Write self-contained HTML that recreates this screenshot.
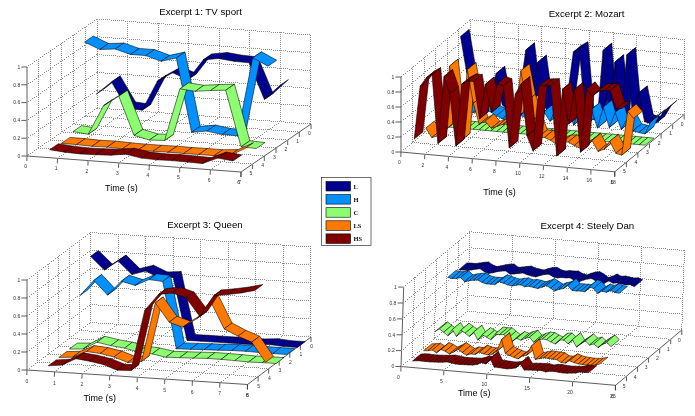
<!DOCTYPE html>
<html><head><meta charset="utf-8"><title>Excerpts</title>
<style>
html,body{margin:0;padding:0;background:#fff;}
svg{display:block;filter:blur(0.3px);font-family:"Liberation Sans",sans-serif;}
.g{stroke:#8e8e8e;stroke-width:1;fill:none;shape-rendering:crispEdges}
.ax{stroke:#333;stroke-width:.8;fill:none}
.rb path{stroke:#000;stroke-width:.55;stroke-linejoin:round}
.tk{font-size:5px;fill:#333}
.ti{font-size:9.7px;fill:#000}
.xl{font-size:9px;fill:#000}
.lg{font-size:6.5px;font-weight:bold;fill:#111;font-family:"Liberation Serif",serif}
</style></head><body>
<svg width="695" height="416" viewBox="0 0 695 416">
<rect width="695" height="416" fill="#fff"/>
<line x1="27.0" y1="156.0" x2="241.0" y2="172.0" class="ax"/>
<line x1="241.0" y1="172.0" x2="311.0" y2="124.0" class="ax"/>
<line x1="27.0" y1="156.0" x2="27.0" y2="67.0" class="ax"/>
<line x1="27.0" y1="156.0" x2="26.8" y2="161.0" class="ax"/>
<text x="25.7" y="167.9" class="tk" text-anchor="middle">0</text>
<line x1="57.5" y1="158.3" x2="57.3" y2="163.3" class="ax"/>
<text x="56.2" y="170.2" class="tk" text-anchor="middle">1</text>
<line x1="88.1" y1="160.6" x2="87.9" y2="165.6" class="ax"/>
<text x="86.8" y="172.5" class="tk" text-anchor="middle">2</text>
<line x1="118.7" y1="162.9" x2="118.5" y2="167.9" class="ax"/>
<text x="117.4" y="174.8" class="tk" text-anchor="middle">3</text>
<line x1="149.3" y1="165.2" x2="149.1" y2="170.2" class="ax"/>
<text x="148.0" y="177.1" class="tk" text-anchor="middle">4</text>
<line x1="179.8" y1="167.4" x2="179.6" y2="172.4" class="ax"/>
<text x="178.5" y="179.3" class="tk" text-anchor="middle">5</text>
<line x1="210.4" y1="169.7" x2="210.2" y2="174.7" class="ax"/>
<text x="209.1" y="181.6" class="tk" text-anchor="middle">6</text>
<line x1="241.0" y1="172.0" x2="240.8" y2="177.0" class="ax"/>
<text x="239.7" y="183.9" class="tk" text-anchor="middle">7</text>
<line x1="311.0" y1="124.0" x2="311.0" y2="129.0" class="ax"/>
<text x="309.3" y="135.0" class="tk" text-anchor="middle">0</text>
<line x1="299.3" y1="132.0" x2="299.3" y2="137.0" class="ax"/>
<text x="297.6" y="143.0" class="tk" text-anchor="middle">1</text>
<line x1="287.7" y1="140.0" x2="287.7" y2="145.0" class="ax"/>
<text x="286.0" y="151.0" class="tk" text-anchor="middle">2</text>
<line x1="276.0" y1="148.0" x2="276.0" y2="153.0" class="ax"/>
<text x="274.3" y="159.0" class="tk" text-anchor="middle">3</text>
<line x1="264.3" y1="156.0" x2="264.3" y2="161.0" class="ax"/>
<text x="262.6" y="167.0" class="tk" text-anchor="middle">4</text>
<line x1="252.6" y1="164.0" x2="252.6" y2="169.0" class="ax"/>
<text x="250.9" y="175.0" class="tk" text-anchor="middle">5</text>
<line x1="241.0" y1="172.0" x2="241.0" y2="177.0" class="ax"/>
<text x="238.7" y="184.0" class="tk" text-anchor="middle">6</text>
<line x1="21.4" y1="156.0" x2="27.0" y2="156.0" class="ax"/>
<text x="20.2" y="157.8" class="tk" text-anchor="end">0</text>
<line x1="21.4" y1="138.2" x2="27.0" y2="138.2" class="ax"/>
<text x="20.2" y="140.0" class="tk" text-anchor="end">0.2</text>
<line x1="21.4" y1="120.4" x2="27.0" y2="120.4" class="ax"/>
<text x="20.2" y="122.2" class="tk" text-anchor="end">0.4</text>
<line x1="21.4" y1="102.6" x2="27.0" y2="102.6" class="ax"/>
<text x="20.2" y="104.4" class="tk" text-anchor="end">0.6</text>
<line x1="21.4" y1="84.8" x2="27.0" y2="84.8" class="ax"/>
<text x="20.2" y="86.6" class="tk" text-anchor="end">0.8</text>
<line x1="21.4" y1="67.0" x2="27.0" y2="67.0" class="ax"/>
<text x="20.2" y="68.8" class="tk" text-anchor="end">1</text>
<path class="g" d="M97 19.5h1m-1 2h1m-1 2h1m-1 2h1m-1 2h1m-1 2h1m-1 2h1m-1 2h1m-1 2h1m-1 2h1m-1 2h1m-1 2h1m-1 2h1m-1 2h1m-1 2h1m-1 2h1m-1 2h1m-1 2h1m-1 2h1m-1 2h1m-1 2h1m-1 2h1m-1 2h1m-1 2h1m-1 2h1m-1 2h1m-1 2h1m-1 2h1m-1 2h1m-1 2h1m-1 2h1m-1 2h1m-1 2h1m-1 2h1m-1 2h1m-1 2h1m-1 2h1m-1 2h1m-1 2h1m-1 2h1m-1 2h1m-1 2h1m-1 2h1m-1 2h1m-1 2h1m29 -86h1m-1 2h1m-1 2h1m-1 2h1m-1 2h1m-1 2h1m-1 2h1m-1 2h1m-1 2h1m-1 2h1m-1 2h1m-1 2h1m-1 2h1m-1 2h1m-1 2h1m-1 2h1m-1 2h1m-1 2h1m-1 2h1m-1 2h1m-1 2h1m-1 2h1m-1 2h1m-1 2h1m-1 2h1m-1 2h1m-1 2h1m-1 2h1m-1 2h1m-1 2h1m-1 2h1m-1 2h1m-1 2h1m-1 2h1m-1 2h1m-1 2h1m-1 2h1m-1 2h1m-1 2h1m-1 2h1m-1 2h1m-1 2h1m-1 2h1m-1 2h1m-1 2h1m-71 49h1m1 -2h1m1 -1h1m1 -1h1m1 -2h1m1 -1h1m1 -1h1m1 -2h1m1 -1h1m1 -2h1m1 -1h1m1 -1h1m1 -2h1m1 -1h1m1 -1h1m1 -2h1m1 -1h1m1 -1h1m1 -2h1m1 -1h1m1 -2h1m1 -1h1m1 -1h1m1 -2h1m1 -1h1m1 -1h1m1 -2h1m1 -1h1m1 -2h1m1 -1h1m1 -1h1m1 -2h1m1 -1h1m1 -1h1m1 -2h1m1 -1h1m30 -87h1m-1 2h1m-1 2h1m-1 2h1m-1 2h1m-1 2h1m-1 2h1m-1 2h1m-1 2h1m-1 2h1m-1 2h1m-1 2h1m-1 2h1m-1 2h1m-1 2h1m-1 2h1m-1 2h1m-1 2h1m-1 2h1m-1 2h1m-1 2h1m-1 2h1m-1 2h1m-1 2h1m-1 2h1m-1 2h1m-1 2h1m-1 2h1m-1 2h1m-1 2h1m-1 2h1m-1 2h1m-1 2h1m-1 2h1m-1 2h1m-1 2h1m-1 2h1m-1 2h1m-1 2h1m-1 2h1m-1 2h1m-1 2h1m-1 2h1m-1 2h1m-1 2h1m-71 49h1m1 -2h1m1 -1h1m1 -1h1m1 -2h1m1 -1h1m1 -1h1m1 -2h1m1 -1h1m1 -2h1m1 -1h1m1 -1h1m1 -2h1m1 -1h1m1 -1h1m1 -2h1m1 -1h1m1 -1h1m1 -2h1m1 -1h1m1 -2h1m1 -1h1m1 -1h1m1 -2h1m1 -1h1m1 -1h1m1 -2h1m1 -1h1m1 -2h1m1 -1h1m1 -1h1m1 -2h1m1 -1h1m1 -1h1m1 -2h1m31 -88h1m-1 2h1m-1 2h1m-1 2h1m-1 2h1m-1 2h1m-1 2h1m-1 2h1m-1 2h1m-1 2h1m-1 2h1m-1 2h1m-1 2h1m-1 2h1m-1 2h1m-1 2h1m-1 2h1m-1 2h1m-1 2h1m-1 2h1m-1 2h1m-1 2h1m-1 2h1m-1 2h1m-1 2h1m-1 2h1m-1 2h1m-1 2h1m-1 2h1m-1 2h1m-1 2h1m-1 2h1m-1 2h1m-1 2h1m-1 2h1m-1 2h1m-1 2h1m-1 2h1m-1 2h1m-1 2h1m-1 2h1m-1 2h1m-1 2h1m-1 2h1m-1 2h1m-71 50h1m1 -2h1m1 -1h1m1 -2h1m1 -1h1m1 -1h1m1 -2h1m1 -1h1m1 -1h1m1 -2h1m1 -1h1m1 -2h1m1 -1h1m1 -1h1m1 -2h1m1 -1h1m1 -1h1m1 -2h1m1 -1h1m1 -2h1m1 -1h1m1 -1h1m1 -2h1m1 -1h1m1 -1h1m1 -2h1m1 -1h1m1 -2h1m1 -1h1m1 -1h1m1 -2h1m1 -1h1m1 -1h1m1 -2h1m1 -1h1m1 -1h1m30 -87h1m-1 2h1m-1 2h1m-1 2h1m-1 2h1m-1 2h1m-1 2h1m-1 2h1m-1 2h1m-1 2h1m-1 2h1m-1 2h1m-1 2h1m-1 2h1m-1 2h1m-1 2h1m-1 2h1m-1 2h1m-1 2h1m-1 2h1m-1 2h1m-1 2h1m-1 2h1m-1 2h1m-1 2h1m-1 2h1m-1 2h1m-1 2h1m-1 2h1m-1 2h1m-1 2h1m-1 2h1m-1 2h1m-1 2h1m-1 2h1m-1 2h1m-1 2h1m-1 2h1m-1 2h1m-1 2h1m-1 2h1m-1 2h1m-1 2h1m-1 2h1m-1 2h1m-71 48h1m1 -1h1m1 -1h1m1 -2h1m1 -1h1m1 -1h1m1 -2h1m1 -1h1m1 -1h1m1 -2h1m1 -1h1m1 -2h1m1 -1h1m1 -1h1m1 -2h1m1 -1h1m1 -1h1m1 -2h1m1 -1h1m1 -2h1m1 -1h1m1 -1h1m1 -2h1m1 -1h1m1 -1h1m1 -2h1m1 -1h1m1 -2h1m1 -1h1m1 -1h1m1 -2h1m1 -1h1m1 -1h1m1 -2h1m1 -1h1m31 -88h1m-1 2h1m-1 2h1m-1 2h1m-1 2h1m-1 2h1m-1 2h1m-1 2h1m-1 2h1m-1 2h1m-1 2h1m-1 2h1m-1 2h1m-1 2h1m-1 2h1m-1 2h1m-1 2h1m-1 2h1m-1 2h1m-1 2h1m-1 2h1m-1 2h1m-1 2h1m-1 2h1m-1 2h1m-1 2h1m-1 2h1m-1 2h1m-1 2h1m-1 2h1m-1 2h1m-1 2h1m-1 2h1m-1 2h1m-1 2h1m-1 2h1m-1 2h1m-1 2h1m-1 2h1m-1 2h1m-1 2h1m-1 2h1m-1 2h1m-1 2h1m-1 2h1m-71 49h1m1 -1h1m1 -2h1m1 -1h1m1 -1h1m1 -2h1m1 -1h1m1 -1h1m1 -2h1m1 -1h1m1 -2h1m1 -1h1m1 -1h1m1 -2h1m1 -1h1m1 -1h1m1 -2h1m1 -1h1m1 -2h1m1 -1h1m1 -1h1m1 -2h1m1 -1h1m1 -1h1m1 -2h1m1 -1h1m1 -1h1m1 -2h1m1 -1h1m1 -2h1m1 -1h1m1 -1h1m1 -2h1m1 -1h1m1 -1h1m1 -2h1m30 -87h1m-1 2h1m-1 2h1m-1 2h1m-1 2h1m-1 2h1m-1 2h1m-1 2h1m-1 2h1m-1 2h1m-1 2h1m-1 2h1m-1 2h1m-1 2h1m-1 2h1m-1 2h1m-1 2h1m-1 2h1m-1 2h1m-1 2h1m-1 2h1m-1 2h1m-1 2h1m-1 2h1m-1 2h1m-1 2h1m-1 2h1m-1 2h1m-1 2h1m-1 2h1m-1 2h1m-1 2h1m-1 2h1m-1 2h1m-1 2h1m-1 2h1m-1 2h1m-1 2h1m-1 2h1m-1 2h1m-1 2h1m-1 2h1m-1 2h1m-1 2h1m-1 2h1m-71 49h1m1 -1h1m1 -2h1m1 -1h1m1 -1h1m1 -2h1m1 -1h1m1 -1h1m1 -2h1m1 -1h1m1 -2h1m1 -1h1m1 -1h1m1 -2h1m1 -1h1m1 -1h1m1 -2h1m1 -1h1m1 -2h1m1 -1h1m1 -1h1m1 -2h1m1 -1h1m1 -1h1m1 -2h1m1 -1h1m1 -1h1m1 -2h1m1 -1h1m1 -2h1m1 -1h1m1 -1h1m1 -2h1m1 -1h1m1 -1h1m31 -88h1m-1 2h1m-1 2h1m-1 2h1m-1 2h1m-1 2h1m-1 2h1m-1 2h1m-1 2h1m-1 2h1m-1 2h1m-1 2h1m-1 2h1m-1 2h1m-1 2h1m-1 2h1m-1 2h1m-1 2h1m-1 2h1m-1 2h1m-1 2h1m-1 2h1m-1 2h1m-1 2h1m-1 2h1m-1 2h1m-1 2h1m-1 2h1m-1 2h1m-1 2h1m-1 2h1m-1 2h1m-1 2h1m-1 2h1m-1 2h1m-1 2h1m-1 2h1m-1 2h1m-1 2h1m-1 2h1m-1 2h1m-1 2h1m-1 2h1m-1 2h1m-1 2h1m-214 -15h1m1 0h1m1 0h1m1 0h1m1 0h1m1 0h1m1 0h1m1 1h1m1 0h1m1 0h1m1 0h1m1 0h1m1 0h1m1 0h1m1 1h1m1 0h1m1 0h1m1 0h1m1 0h1m1 0h1m1 1h1m1 0h1m1 0h1m1 0h1m1 0h1m1 0h1m1 0h1m1 1h1m1 0h1m1 0h1m1 0h1m1 0h1m1 0h1m1 0h1m1 1h1m1 0h1m1 0h1m1 0h1m1 0h1m1 0h1m1 1h1m1 0h1m1 0h1m1 0h1m1 0h1m1 0h1m1 0h1m1 1h1m1 0h1m1 0h1m1 0h1m1 0h1m1 0h1m1 0h1m1 1h1m1 0h1m1 0h1m1 0h1m1 0h1m1 0h1m1 1h1m1 0h1m1 0h1m1 0h1m1 0h1m1 0h1m1 0h1m1 1h1m1 0h1m1 0h1m1 0h1m1 0h1m1 0h1m1 0h1m1 1h1m1 0h1m1 0h1m1 0h1m1 0h1m1 0h1m1 1h1m1 0h1m1 0h1m1 0h1m1 0h1m1 0h1m1 0h1m1 1h1m1 0h1m1 0h1m1 0h1m1 0h1m1 0h1m1 0h1m1 1h1m1 0h1m1 0h1m1 0h1m1 0h1m1 0h1m1 1h1m1 0h1m1 0h1m1 0h1m1 0h1m1 0h1m1 0h1m-284 33h1m1 -2h1m1 -1h1m1 -1h1m1 -2h1m1 -1h1m1 -1h1m1 -2h1m1 -1h1m1 -2h1m1 -1h1m1 -1h1m1 -2h1m1 -1h1m1 -1h1m1 -2h1m1 -1h1m1 -1h1m1 -2h1m1 -1h1m1 -2h1m1 -1h1m1 -1h1m1 -2h1m1 -1h1m1 -1h1m1 -2h1m1 -1h1m1 -2h1m1 -1h1m1 -1h1m1 -2h1m1 -1h1m1 -1h1m1 -2h1m1 -1h1m0 -18h1m1 0h1m1 0h1m1 0h1m1 0h1m1 0h1m1 1h1m1 0h1m1 0h1m1 0h1m1 0h1m1 0h1m1 1h1m1 0h1m1 0h1m1 0h1m1 0h1m1 0h1m1 0h1m1 1h1m1 0h1m1 0h1m1 0h1m1 0h1m1 0h1m1 0h1m1 1h1m1 0h1m1 0h1m1 0h1m1 0h1m1 0h1m1 1h1m1 0h1m1 0h1m1 0h1m1 0h1m1 0h1m1 0h1m1 1h1m1 0h1m1 0h1m1 0h1m1 0h1m1 0h1m1 0h1m1 1h1m1 0h1m1 0h1m1 0h1m1 0h1m1 0h1m1 1h1m1 0h1m1 0h1m1 0h1m1 0h1m1 0h1m1 0h1m1 1h1m1 0h1m1 0h1m1 0h1m1 0h1m1 0h1m1 0h1m1 1h1m1 0h1m1 0h1m1 0h1m1 0h1m1 0h1m1 1h1m1 0h1m1 0h1m1 0h1m1 0h1m1 0h1m1 0h1m1 1h1m1 0h1m1 0h1m1 0h1m1 0h1m1 0h1m1 0h1m1 1h1m1 0h1m1 0h1m1 0h1m1 0h1m1 0h1m1 1h1m1 0h1m1 0h1m1 0h1m1 0h1m1 0h1m1 0h1m1 1h1m1 0h1m1 0h1m1 0h1m1 0h1m1 0h1m1 0h1m1 1h1m-284 32h1m1 -1h1m1 -2h1m1 -1h1m1 -1h1m1 -2h1m1 -1h1m1 -2h1m1 -1h1m1 -1h1m1 -2h1m1 -1h1m1 -1h1m1 -2h1m1 -1h1m1 -2h1m1 -1h1m1 -1h1m1 -2h1m1 -1h1m1 -1h1m1 -2h1m1 -1h1m1 -2h1m1 -1h1m1 -1h1m1 -2h1m1 -1h1m1 -1h1m1 -2h1m1 -1h1m1 -1h1m1 -2h1m1 -1h1m1 -2h1m1 -1h1m0 -18h1m1 0h1m1 0h1m1 0h1m1 1h1m1 0h1m1 0h1m1 0h1m1 0h1m1 0h1m1 0h1m1 1h1m1 0h1m1 0h1m1 0h1m1 0h1m1 0h1m1 0h1m1 1h1m1 0h1m1 0h1m1 0h1m1 0h1m1 0h1m1 1h1m1 0h1m1 0h1m1 0h1m1 0h1m1 0h1m1 0h1m1 1h1m1 0h1m1 0h1m1 0h1m1 0h1m1 0h1m1 0h1m1 1h1m1 0h1m1 0h1m1 0h1m1 0h1m1 0h1m1 1h1m1 0h1m1 0h1m1 0h1m1 0h1m1 0h1m1 0h1m1 1h1m1 0h1m1 0h1m1 0h1m1 0h1m1 0h1m1 0h1m1 1h1m1 0h1m1 0h1m1 0h1m1 0h1m1 0h1m1 1h1m1 0h1m1 0h1m1 0h1m1 0h1m1 0h1m1 0h1m1 1h1m1 0h1m1 0h1m1 0h1m1 0h1m1 0h1m1 0h1m1 1h1m1 0h1m1 0h1m1 0h1m1 0h1m1 0h1m1 1h1m1 0h1m1 0h1m1 0h1m1 0h1m1 0h1m1 0h1m1 1h1m1 0h1m1 0h1m1 0h1m1 0h1m1 0h1m1 0h1m1 1h1m1 0h1m1 0h1m1 0h1m1 0h1m1 0h1m1 1h1m1 0h1m1 0h1m-284 32h1m1 -1h1m1 -2h1m1 -1h1m1 -1h1m1 -2h1m1 -1h1m1 -1h1m1 -2h1m1 -1h1m1 -1h1m1 -2h1m1 -1h1m1 -2h1m1 -1h1m1 -1h1m1 -2h1m1 -1h1m1 -1h1m1 -2h1m1 -1h1m1 -2h1m1 -1h1m1 -1h1m1 -2h1m1 -1h1m1 -1h1m1 -2h1m1 -1h1m1 -2h1m1 -1h1m1 -1h1m1 -2h1m1 -1h1m1 -1h1m1 -2h1m0 -18h1m1 0h1m1 0h1m1 1h1m1 0h1m1 0h1m1 0h1m1 0h1m1 0h1m1 0h1m1 1h1m1 0h1m1 0h1m1 0h1m1 0h1m1 0h1m1 1h1m1 0h1m1 0h1m1 0h1m1 0h1m1 0h1m1 0h1m1 1h1m1 0h1m1 0h1m1 0h1m1 0h1m1 0h1m1 0h1m1 1h1m1 0h1m1 0h1m1 0h1m1 0h1m1 0h1m1 1h1m1 0h1m1 0h1m1 0h1m1 0h1m1 0h1m1 0h1m1 1h1m1 0h1m1 0h1m1 0h1m1 0h1m1 0h1m1 0h1m1 1h1m1 0h1m1 0h1m1 0h1m1 0h1m1 0h1m1 1h1m1 0h1m1 0h1m1 0h1m1 0h1m1 0h1m1 0h1m1 1h1m1 0h1m1 0h1m1 0h1m1 0h1m1 0h1m1 0h1m1 1h1m1 0h1m1 0h1m1 0h1m1 0h1m1 0h1m1 1h1m1 0h1m1 0h1m1 0h1m1 0h1m1 0h1m1 0h1m1 1h1m1 0h1m1 0h1m1 0h1m1 0h1m1 0h1m1 0h1m1 1h1m1 0h1m1 0h1m1 0h1m1 0h1m1 0h1m1 1h1m1 0h1m1 0h1m1 0h1m1 0h1m1 0h1m1 0h1m1 1h1m1 0h1m1 0h1m1 0h1m-284 32h1m1 -1h1m1 -1h1m1 -2h1m1 -1h1m1 -1h1m1 -2h1m1 -1h1m1 -2h1m1 -1h1m1 -1h1m1 -2h1m1 -1h1m1 -1h1m1 -2h1m1 -1h1m1 -2h1m1 -1h1m1 -1h1m1 -2h1m1 -1h1m1 -1h1m1 -2h1m1 -1h1m1 -1h1m1 -2h1m1 -1h1m1 -2h1m1 -1h1m1 -1h1m1 -2h1m1 -1h1m1 -1h1m1 -2h1m1 -1h1m1 -2h1m0 -18h1m1 0h1m1 1h1m1 0h1m1 0h1m1 0h1m1 0h1m1 0h1m1 1h1m1 0h1m1 0h1m1 0h1m1 0h1m1 0h1m1 0h1m1 1h1m1 0h1m1 0h1m1 0h1m1 0h1m1 0h1m1 0h1m1 1h1m1 0h1m1 0h1m1 0h1m1 0h1m1 0h1m1 1h1m1 0h1m1 0h1m1 0h1m1 0h1m1 0h1m1 0h1m1 1h1m1 0h1m1 0h1m1 0h1m1 0h1m1 0h1m1 0h1m1 1h1m1 0h1m1 0h1m1 0h1m1 0h1m1 0h1m1 1h1m1 0h1m1 0h1m1 0h1m1 0h1m1 0h1m1 0h1m1 1h1m1 0h1m1 0h1m1 0h1m1 0h1m1 0h1m1 0h1m1 1h1m1 0h1m1 0h1m1 0h1m1 0h1m1 0h1m1 1h1m1 0h1m1 0h1m1 0h1m1 0h1m1 0h1m1 0h1m1 1h1m1 0h1m1 0h1m1 0h1m1 0h1m1 0h1m1 0h1m1 1h1m1 0h1m1 0h1m1 0h1m1 0h1m1 0h1m1 1h1m1 0h1m1 0h1m1 0h1m1 0h1m1 0h1m1 0h1m1 1h1m1 0h1m1 0h1m1 0h1m1 0h1m1 0h1m1 0h1m1 1h1m1 0h1m1 0h1m1 0h1m1 0h1m-284 33h1m1 -2h1m1 -1h1m1 -1h1m1 -2h1m1 -1h1m1 -2h1m1 -1h1m1 -1h1m1 -2h1m1 -1h1m1 -1h1m1 -2h1m1 -1h1m1 -2h1m1 -1h1m1 -1h1m1 -2h1m1 -1h1m1 -1h1m1 -2h1m1 -1h1m1 -2h1m1 -1h1m1 -1h1m1 -2h1m1 -1h1m1 -1h1m1 -2h1m1 -1h1m1 -2h1m1 -1h1m1 -1h1m1 -2h1m1 -1h1m1 -1h1m0 -18h1m1 0h1m1 0h1m1 0h1m1 0h1m1 0h1m1 0h1m1 1h1m1 0h1m1 0h1m1 0h1m1 0h1m1 0h1m1 0h1m1 1h1m1 0h1m1 0h1m1 0h1m1 0h1m1 0h1m1 1h1m1 0h1m1 0h1m1 0h1m1 0h1m1 0h1m1 0h1m1 1h1m1 0h1m1 0h1m1 0h1m1 0h1m1 0h1m1 0h1m1 1h1m1 0h1m1 0h1m1 0h1m1 0h1m1 0h1m1 1h1m1 0h1m1 0h1m1 0h1m1 0h1m1 0h1m1 0h1m1 1h1m1 0h1m1 0h1m1 0h1m1 0h1m1 0h1m1 0h1m1 1h1m1 0h1m1 0h1m1 0h1m1 0h1m1 0h1m1 1h1m1 0h1m1 0h1m1 0h1m1 0h1m1 0h1m1 0h1m1 1h1m1 0h1m1 0h1m1 0h1m1 0h1m1 0h1m1 0h1m1 1h1m1 0h1m1 0h1m1 0h1m1 0h1m1 0h1m1 1h1m1 0h1m1 0h1m1 0h1m1 0h1m1 0h1m1 0h1m1 1h1m1 0h1m1 0h1m1 0h1m1 0h1m1 0h1m1 0h1m1 1h1m1 0h1m1 0h1m1 0h1m1 0h1m1 0h1m1 1h1m1 0h1m1 0h1m1 0h1m1 0h1m1 0h1m1 0h1m-284 33h1m1 -2h1m1 -1h1m1 -1h1m1 -2h1m1 -1h1m1 -1h1m1 -2h1m1 -1h1m1 -2h1m1 -1h1m1 -1h1m1 -2h1m1 -1h1m1 -1h1m1 -2h1m1 -1h1m1 -1h1m1 -2h1m1 -1h1m1 -2h1m1 -1h1m1 -1h1m1 -2h1m1 -1h1m1 -1h1m1 -2h1m1 -1h1m1 -2h1m1 -1h1m1 -1h1m1 -2h1m1 -1h1m1 -1h1m1 -2h1m1 -1h1m-12 8h1m-1 2h1m-1 2h1m-1 2h1m-1 2h1m-1 2h1m-1 2h1m-1 2h1m-1 2h1m-1 2h1m-1 2h1m-1 2h1m-1 2h1m-1 2h1m-1 2h1m-1 2h1m-1 2h1m-1 2h1m-1 2h1m-1 2h1m-1 2h1m-1 2h1m-1 2h1m-1 2h1m-1 2h1m-1 2h1m-1 2h1m-1 2h1m-1 2h1m-1 2h1m-1 2h1m-1 2h1m-1 2h1m-1 2h1m-1 2h1m-1 2h1m-1 2h1m-1 2h1m-1 2h1m-1 2h1m-1 2h1m-1 2h1m-1 2h1m-1 2h1m-1 2h1m-1 1h1m1 0h1m1 0h1m1 0h1m1 0h1m1 0h1m1 0h1m1 1h1m1 0h1m1 0h1m1 0h1m1 0h1m1 0h1m1 0h1m1 1h1m1 0h1m1 0h1m1 0h1m1 0h1m1 0h1m1 1h1m1 0h1m1 0h1m1 0h1m1 0h1m1 0h1m1 0h1m1 1h1m1 0h1m1 0h1m1 0h1m1 0h1m1 0h1m1 0h1m1 1h1m1 0h1m1 0h1m1 0h1m1 0h1m1 0h1m1 1h1m1 0h1m1 0h1m1 0h1m1 0h1m1 0h1m1 0h1m1 1h1m1 0h1m1 0h1m1 0h1m1 0h1m1 0h1m1 0h1m1 1h1m1 0h1m1 0h1m1 0h1m1 0h1m1 0h1m1 1h1m1 0h1m1 0h1m1 0h1m1 0h1m1 0h1m1 0h1m1 1h1m1 0h1m1 0h1m1 0h1m1 0h1m1 0h1m1 0h1m1 1h1m1 0h1m1 0h1m1 0h1m1 0h1m1 0h1m1 0h1m1 1h1m1 0h1m1 0h1m1 0h1m1 0h1m1 0h1m1 1h1m1 0h1m1 0h1m1 0h1m1 0h1m1 0h1m1 0h1m1 1h1m1 0h1m1 0h1m1 0h1m1 0h1m1 0h1m1 0h1m1 1h1m1 0h1m1 0h1m1 0h1m1 0h1m1 0h1m-225 -96h1m-1 2h1m-1 2h1m-1 2h1m-1 2h1m-1 2h1m-1 2h1m-1 2h1m-1 2h1m-1 2h1m-1 2h1m-1 2h1m-1 2h1m-1 2h1m-1 2h1m-1 2h1m-1 2h1m-1 2h1m-1 2h1m-1 2h1m-1 2h1m-1 2h1m-1 2h1m-1 2h1m-1 2h1m-1 2h1m-1 2h1m-1 2h1m-1 2h1m-1 2h1m-1 2h1m-1 2h1m-1 2h1m-1 2h1m-1 2h1m-1 2h1m-1 2h1m-1 2h1m-1 2h1m-1 2h1m-1 2h1m-1 2h1m-1 2h1m-1 2h1m-1 2h1m-1 0h1m1 1h1m1 0h1m1 0h1m1 0h1m1 0h1m1 0h1m1 1h1m1 0h1m1 0h1m1 0h1m1 0h1m1 0h1m1 0h1m1 1h1m1 0h1m1 0h1m1 0h1m1 0h1m1 0h1m1 0h1m1 1h1m1 0h1m1 0h1m1 0h1m1 0h1m1 0h1m1 1h1m1 0h1m1 0h1m1 0h1m1 0h1m1 0h1m1 0h1m1 1h1m1 0h1m1 0h1m1 0h1m1 0h1m1 0h1m1 0h1m1 1h1m1 0h1m1 0h1m1 0h1m1 0h1m1 0h1m1 1h1m1 0h1m1 0h1m1 0h1m1 0h1m1 0h1m1 0h1m1 1h1m1 0h1m1 0h1m1 0h1m1 0h1m1 0h1m1 0h1m1 1h1m1 0h1m1 0h1m1 0h1m1 0h1m1 0h1m1 1h1m1 0h1m1 0h1m1 0h1m1 0h1m1 0h1m1 0h1m1 1h1m1 0h1m1 0h1m1 0h1m1 0h1m1 0h1m1 0h1m1 1h1m1 0h1m1 0h1m1 0h1m1 0h1m1 0h1m1 1h1m1 0h1m1 0h1m1 0h1m1 0h1m1 0h1m1 0h1m1 1h1m1 0h1m1 0h1m1 0h1m1 0h1m1 0h1m1 0h1m1 1h1m1 0h1m1 0h1m1 0h1m1 0h1m1 0h1m1 1h1m-227 -97h1m-1 2h1m-1 2h1m-1 2h1m-1 2h1m-1 2h1m-1 2h1m-1 2h1m-1 2h1m-1 2h1m-1 2h1m-1 2h1m-1 2h1m-1 2h1m-1 2h1m-1 2h1m-1 2h1m-1 2h1m-1 2h1m-1 2h1m-1 2h1m-1 2h1m-1 2h1m-1 2h1m-1 2h1m-1 2h1m-1 2h1m-1 2h1m-1 2h1m-1 2h1m-1 2h1m-1 2h1m-1 2h1m-1 2h1m-1 2h1m-1 2h1m-1 2h1m-1 2h1m-1 2h1m-1 2h1m-1 2h1m-1 2h1m-1 2h1m-1 2h1m-1 2h1m-1 0h1m1 1h1m1 0h1m1 0h1m1 0h1m1 0h1m1 0h1m1 1h1m1 0h1m1 0h1m1 0h1m1 0h1m1 0h1m1 0h1m1 1h1m1 0h1m1 0h1m1 0h1m1 0h1m1 0h1m1 0h1m1 1h1m1 0h1m1 0h1m1 0h1m1 0h1m1 0h1m1 1h1m1 0h1m1 0h1m1 0h1m1 0h1m1 0h1m1 0h1m1 1h1m1 0h1m1 0h1m1 0h1m1 0h1m1 0h1m1 0h1m1 1h1m1 0h1m1 0h1m1 0h1m1 0h1m1 0h1m1 1h1m1 0h1m1 0h1m1 0h1m1 0h1m1 0h1m1 0h1m1 1h1m1 0h1m1 0h1m1 0h1m1 0h1m1 0h1m1 0h1m1 1h1m1 0h1m1 0h1m1 0h1m1 0h1m1 0h1m1 1h1m1 0h1m1 0h1m1 0h1m1 0h1m1 0h1m1 0h1m1 1h1m1 0h1m1 0h1m1 0h1m1 0h1m1 0h1m1 0h1m1 1h1m1 0h1m1 0h1m1 0h1m1 0h1m1 0h1m1 0h1m1 1h1m1 0h1m1 0h1m1 0h1m1 0h1m1 0h1m1 1h1m1 0h1m1 0h1m1 0h1m1 0h1m1 0h1m1 0h1m1 1h1m1 0h1m1 0h1m1 0h1m1 0h1m1 0h1m1 0h1m-226 -96h1m-1 2h1m-1 2h1m-1 2h1m-1 2h1m-1 2h1m-1 2h1m-1 2h1m-1 2h1m-1 2h1m-1 2h1m-1 2h1m-1 2h1m-1 2h1m-1 2h1m-1 2h1m-1 2h1m-1 2h1m-1 2h1m-1 2h1m-1 2h1m-1 2h1m-1 2h1m-1 2h1m-1 2h1m-1 2h1m-1 2h1m-1 2h1m-1 2h1m-1 2h1m-1 2h1m-1 2h1m-1 2h1m-1 2h1m-1 2h1m-1 2h1m-1 2h1m-1 2h1m-1 2h1m-1 2h1m-1 2h1m-1 2h1m-1 2h1m-1 2h1m-1 2h1m-1 1h1m1 0h1m1 0h1m1 0h1m1 0h1m1 0h1m1 0h1m1 1h1m1 0h1m1 0h1m1 0h1m1 0h1m1 0h1m1 0h1m1 1h1m1 0h1m1 0h1m1 0h1m1 0h1m1 0h1m1 1h1m1 0h1m1 0h1m1 0h1m1 0h1m1 0h1m1 0h1m1 1h1m1 0h1m1 0h1m1 0h1m1 0h1m1 0h1m1 0h1m1 1h1m1 0h1m1 0h1m1 0h1m1 0h1m1 0h1m1 1h1m1 0h1m1 0h1m1 0h1m1 0h1m1 0h1m1 0h1m1 1h1m1 0h1m1 0h1m1 0h1m1 0h1m1 0h1m1 0h1m1 1h1m1 0h1m1 0h1m1 0h1m1 0h1m1 0h1m1 1h1m1 0h1m1 0h1m1 0h1m1 0h1m1 0h1m1 0h1m1 1h1m1 0h1m1 0h1m1 0h1m1 0h1m1 0h1m1 0h1m1 1h1m1 0h1m1 0h1m1 0h1m1 0h1m1 0h1m1 0h1m1 1h1m1 0h1m1 0h1m1 0h1m1 0h1m1 0h1m1 1h1m1 0h1m1 0h1m1 0h1m1 0h1m1 0h1m1 0h1m1 1h1m1 0h1m1 0h1m1 0h1m1 0h1m1 0h1m1 0h1m1 1h1m1 0h1m1 0h1m1 0h1m1 0h1m1 0h1m-225 -96h1m-1 2h1m-1 2h1m-1 2h1m-1 2h1m-1 2h1m-1 2h1m-1 2h1m-1 2h1m-1 2h1m-1 2h1m-1 2h1m-1 2h1m-1 2h1m-1 2h1m-1 2h1m-1 2h1m-1 2h1m-1 2h1m-1 2h1m-1 2h1m-1 2h1m-1 2h1m-1 2h1m-1 2h1m-1 2h1m-1 2h1m-1 2h1m-1 2h1m-1 2h1m-1 2h1m-1 2h1m-1 2h1m-1 2h1m-1 2h1m-1 2h1m-1 2h1m-1 2h1m-1 2h1m-1 2h1m-1 2h1m-1 2h1m-1 2h1m-1 2h1m-1 2h1m-1 0h1m1 1h1m1 0h1m1 0h1m1 0h1m1 0h1m1 0h1m1 1h1m1 0h1m1 0h1m1 0h1m1 0h1m1 0h1m1 0h1m1 1h1m1 0h1m1 0h1m1 0h1m1 0h1m1 0h1m1 0h1m1 1h1m1 0h1m1 0h1m1 0h1m1 0h1m1 0h1m1 1h1m1 0h1m1 0h1m1 0h1m1 0h1m1 0h1m1 0h1m1 1h1m1 0h1m1 0h1m1 0h1m1 0h1m1 0h1m1 0h1m1 1h1m1 0h1m1 0h1m1 0h1m1 0h1m1 0h1m1 1h1m1 0h1m1 0h1m1 0h1m1 0h1m1 0h1m1 0h1m1 1h1m1 0h1m1 0h1m1 0h1m1 0h1m1 0h1m1 0h1m1 1h1m1 0h1m1 0h1m1 0h1m1 0h1m1 0h1m1 1h1m1 0h1m1 0h1m1 0h1m1 0h1m1 0h1m1 0h1m1 1h1m1 0h1m1 0h1m1 0h1m1 0h1m1 0h1m1 0h1m1 1h1m1 0h1m1 0h1m1 0h1m1 0h1m1 0h1m1 1h1m1 0h1m1 0h1m1 0h1m1 0h1m1 0h1m1 0h1m1 1h1m1 0h1m1 0h1m1 0h1m1 0h1m1 0h1m1 0h1m1 1h1m1 0h1m1 0h1m1 0h1m1 0h1m1 0h1m1 1h1"/>
<g fill="#00008f" class="rb"><path d="M96.2 94.2L105.0 88.2L120.3 75.9L111.5 81.9Z"/><path d="M111.5 81.9L120.3 75.9L135.6 102.0L126.8 108.0Z"/><path d="M126.8 108.0L135.6 102.0L150.8 104.2L142.1 110.2Z"/><path d="M142.1 110.2L150.8 104.2L166.1 75.2L157.4 81.2Z"/><path d="M157.4 81.2L166.1 75.2L181.4 66.8L172.7 72.8Z"/><path d="M172.7 72.8L181.4 66.8L196.7 73.6L187.9 79.6Z"/><path d="M187.9 79.6L196.7 73.6L212.0 53.9L203.2 59.9Z"/><path d="M203.2 59.9L212.0 53.9L227.3 52.5L218.5 58.5Z"/><path d="M218.5 58.5L227.3 52.5L242.6 55.3L233.8 61.3Z"/><path d="M233.8 61.3L242.6 55.3L257.8 56.8L249.1 62.8Z"/><path d="M249.1 62.8L257.8 56.8L273.1 93.4L264.4 99.4Z"/><path d="M264.4 99.4L273.1 93.4L288.4 79.6L279.7 85.6Z"/></g>
<g fill="#0090ff" class="rb"><path d="M84.6 42.0L93.3 36.0L108.6 43.5L99.9 49.5Z"/><path d="M99.9 49.5L108.6 43.5L123.9 43.0L115.1 49.0Z"/><path d="M115.1 49.0L123.9 43.0L139.2 48.4L130.4 54.4Z"/><path d="M130.4 54.4L139.2 48.4L154.5 49.6L145.7 55.6Z"/><path d="M145.7 55.6L154.5 49.6L169.7 55.3L161.0 61.3Z"/><path d="M161.0 61.3L169.7 55.3L185.0 52.0L176.3 58.0Z"/><path d="M176.3 58.0L185.0 52.0L200.3 126.3L191.6 132.3Z"/><path d="M191.6 132.3L200.3 126.3L215.6 125.1L206.8 131.1Z"/><path d="M206.8 131.1L215.6 125.1L230.9 128.5L222.1 134.5Z"/><path d="M222.1 134.5L230.9 128.5L246.2 129.7L237.4 135.7Z"/><path d="M237.4 135.7L246.2 129.7L261.5 51.8L252.7 57.8Z"/><path d="M252.7 57.8L261.5 51.8L276.7 60.2L268.0 66.2Z"/></g>
<g fill="#8cff70" class="rb"><path d="M72.9 131.6L81.7 125.6L96.9 128.2L88.2 134.2Z"/><path d="M88.2 134.2L96.9 128.2L112.2 99.7L103.5 105.7Z"/><path d="M103.5 105.7L112.2 99.7L127.5 90.2L118.8 96.2Z"/><path d="M118.8 96.2L127.5 90.2L142.8 129.4L134.0 135.4Z"/><path d="M134.0 135.4L142.8 129.4L158.1 134.0L149.3 140.0Z"/><path d="M149.3 140.0L158.1 134.0L173.4 134.4L164.6 140.4Z"/><path d="M164.6 140.4L173.4 134.4L188.6 82.8L179.9 88.8Z"/><path d="M179.9 88.8L188.6 82.8L203.9 85.3L195.2 91.3Z"/><path d="M195.2 91.3L203.9 85.3L219.2 84.5L210.5 90.5Z"/><path d="M210.5 90.5L219.2 84.5L234.5 84.2L225.7 90.2Z"/><path d="M225.7 90.2L234.5 84.2L249.8 140.8L241.0 146.8Z"/><path d="M241.0 146.8L249.8 140.8L265.1 142.5L256.3 148.5Z"/></g>
<g fill="#ff7800" class="rb"><path d="M61.2 143.4L70.0 137.4L85.3 138.6L76.5 144.6Z"/><path d="M76.5 144.6L85.3 138.6L100.6 140.3L91.8 146.3Z"/><path d="M91.8 146.3L100.6 140.3L115.8 141.1L107.1 147.1Z"/><path d="M107.1 147.1L115.8 141.1L131.1 142.8L122.4 148.8Z"/><path d="M122.4 148.8L131.1 142.8L146.4 144.2L137.7 150.2Z"/><path d="M137.7 150.2L146.4 144.2L161.7 145.3L152.9 151.3Z"/><path d="M152.9 151.3L161.7 145.3L177.0 146.2L168.2 152.2Z"/><path d="M168.2 152.2L177.0 146.2L192.3 147.5L183.5 153.5Z"/><path d="M183.5 153.5L192.3 147.5L207.5 148.5L198.8 154.5Z"/><path d="M198.8 154.5L207.5 148.5L222.8 149.7L214.1 155.7Z"/><path d="M214.1 155.7L222.8 149.7L238.1 149.6L229.4 155.6Z"/><path d="M229.4 155.6L238.1 149.6L253.4 142.8L244.6 148.8Z"/></g>
<g fill="#800000" class="rb"><path d="M49.6 149.7L58.3 143.7L73.6 146.2L64.8 152.2Z"/><path d="M64.8 152.2L73.6 146.2L88.9 147.9L80.1 153.9Z"/><path d="M80.1 153.9L88.9 147.9L104.2 148.7L95.4 154.7Z"/><path d="M95.4 154.7L104.2 148.7L119.5 149.2L110.7 155.2Z"/><path d="M110.7 155.2L119.5 149.2L134.7 148.2L126.0 154.2Z"/><path d="M126.0 154.2L134.7 148.2L150.0 152.1L141.3 158.1Z"/><path d="M141.3 158.1L150.0 152.1L165.3 153.8L156.6 159.8Z"/><path d="M156.6 159.8L165.3 153.8L180.6 154.6L171.8 160.6Z"/><path d="M171.8 160.6L180.6 154.6L195.9 156.0L187.1 162.0Z"/><path d="M187.1 162.0L195.9 156.0L211.2 157.6L202.4 163.6Z"/><path d="M202.4 163.6L211.2 157.6L226.4 152.1L217.7 158.1Z"/><path d="M217.7 158.1L226.4 152.1L241.7 154.9L233.0 160.9Z"/></g>
<text x="200.6" y="15.0" class="ti" text-anchor="middle">Excerpt 1: TV sport</text>
<text x="121.4" y="190.7" class="xl" text-anchor="middle">Time (s)</text>
<line x1="401.0" y1="152.0" x2="614.8" y2="171.8" class="ax"/>
<line x1="614.8" y1="171.8" x2="684.2" y2="114.5" class="ax"/>
<line x1="401.0" y1="152.0" x2="401.0" y2="77.0" class="ax"/>
<line x1="401.0" y1="152.0" x2="400.8" y2="157.0" class="ax"/>
<text x="399.3" y="164.3" class="tk" text-anchor="middle">0</text>
<line x1="424.8" y1="154.2" x2="424.6" y2="159.2" class="ax"/>
<text x="423.0" y="166.5" class="tk" text-anchor="middle">2</text>
<line x1="448.5" y1="156.4" x2="448.3" y2="161.4" class="ax"/>
<text x="446.8" y="168.7" class="tk" text-anchor="middle">4</text>
<line x1="472.3" y1="158.6" x2="472.1" y2="163.6" class="ax"/>
<text x="470.5" y="170.9" class="tk" text-anchor="middle">6</text>
<line x1="496.0" y1="160.8" x2="495.8" y2="165.8" class="ax"/>
<text x="494.3" y="173.1" class="tk" text-anchor="middle">8</text>
<line x1="519.8" y1="163.0" x2="519.6" y2="168.0" class="ax"/>
<text x="518.0" y="175.3" class="tk" text-anchor="middle">10</text>
<line x1="543.5" y1="165.2" x2="543.3" y2="170.2" class="ax"/>
<text x="541.8" y="177.5" class="tk" text-anchor="middle">12</text>
<line x1="567.3" y1="167.4" x2="567.1" y2="172.4" class="ax"/>
<text x="565.5" y="179.7" class="tk" text-anchor="middle">14</text>
<line x1="591.0" y1="169.6" x2="590.8" y2="174.6" class="ax"/>
<text x="589.3" y="181.9" class="tk" text-anchor="middle">16</text>
<line x1="614.8" y1="171.8" x2="614.6" y2="176.8" class="ax"/>
<text x="613.0" y="184.1" class="tk" text-anchor="middle">18</text>
<line x1="684.2" y1="114.5" x2="684.2" y2="119.5" class="ax"/>
<text x="682.2" y="125.5" class="tk" text-anchor="middle">0</text>
<line x1="672.7" y1="124.1" x2="672.7" y2="129.1" class="ax"/>
<text x="670.7" y="135.1" class="tk" text-anchor="middle">1</text>
<line x1="661.1" y1="133.6" x2="661.1" y2="138.6" class="ax"/>
<text x="659.1" y="144.6" class="tk" text-anchor="middle">2</text>
<line x1="649.5" y1="143.2" x2="649.5" y2="148.2" class="ax"/>
<text x="647.5" y="154.2" class="tk" text-anchor="middle">3</text>
<line x1="637.9" y1="152.7" x2="637.9" y2="157.7" class="ax"/>
<text x="635.9" y="163.7" class="tk" text-anchor="middle">4</text>
<line x1="626.4" y1="162.2" x2="626.4" y2="167.2" class="ax"/>
<text x="624.4" y="173.2" class="tk" text-anchor="middle">5</text>
<line x1="614.8" y1="171.8" x2="614.8" y2="176.8" class="ax"/>
<text x="612.2" y="183.8" class="tk" text-anchor="middle">6</text>
<line x1="395.4" y1="152.0" x2="401.0" y2="152.0" class="ax"/>
<text x="394.2" y="153.8" class="tk" text-anchor="end">0</text>
<line x1="395.4" y1="137.0" x2="401.0" y2="137.0" class="ax"/>
<text x="394.2" y="138.8" class="tk" text-anchor="end">0.2</text>
<line x1="395.4" y1="122.0" x2="401.0" y2="122.0" class="ax"/>
<text x="394.2" y="123.8" class="tk" text-anchor="end">0.4</text>
<line x1="395.4" y1="107.0" x2="401.0" y2="107.0" class="ax"/>
<text x="394.2" y="108.8" class="tk" text-anchor="end">0.6</text>
<line x1="395.4" y1="92.0" x2="401.0" y2="92.0" class="ax"/>
<text x="394.2" y="93.8" class="tk" text-anchor="end">0.8</text>
<line x1="395.4" y1="77.0" x2="401.0" y2="77.0" class="ax"/>
<text x="394.2" y="78.8" class="tk" text-anchor="end">1</text>
<path class="g" d="M470 19.5h1m-1 2h1m-1 2h1m-1 2h1m-1 2h1m-1 2h1m-1 2h1m-1 2h1m-1 2h1m-1 2h1m-1 2h1m-1 2h1m-1 2h1m-1 2h1m-1 2h1m-1 2h1m-1 2h1m-1 2h1m-1 2h1m-1 2h1m-1 2h1m-1 2h1m-1 2h1m-1 2h1m-1 2h1m-1 2h1m-1 2h1m-1 2h1m-1 2h1m-1 2h1m-1 2h1m-1 2h1m-1 2h1m-1 2h1m-1 2h1m-1 2h1m-1 2h1m-1 2h1m23 -72h1m-1 2h1m-1 2h1m-1 2h1m-1 2h1m-1 2h1m-1 2h1m-1 2h1m-1 2h1m-1 2h1m-1 2h1m-1 2h1m-1 2h1m-1 2h1m-1 2h1m-1 2h1m-1 2h1m-1 2h1m-1 2h1m-1 2h1m-1 2h1m-1 2h1m-1 2h1m-1 2h1m-1 2h1m-1 2h1m-1 2h1m-1 2h1m-1 2h1m-1 2h1m-1 2h1m-1 2h1m-1 2h1m-1 2h1m-1 2h1m-1 2h1m-1 2h1m-1 2h1m-71 59h1m1 -2h1m1 -1h1m1 -2h1m1 -2h1m1 -1h1m1 -2h1m1 -2h1m1 -1h1m1 -2h1m1 -2h1m1 -1h1m1 -2h1m1 -2h1m1 -1h1m1 -2h1m1 -1h1m1 -2h1m1 -2h1m1 -1h1m1 -2h1m1 -2h1m1 -1h1m1 -2h1m1 -2h1m1 -1h1m1 -2h1m1 -2h1m1 -1h1m1 -2h1m1 -2h1m1 -1h1m1 -2h1m1 -1h1m1 -2h1m25 -74h1m-1 2h1m-1 2h1m-1 2h1m-1 2h1m-1 2h1m-1 2h1m-1 2h1m-1 2h1m-1 2h1m-1 2h1m-1 2h1m-1 2h1m-1 2h1m-1 2h1m-1 2h1m-1 2h1m-1 2h1m-1 2h1m-1 2h1m-1 2h1m-1 2h1m-1 2h1m-1 2h1m-1 2h1m-1 2h1m-1 2h1m-1 2h1m-1 2h1m-1 2h1m-1 2h1m-1 2h1m-1 2h1m-1 2h1m-1 2h1m-1 2h1m-1 2h1m-1 2h1m-71 58h1m1 -2h1m1 -1h1m1 -2h1m1 -2h1m1 -1h1m1 -2h1m1 -2h1m1 -1h1m1 -2h1m1 -2h1m1 -1h1m1 -2h1m1 -2h1m1 -1h1m1 -2h1m1 -1h1m1 -2h1m1 -2h1m1 -1h1m1 -2h1m1 -2h1m1 -1h1m1 -2h1m1 -2h1m1 -1h1m1 -2h1m1 -2h1m1 -1h1m1 -2h1m1 -2h1m1 -1h1m1 -2h1m1 -1h1m1 -2h1m24 -74h1m-1 2h1m-1 2h1m-1 2h1m-1 2h1m-1 2h1m-1 2h1m-1 2h1m-1 2h1m-1 2h1m-1 2h1m-1 2h1m-1 2h1m-1 2h1m-1 2h1m-1 2h1m-1 2h1m-1 2h1m-1 2h1m-1 2h1m-1 2h1m-1 2h1m-1 2h1m-1 2h1m-1 2h1m-1 2h1m-1 2h1m-1 2h1m-1 2h1m-1 2h1m-1 2h1m-1 2h1m-1 2h1m-1 2h1m-1 2h1m-1 2h1m-1 2h1m-1 2h1m-70 58h1m1 -2h1m1 -1h1m1 -2h1m1 -2h1m1 -1h1m1 -2h1m1 -2h1m1 -1h1m1 -2h1m1 -2h1m1 -1h1m1 -2h1m1 -2h1m1 -1h1m1 -2h1m1 -1h1m1 -2h1m1 -2h1m1 -1h1m1 -2h1m1 -2h1m1 -1h1m1 -2h1m1 -2h1m1 -1h1m1 -2h1m1 -2h1m1 -1h1m1 -2h1m1 -2h1m1 -1h1m1 -2h1m1 -1h1m1 -2h1m24 -74h1m-1 2h1m-1 2h1m-1 2h1m-1 2h1m-1 2h1m-1 2h1m-1 2h1m-1 2h1m-1 2h1m-1 2h1m-1 2h1m-1 2h1m-1 2h1m-1 2h1m-1 2h1m-1 2h1m-1 2h1m-1 2h1m-1 2h1m-1 2h1m-1 2h1m-1 2h1m-1 2h1m-1 2h1m-1 2h1m-1 2h1m-1 2h1m-1 2h1m-1 2h1m-1 2h1m-1 2h1m-1 2h1m-1 2h1m-1 2h1m-1 2h1m-1 2h1m-1 2h1m-70 58h1m1 -2h1m1 -1h1m1 -2h1m1 -2h1m1 -1h1m1 -2h1m1 -2h1m1 -1h1m1 -2h1m1 -2h1m1 -1h1m1 -2h1m1 -2h1m1 -1h1m1 -2h1m1 -1h1m1 -2h1m1 -2h1m1 -1h1m1 -2h1m1 -2h1m1 -1h1m1 -2h1m1 -2h1m1 -1h1m1 -2h1m1 -2h1m1 -1h1m1 -2h1m1 -2h1m1 -1h1m1 -2h1m1 -1h1m1 -2h1m24 -74h1m-1 2h1m-1 2h1m-1 2h1m-1 2h1m-1 2h1m-1 2h1m-1 2h1m-1 2h1m-1 2h1m-1 2h1m-1 2h1m-1 2h1m-1 2h1m-1 2h1m-1 2h1m-1 2h1m-1 2h1m-1 2h1m-1 2h1m-1 2h1m-1 2h1m-1 2h1m-1 2h1m-1 2h1m-1 2h1m-1 2h1m-1 2h1m-1 2h1m-1 2h1m-1 2h1m-1 2h1m-1 2h1m-1 2h1m-1 2h1m-1 2h1m-1 2h1m-1 2h1m-71 59h1m1 -2h1m1 -2h1m1 -1h1m1 -2h1m1 -2h1m1 -1h1m1 -2h1m1 -1h1m1 -2h1m1 -2h1m1 -1h1m1 -2h1m1 -2h1m1 -1h1m1 -2h1m1 -2h1m1 -1h1m1 -2h1m1 -2h1m1 -1h1m1 -2h1m1 -2h1m1 -1h1m1 -2h1m1 -1h1m1 -2h1m1 -2h1m1 -1h1m1 -2h1m1 -2h1m1 -1h1m1 -2h1m1 -2h1m1 -1h1m25 -75h1m-1 2h1m-1 2h1m-1 2h1m-1 2h1m-1 2h1m-1 2h1m-1 2h1m-1 2h1m-1 2h1m-1 2h1m-1 2h1m-1 2h1m-1 2h1m-1 2h1m-1 2h1m-1 2h1m-1 2h1m-1 2h1m-1 2h1m-1 2h1m-1 2h1m-1 2h1m-1 2h1m-1 2h1m-1 2h1m-1 2h1m-1 2h1m-1 2h1m-1 2h1m-1 2h1m-1 2h1m-1 2h1m-1 2h1m-1 2h1m-1 2h1m-1 2h1m-1 2h1m-71 59h1m1 -2h1m1 -2h1m1 -1h1m1 -2h1m1 -2h1m1 -1h1m1 -2h1m1 -1h1m1 -2h1m1 -2h1m1 -1h1m1 -2h1m1 -2h1m1 -1h1m1 -2h1m1 -2h1m1 -1h1m1 -2h1m1 -2h1m1 -1h1m1 -2h1m1 -2h1m1 -1h1m1 -2h1m1 -1h1m1 -2h1m1 -2h1m1 -1h1m1 -2h1m1 -2h1m1 -1h1m1 -2h1m1 -2h1m1 -1h1m24 -74h1m-1 2h1m-1 2h1m-1 2h1m-1 2h1m-1 2h1m-1 2h1m-1 2h1m-1 2h1m-1 2h1m-1 2h1m-1 2h1m-1 2h1m-1 2h1m-1 2h1m-1 2h1m-1 2h1m-1 2h1m-1 2h1m-1 2h1m-1 2h1m-1 2h1m-1 2h1m-1 2h1m-1 2h1m-1 2h1m-1 2h1m-1 2h1m-1 2h1m-1 2h1m-1 2h1m-1 2h1m-1 2h1m-1 2h1m-1 2h1m-1 2h1m-1 2h1m-1 2h1m-70 58h1m1 -2h1m1 -2h1m1 -1h1m1 -2h1m1 -2h1m1 -1h1m1 -2h1m1 -1h1m1 -2h1m1 -2h1m1 -1h1m1 -2h1m1 -2h1m1 -1h1m1 -2h1m1 -2h1m1 -1h1m1 -2h1m1 -2h1m1 -1h1m1 -2h1m1 -2h1m1 -1h1m1 -2h1m1 -1h1m1 -2h1m1 -2h1m1 -1h1m1 -2h1m1 -2h1m1 -1h1m1 -2h1m1 -2h1m1 -1h1m24 -74h1m-1 2h1m-1 2h1m-1 2h1m-1 2h1m-1 2h1m-1 2h1m-1 2h1m-1 2h1m-1 2h1m-1 2h1m-1 2h1m-1 2h1m-1 2h1m-1 2h1m-1 2h1m-1 2h1m-1 2h1m-1 2h1m-1 2h1m-1 2h1m-1 2h1m-1 2h1m-1 2h1m-1 2h1m-1 2h1m-1 2h1m-1 2h1m-1 2h1m-1 2h1m-1 2h1m-1 2h1m-1 2h1m-1 2h1m-1 2h1m-1 2h1m-1 2h1m-1 2h1m-70 58h1m1 -2h1m1 -2h1m1 -1h1m1 -2h1m1 -2h1m1 -1h1m1 -2h1m1 -1h1m1 -2h1m1 -2h1m1 -1h1m1 -2h1m1 -2h1m1 -1h1m1 -2h1m1 -2h1m1 -1h1m1 -2h1m1 -2h1m1 -1h1m1 -2h1m1 -2h1m1 -1h1m1 -2h1m1 -1h1m1 -2h1m1 -2h1m1 -1h1m1 -2h1m1 -2h1m1 -1h1m1 -2h1m1 -2h1m1 -1h1m24 -74h1m-1 2h1m-1 2h1m-1 2h1m-1 2h1m-1 2h1m-1 2h1m-1 2h1m-1 2h1m-1 2h1m-1 2h1m-1 2h1m-1 2h1m-1 2h1m-1 2h1m-1 2h1m-1 2h1m-1 2h1m-1 2h1m-1 2h1m-1 2h1m-1 2h1m-1 2h1m-1 2h1m-1 2h1m-1 2h1m-1 2h1m-1 2h1m-1 2h1m-1 2h1m-1 2h1m-1 2h1m-1 2h1m-1 2h1m-1 2h1m-1 2h1m-1 2h1m-1 2h1m-215 -19h1m1 0h1m1 1h1m1 0h1m1 0h1m1 0h1m1 0h1m1 1h1m1 0h1m1 0h1m1 0h1m1 0h1m1 0h1m1 1h1m1 0h1m1 0h1m1 0h1m1 0h1m1 1h1m1 0h1m1 0h1m1 0h1m1 0h1m1 1h1m1 0h1m1 0h1m1 0h1m1 0h1m1 0h1m1 1h1m1 0h1m1 0h1m1 0h1m1 0h1m1 1h1m1 0h1m1 0h1m1 0h1m1 0h1m1 0h1m1 1h1m1 0h1m1 0h1m1 0h1m1 0h1m1 1h1m1 0h1m1 0h1m1 0h1m1 0h1m1 1h1m1 0h1m1 0h1m1 0h1m1 0h1m1 0h1m1 1h1m1 0h1m1 0h1m1 0h1m1 0h1m1 1h1m1 0h1m1 0h1m1 0h1m1 0h1m1 0h1m1 1h1m1 0h1m1 0h1m1 0h1m1 0h1m1 1h1m1 0h1m1 0h1m1 0h1m1 0h1m1 1h1m1 0h1m1 0h1m1 0h1m1 0h1m1 0h1m1 1h1m1 0h1m1 0h1m1 0h1m1 0h1m1 1h1m1 0h1m1 0h1m1 0h1m1 0h1m1 0h1m1 1h1m1 0h1m1 0h1m1 0h1m1 0h1m1 1h1m1 0h1m1 0h1m1 0h1m1 0h1m1 1h1m1 0h1m1 0h1m-282 37h1m1 -2h1m1 -1h1m1 -2h1m1 -1h1m1 -2h1m1 -2h1m1 -1h1m1 -2h1m1 -2h1m1 -1h1m1 -2h1m1 -2h1m1 -1h1m1 -2h1m1 -2h1m1 -1h1m1 -2h1m1 -2h1m1 -1h1m1 -2h1m1 -2h1m1 -1h1m1 -2h1m1 -1h1m1 -2h1m1 -2h1m1 -1h1m1 -2h1m1 -2h1m1 -1h1m1 -2h1m1 -2h1m1 -1h1m1 -2h1m0 -16h1m1 0h1m1 1h1m1 0h1m1 0h1m1 0h1m1 0h1m1 1h1m1 0h1m1 0h1m1 0h1m1 0h1m1 0h1m1 1h1m1 0h1m1 0h1m1 0h1m1 0h1m1 1h1m1 0h1m1 0h1m1 0h1m1 0h1m1 1h1m1 0h1m1 0h1m1 0h1m1 0h1m1 0h1m1 1h1m1 0h1m1 0h1m1 0h1m1 0h1m1 1h1m1 0h1m1 0h1m1 0h1m1 0h1m1 0h1m1 1h1m1 0h1m1 0h1m1 0h1m1 0h1m1 1h1m1 0h1m1 0h1m1 0h1m1 0h1m1 1h1m1 0h1m1 0h1m1 0h1m1 0h1m1 0h1m1 1h1m1 0h1m1 0h1m1 0h1m1 0h1m1 1h1m1 0h1m1 0h1m1 0h1m1 0h1m1 0h1m1 1h1m1 0h1m1 0h1m1 0h1m1 0h1m1 1h1m1 0h1m1 0h1m1 0h1m1 0h1m1 1h1m1 0h1m1 0h1m1 0h1m1 0h1m1 0h1m1 1h1m1 0h1m1 0h1m1 0h1m1 0h1m1 1h1m1 0h1m1 0h1m1 0h1m1 0h1m1 0h1m1 1h1m1 0h1m1 0h1m1 0h1m1 0h1m1 1h1m1 0h1m1 0h1m1 0h1m1 0h1m1 1h1m1 0h1m1 0h1m-282 37h1m1 -2h1m1 -1h1m1 -2h1m1 -1h1m1 -2h1m1 -2h1m1 -1h1m1 -2h1m1 -2h1m1 -1h1m1 -2h1m1 -2h1m1 -1h1m1 -2h1m1 -2h1m1 -1h1m1 -2h1m1 -2h1m1 -1h1m1 -2h1m1 -2h1m1 -1h1m1 -2h1m1 -1h1m1 -2h1m1 -2h1m1 -1h1m1 -2h1m1 -2h1m1 -1h1m1 -2h1m1 -2h1m1 -1h1m1 -2h1m0 -16h1m1 0h1m1 1h1m1 0h1m1 0h1m1 0h1m1 0h1m1 1h1m1 0h1m1 0h1m1 0h1m1 0h1m1 0h1m1 1h1m1 0h1m1 0h1m1 0h1m1 0h1m1 1h1m1 0h1m1 0h1m1 0h1m1 0h1m1 1h1m1 0h1m1 0h1m1 0h1m1 0h1m1 0h1m1 1h1m1 0h1m1 0h1m1 0h1m1 0h1m1 1h1m1 0h1m1 0h1m1 0h1m1 0h1m1 0h1m1 1h1m1 0h1m1 0h1m1 0h1m1 0h1m1 1h1m1 0h1m1 0h1m1 0h1m1 0h1m1 1h1m1 0h1m1 0h1m1 0h1m1 0h1m1 0h1m1 1h1m1 0h1m1 0h1m1 0h1m1 0h1m1 1h1m1 0h1m1 0h1m1 0h1m1 0h1m1 0h1m1 1h1m1 0h1m1 0h1m1 0h1m1 0h1m1 1h1m1 0h1m1 0h1m1 0h1m1 0h1m1 1h1m1 0h1m1 0h1m1 0h1m1 0h1m1 0h1m1 1h1m1 0h1m1 0h1m1 0h1m1 0h1m1 1h1m1 0h1m1 0h1m1 0h1m1 0h1m1 0h1m1 1h1m1 0h1m1 0h1m1 0h1m1 0h1m1 1h1m1 0h1m1 0h1m1 0h1m1 0h1m1 1h1m1 0h1m1 0h1m-282 37h1m1 -2h1m1 -1h1m1 -2h1m1 -1h1m1 -2h1m1 -2h1m1 -1h1m1 -2h1m1 -2h1m1 -1h1m1 -2h1m1 -2h1m1 -1h1m1 -2h1m1 -2h1m1 -1h1m1 -2h1m1 -2h1m1 -1h1m1 -2h1m1 -2h1m1 -1h1m1 -2h1m1 -1h1m1 -2h1m1 -2h1m1 -1h1m1 -2h1m1 -2h1m1 -1h1m1 -2h1m1 -2h1m1 -1h1m1 -2h1m0 -16h1m1 0h1m1 1h1m1 0h1m1 0h1m1 0h1m1 0h1m1 1h1m1 0h1m1 0h1m1 0h1m1 0h1m1 0h1m1 1h1m1 0h1m1 0h1m1 0h1m1 0h1m1 1h1m1 0h1m1 0h1m1 0h1m1 0h1m1 1h1m1 0h1m1 0h1m1 0h1m1 0h1m1 0h1m1 1h1m1 0h1m1 0h1m1 0h1m1 0h1m1 1h1m1 0h1m1 0h1m1 0h1m1 0h1m1 0h1m1 1h1m1 0h1m1 0h1m1 0h1m1 0h1m1 1h1m1 0h1m1 0h1m1 0h1m1 0h1m1 1h1m1 0h1m1 0h1m1 0h1m1 0h1m1 0h1m1 1h1m1 0h1m1 0h1m1 0h1m1 0h1m1 1h1m1 0h1m1 0h1m1 0h1m1 0h1m1 0h1m1 1h1m1 0h1m1 0h1m1 0h1m1 0h1m1 1h1m1 0h1m1 0h1m1 0h1m1 0h1m1 1h1m1 0h1m1 0h1m1 0h1m1 0h1m1 0h1m1 1h1m1 0h1m1 0h1m1 0h1m1 0h1m1 1h1m1 0h1m1 0h1m1 0h1m1 0h1m1 0h1m1 1h1m1 0h1m1 0h1m1 0h1m1 0h1m1 1h1m1 0h1m1 0h1m1 0h1m1 0h1m1 1h1m1 0h1m1 0h1m-282 37h1m1 -2h1m1 -1h1m1 -2h1m1 -1h1m1 -2h1m1 -2h1m1 -1h1m1 -2h1m1 -2h1m1 -1h1m1 -2h1m1 -2h1m1 -1h1m1 -2h1m1 -2h1m1 -1h1m1 -2h1m1 -2h1m1 -1h1m1 -2h1m1 -2h1m1 -1h1m1 -2h1m1 -1h1m1 -2h1m1 -2h1m1 -1h1m1 -2h1m1 -2h1m1 -1h1m1 -2h1m1 -2h1m1 -1h1m1 -2h1m0 -16h1m1 0h1m1 1h1m1 0h1m1 0h1m1 0h1m1 0h1m1 1h1m1 0h1m1 0h1m1 0h1m1 0h1m1 0h1m1 1h1m1 0h1m1 0h1m1 0h1m1 0h1m1 1h1m1 0h1m1 0h1m1 0h1m1 0h1m1 1h1m1 0h1m1 0h1m1 0h1m1 0h1m1 0h1m1 1h1m1 0h1m1 0h1m1 0h1m1 0h1m1 1h1m1 0h1m1 0h1m1 0h1m1 0h1m1 0h1m1 1h1m1 0h1m1 0h1m1 0h1m1 0h1m1 1h1m1 0h1m1 0h1m1 0h1m1 0h1m1 1h1m1 0h1m1 0h1m1 0h1m1 0h1m1 0h1m1 1h1m1 0h1m1 0h1m1 0h1m1 0h1m1 1h1m1 0h1m1 0h1m1 0h1m1 0h1m1 0h1m1 1h1m1 0h1m1 0h1m1 0h1m1 0h1m1 1h1m1 0h1m1 0h1m1 0h1m1 0h1m1 1h1m1 0h1m1 0h1m1 0h1m1 0h1m1 0h1m1 1h1m1 0h1m1 0h1m1 0h1m1 0h1m1 1h1m1 0h1m1 0h1m1 0h1m1 0h1m1 0h1m1 1h1m1 0h1m1 0h1m1 0h1m1 0h1m1 1h1m1 0h1m1 0h1m1 0h1m1 0h1m1 1h1m1 0h1m1 0h1m-282 37h1m1 -2h1m1 -1h1m1 -2h1m1 -1h1m1 -2h1m1 -2h1m1 -1h1m1 -2h1m1 -2h1m1 -1h1m1 -2h1m1 -2h1m1 -1h1m1 -2h1m1 -2h1m1 -1h1m1 -2h1m1 -2h1m1 -1h1m1 -2h1m1 -2h1m1 -1h1m1 -2h1m1 -1h1m1 -2h1m1 -2h1m1 -1h1m1 -2h1m1 -2h1m1 -1h1m1 -2h1m1 -2h1m1 -1h1m1 -2h1m0 -16h1m1 0h1m1 1h1m1 0h1m1 0h1m1 0h1m1 0h1m1 1h1m1 0h1m1 0h1m1 0h1m1 0h1m1 0h1m1 1h1m1 0h1m1 0h1m1 0h1m1 0h1m1 1h1m1 0h1m1 0h1m1 0h1m1 0h1m1 1h1m1 0h1m1 0h1m1 0h1m1 0h1m1 0h1m1 1h1m1 0h1m1 0h1m1 0h1m1 0h1m1 1h1m1 0h1m1 0h1m1 0h1m1 0h1m1 0h1m1 1h1m1 0h1m1 0h1m1 0h1m1 0h1m1 1h1m1 0h1m1 0h1m1 0h1m1 0h1m1 1h1m1 0h1m1 0h1m1 0h1m1 0h1m1 0h1m1 1h1m1 0h1m1 0h1m1 0h1m1 0h1m1 1h1m1 0h1m1 0h1m1 0h1m1 0h1m1 0h1m1 1h1m1 0h1m1 0h1m1 0h1m1 0h1m1 1h1m1 0h1m1 0h1m1 0h1m1 0h1m1 1h1m1 0h1m1 0h1m1 0h1m1 0h1m1 0h1m1 1h1m1 0h1m1 0h1m1 0h1m1 0h1m1 1h1m1 0h1m1 0h1m1 0h1m1 0h1m1 0h1m1 1h1m1 0h1m1 0h1m1 0h1m1 0h1m1 1h1m1 0h1m1 0h1m1 0h1m1 0h1m1 1h1m1 0h1m1 0h1m-282 37h1m1 -2h1m1 -1h1m1 -2h1m1 -1h1m1 -2h1m1 -2h1m1 -1h1m1 -2h1m1 -2h1m1 -1h1m1 -2h1m1 -2h1m1 -1h1m1 -2h1m1 -2h1m1 -1h1m1 -2h1m1 -2h1m1 -1h1m1 -2h1m1 -2h1m1 -1h1m1 -2h1m1 -1h1m1 -2h1m1 -2h1m1 -1h1m1 -2h1m1 -2h1m1 -1h1m1 -2h1m1 -2h1m1 -1h1m1 -2h1m-12 9h1m-1 2h1m-1 2h1m-1 2h1m-1 2h1m-1 2h1m-1 2h1m-1 2h1m-1 2h1m-1 2h1m-1 2h1m-1 2h1m-1 2h1m-1 2h1m-1 2h1m-1 2h1m-1 2h1m-1 2h1m-1 2h1m-1 2h1m-1 2h1m-1 2h1m-1 2h1m-1 2h1m-1 2h1m-1 2h1m-1 2h1m-1 2h1m-1 2h1m-1 2h1m-1 2h1m-1 2h1m-1 2h1m-1 2h1m-1 2h1m-1 2h1m-1 2h1m-1 2h1m-1 1h1m1 0h1m1 0h1m1 0h1m1 0h1m1 1h1m1 0h1m1 0h1m1 0h1m1 0h1m1 1h1m1 0h1m1 0h1m1 0h1m1 0h1m1 1h1m1 0h1m1 0h1m1 0h1m1 0h1m1 0h1m1 1h1m1 0h1m1 0h1m1 0h1m1 0h1m1 1h1m1 0h1m1 0h1m1 0h1m1 0h1m1 0h1m1 1h1m1 0h1m1 0h1m1 0h1m1 0h1m1 1h1m1 0h1m1 0h1m1 0h1m1 0h1m1 1h1m1 0h1m1 0h1m1 0h1m1 0h1m1 0h1m1 1h1m1 0h1m1 0h1m1 0h1m1 0h1m1 1h1m1 0h1m1 0h1m1 0h1m1 0h1m1 0h1m1 1h1m1 0h1m1 0h1m1 0h1m1 0h1m1 1h1m1 0h1m1 0h1m1 0h1m1 0h1m1 1h1m1 0h1m1 0h1m1 0h1m1 0h1m1 0h1m1 1h1m1 0h1m1 0h1m1 0h1m1 0h1m1 1h1m1 0h1m1 0h1m1 0h1m1 0h1m1 0h1m1 1h1m1 0h1m1 0h1m1 0h1m1 0h1m1 1h1m1 0h1m1 0h1m1 0h1m1 0h1m1 1h1m1 0h1m1 0h1m1 0h1m1 0h1m1 0h1m1 1h1m1 0h1m1 0h1m1 0h1m1 0h1m1 1h1m-226 -86h1m-1 2h1m-1 2h1m-1 2h1m-1 2h1m-1 2h1m-1 2h1m-1 2h1m-1 2h1m-1 2h1m-1 2h1m-1 2h1m-1 2h1m-1 2h1m-1 2h1m-1 2h1m-1 2h1m-1 2h1m-1 2h1m-1 2h1m-1 2h1m-1 2h1m-1 2h1m-1 2h1m-1 2h1m-1 2h1m-1 2h1m-1 2h1m-1 2h1m-1 2h1m-1 2h1m-1 2h1m-1 2h1m-1 2h1m-1 2h1m-1 2h1m-1 2h1m-1 2h1m-1 1h1m1 1h1m1 0h1m1 0h1m1 0h1m1 0h1m1 0h1m1 1h1m1 0h1m1 0h1m1 0h1m1 0h1m1 1h1m1 0h1m1 0h1m1 0h1m1 0h1m1 0h1m1 1h1m1 0h1m1 0h1m1 0h1m1 0h1m1 1h1m1 0h1m1 0h1m1 0h1m1 0h1m1 1h1m1 0h1m1 0h1m1 0h1m1 0h1m1 0h1m1 1h1m1 0h1m1 0h1m1 0h1m1 0h1m1 1h1m1 0h1m1 0h1m1 0h1m1 0h1m1 0h1m1 1h1m1 0h1m1 0h1m1 0h1m1 0h1m1 1h1m1 0h1m1 0h1m1 0h1m1 0h1m1 1h1m1 0h1m1 0h1m1 0h1m1 0h1m1 0h1m1 1h1m1 0h1m1 0h1m1 0h1m1 0h1m1 1h1m1 0h1m1 0h1m1 0h1m1 0h1m1 0h1m1 1h1m1 0h1m1 0h1m1 0h1m1 0h1m1 1h1m1 0h1m1 0h1m1 0h1m1 0h1m1 1h1m1 0h1m1 0h1m1 0h1m1 0h1m1 0h1m1 1h1m1 0h1m1 0h1m1 0h1m1 0h1m1 1h1m1 0h1m1 0h1m1 0h1m1 0h1m1 1h1m1 0h1m1 0h1m1 0h1m1 0h1m1 0h1m1 1h1m1 0h1m1 0h1m-225 -85h1m-1 2h1m-1 2h1m-1 2h1m-1 2h1m-1 2h1m-1 2h1m-1 2h1m-1 2h1m-1 2h1m-1 2h1m-1 2h1m-1 2h1m-1 2h1m-1 2h1m-1 2h1m-1 2h1m-1 2h1m-1 2h1m-1 2h1m-1 2h1m-1 2h1m-1 2h1m-1 2h1m-1 2h1m-1 2h1m-1 2h1m-1 2h1m-1 2h1m-1 2h1m-1 2h1m-1 2h1m-1 2h1m-1 2h1m-1 2h1m-1 2h1m-1 2h1m-1 2h1m-1 1h1m1 0h1m1 0h1m1 0h1m1 1h1m1 0h1m1 0h1m1 0h1m1 0h1m1 1h1m1 0h1m1 0h1m1 0h1m1 0h1m1 0h1m1 1h1m1 0h1m1 0h1m1 0h1m1 0h1m1 1h1m1 0h1m1 0h1m1 0h1m1 0h1m1 0h1m1 1h1m1 0h1m1 0h1m1 0h1m1 0h1m1 1h1m1 0h1m1 0h1m1 0h1m1 0h1m1 1h1m1 0h1m1 0h1m1 0h1m1 0h1m1 0h1m1 1h1m1 0h1m1 0h1m1 0h1m1 0h1m1 1h1m1 0h1m1 0h1m1 0h1m1 0h1m1 0h1m1 1h1m1 0h1m1 0h1m1 0h1m1 0h1m1 1h1m1 0h1m1 0h1m1 0h1m1 0h1m1 1h1m1 0h1m1 0h1m1 0h1m1 0h1m1 0h1m1 1h1m1 0h1m1 0h1m1 0h1m1 0h1m1 1h1m1 0h1m1 0h1m1 0h1m1 0h1m1 0h1m1 1h1m1 0h1m1 0h1m1 0h1m1 0h1m1 1h1m1 0h1m1 0h1m1 0h1m1 0h1m1 1h1m1 0h1m1 0h1m1 0h1m1 0h1m1 0h1m1 1h1m1 0h1m1 0h1m1 0h1m1 0h1m1 1h1m1 0h1m1 0h1m1 0h1m1 0h1m1 0h1m1 1h1m-226 -86h1m-1 2h1m-1 2h1m-1 2h1m-1 2h1m-1 2h1m-1 2h1m-1 2h1m-1 2h1m-1 2h1m-1 2h1m-1 2h1m-1 2h1m-1 2h1m-1 2h1m-1 2h1m-1 2h1m-1 2h1m-1 2h1m-1 2h1m-1 2h1m-1 2h1m-1 2h1m-1 2h1m-1 2h1m-1 2h1m-1 2h1m-1 2h1m-1 2h1m-1 2h1m-1 2h1m-1 2h1m-1 2h1m-1 2h1m-1 2h1m-1 2h1m-1 2h1m-1 2h1m-1 1h1m1 1h1m1 0h1m1 0h1m1 0h1m1 0h1m1 1h1m1 0h1m1 0h1m1 0h1m1 0h1m1 0h1m1 1h1m1 0h1m1 0h1m1 0h1m1 0h1m1 1h1m1 0h1m1 0h1m1 0h1m1 0h1m1 1h1m1 0h1m1 0h1m1 0h1m1 0h1m1 0h1m1 1h1m1 0h1m1 0h1m1 0h1m1 0h1m1 1h1m1 0h1m1 0h1m1 0h1m1 0h1m1 0h1m1 1h1m1 0h1m1 0h1m1 0h1m1 0h1m1 1h1m1 0h1m1 0h1m1 0h1m1 0h1m1 1h1m1 0h1m1 0h1m1 0h1m1 0h1m1 0h1m1 1h1m1 0h1m1 0h1m1 0h1m1 0h1m1 1h1m1 0h1m1 0h1m1 0h1m1 0h1m1 0h1m1 1h1m1 0h1m1 0h1m1 0h1m1 0h1m1 1h1m1 0h1m1 0h1m1 0h1m1 0h1m1 1h1m1 0h1m1 0h1m1 0h1m1 0h1m1 0h1m1 1h1m1 0h1m1 0h1m1 0h1m1 0h1m1 1h1m1 0h1m1 0h1m1 0h1m1 0h1m1 0h1m1 1h1m1 0h1m1 0h1m1 0h1m1 0h1m1 1h1m1 0h1m1 0h1m1 0h1m1 0h1m1 1h1m1 0h1m1 0h1m1 0h1m-225 -85h1m-1 2h1m-1 2h1m-1 2h1m-1 2h1m-1 2h1m-1 2h1m-1 2h1m-1 2h1m-1 2h1m-1 2h1m-1 2h1m-1 2h1m-1 2h1m-1 2h1m-1 2h1m-1 2h1m-1 2h1m-1 2h1m-1 2h1m-1 2h1m-1 2h1m-1 2h1m-1 2h1m-1 2h1m-1 2h1m-1 2h1m-1 2h1m-1 2h1m-1 2h1m-1 2h1m-1 2h1m-1 2h1m-1 2h1m-1 2h1m-1 2h1m-1 2h1m-1 2h1m-1 1h1m1 0h1m1 0h1m1 0h1m1 1h1m1 0h1m1 0h1m1 0h1m1 0h1m1 1h1m1 0h1m1 0h1m1 0h1m1 0h1m1 1h1m1 0h1m1 0h1m1 0h1m1 0h1m1 0h1m1 1h1m1 0h1m1 0h1m1 0h1m1 0h1m1 1h1m1 0h1m1 0h1m1 0h1m1 0h1m1 0h1m1 1h1m1 0h1m1 0h1m1 0h1m1 0h1m1 1h1m1 0h1m1 0h1m1 0h1m1 0h1m1 1h1m1 0h1m1 0h1m1 0h1m1 0h1m1 0h1m1 1h1m1 0h1m1 0h1m1 0h1m1 0h1m1 1h1m1 0h1m1 0h1m1 0h1m1 0h1m1 1h1m1 0h1m1 0h1m1 0h1m1 0h1m1 0h1m1 1h1m1 0h1m1 0h1m1 0h1m1 0h1m1 1h1m1 0h1m1 0h1m1 0h1m1 0h1m1 0h1m1 1h1m1 0h1m1 0h1m1 0h1m1 0h1m1 1h1m1 0h1m1 0h1m1 0h1m1 0h1m1 1h1m1 0h1m1 0h1m1 0h1m1 0h1m1 0h1m1 1h1m1 0h1m1 0h1m1 0h1m1 0h1m1 1h1m1 0h1m1 0h1m1 0h1m1 0h1m1 0h1m1 1h1m1 0h1m1 0h1m1 0h1m1 0h1m1 1h1"/>
<g fill="#00008f" class="rb"><path d="M460.5 36.4L469.2 29.3L475.1 64.3L466.5 71.5Z"/><path d="M466.5 71.5L475.1 64.3L481.1 98.6L472.4 105.8Z"/><path d="M472.4 105.8L481.1 98.6L487.0 100.7L478.3 107.8Z"/><path d="M478.3 107.8L487.0 100.7L492.9 99.7L484.3 106.9Z"/><path d="M484.3 106.9L492.9 99.7L498.9 89.0L490.2 96.2Z"/><path d="M490.2 96.2L498.9 89.0L504.8 66.3L496.1 73.5Z"/><path d="M496.1 73.5L504.8 66.3L510.8 97.6L502.1 104.8Z"/><path d="M502.1 104.8L510.8 97.6L516.7 103.4L508.0 110.6Z"/><path d="M508.0 110.6L516.7 103.4L522.6 102.5L514.0 109.6Z"/><path d="M514.0 109.6L522.6 102.5L528.6 84.3L519.9 91.4Z"/><path d="M519.9 91.4L528.6 84.3L534.5 42.8L525.8 50.0Z"/><path d="M525.8 50.0L534.5 42.8L540.5 92.9L531.8 100.0Z"/><path d="M531.8 100.0L540.5 92.9L546.4 55.2L537.7 62.3Z"/><path d="M537.7 62.3L546.4 55.2L552.3 97.7L543.6 104.9Z"/><path d="M543.6 104.9L552.3 97.7L558.3 107.3L549.6 114.4Z"/><path d="M549.6 114.4L558.3 107.3L564.2 106.3L555.5 113.5Z"/><path d="M555.5 113.5L564.2 106.3L570.1 108.4L561.5 115.5Z"/><path d="M561.5 115.5L570.1 108.4L576.1 88.7L567.4 95.8Z"/><path d="M567.4 95.8L576.1 88.7L582.0 45.0L573.3 52.1Z"/><path d="M573.3 52.1L582.0 45.0L588.0 41.8L579.3 48.9Z"/><path d="M579.3 48.9L588.0 41.8L593.9 109.1L585.2 116.2Z"/><path d="M585.2 116.2L593.9 109.1L599.8 111.1L591.1 118.3Z"/><path d="M591.1 118.3L599.8 111.1L605.8 113.9L597.1 121.1Z"/><path d="M597.1 121.1L605.8 113.9L611.7 43.2L603.0 50.4Z"/><path d="M603.0 50.4L611.7 43.2L617.6 115.0L609.0 122.2Z"/><path d="M609.0 122.2L617.6 115.0L623.6 54.8L614.9 62.0Z"/><path d="M614.9 62.0L623.6 54.8L629.5 112.4L620.8 119.5Z"/><path d="M620.8 119.5L629.5 112.4L635.5 47.7L626.8 54.8Z"/><path d="M626.8 54.8L635.5 47.7L641.4 109.7L632.7 116.9Z"/><path d="M632.7 116.9L641.4 109.7L647.3 85.9L638.6 93.0Z"/><path d="M638.6 93.0L647.3 85.9L653.3 114.6L644.6 121.7Z"/><path d="M644.6 121.7L653.3 114.6L659.2 116.6L650.5 123.8Z"/><path d="M650.5 123.8L659.2 116.6L665.1 115.7L656.5 122.8Z"/><path d="M656.5 122.8L665.1 115.7L671.1 105.7L662.4 112.9Z"/><path d="M662.4 112.9L671.1 105.7L677.0 100.3L668.3 107.4Z"/></g>
<g fill="#0090ff" class="rb"><path d="M448.9 112.0L457.6 104.8L463.6 102.4L454.9 109.5Z"/><path d="M454.9 109.5L463.6 102.4L469.5 104.4L460.8 111.6Z"/><path d="M460.8 111.6L469.5 104.4L475.4 102.0L466.7 109.1Z"/><path d="M466.7 109.1L475.4 102.0L481.4 105.5L472.7 112.7Z"/><path d="M472.7 112.7L481.4 105.5L487.3 104.6L478.6 111.7Z"/><path d="M478.6 111.7L487.3 104.6L493.2 102.9L484.6 110.0Z"/><path d="M484.6 110.0L493.2 102.9L499.2 104.7L490.5 111.8Z"/><path d="M490.5 111.8L499.2 104.7L505.1 108.6L496.4 115.8Z"/><path d="M496.4 115.8L505.1 108.6L511.1 111.6L502.4 118.8Z"/><path d="M502.4 118.8L511.1 111.6L517.0 112.6L508.3 119.7Z"/><path d="M508.3 119.7L517.0 112.6L522.9 109.4L514.2 116.5Z"/><path d="M514.2 116.5L522.9 109.4L528.9 108.4L520.2 115.6Z"/><path d="M520.2 115.6L528.9 108.4L534.8 110.5L526.1 117.6Z"/><path d="M526.1 117.6L534.8 110.5L540.7 107.3L532.1 114.4Z"/><path d="M532.1 114.4L540.7 107.3L546.7 111.6L538.0 118.7Z"/><path d="M538.0 118.7L546.7 111.6L552.6 104.6L543.9 111.8Z"/><path d="M543.9 111.8L552.6 104.6L558.6 114.2L549.9 121.3Z"/><path d="M549.9 121.3L558.6 114.2L564.5 102.0L555.8 109.1Z"/><path d="M555.8 109.1L564.5 102.0L570.4 115.3L561.7 122.4Z"/><path d="M561.7 122.4L570.4 115.3L576.4 100.8L567.7 108.0Z"/><path d="M567.7 108.0L576.4 100.8L582.3 117.9L573.6 125.0Z"/><path d="M573.6 125.0L582.3 117.9L588.2 100.4L579.6 107.6Z"/><path d="M579.6 107.6L588.2 100.4L594.2 118.2L585.5 125.4Z"/><path d="M585.5 125.4L594.2 118.2L600.1 102.3L591.4 109.4Z"/><path d="M591.4 109.4L600.1 102.3L606.1 120.8L597.4 128.0Z"/><path d="M597.4 128.0L606.1 120.8L612.0 100.0L603.3 107.1Z"/><path d="M603.3 107.1L612.0 100.0L617.9 120.4L609.2 127.6Z"/><path d="M609.2 127.6L617.9 120.4L623.9 105.2L615.2 112.4Z"/><path d="M615.2 112.4L623.9 105.2L629.8 122.3L621.1 129.4Z"/><path d="M621.1 129.4L629.8 122.3L635.7 112.3L627.1 119.5Z"/><path d="M627.1 119.5L635.7 112.3L641.7 123.7L633.0 130.9Z"/><path d="M633.0 130.9L641.7 123.7L647.6 125.4L638.9 132.6Z"/><path d="M638.9 132.6L647.6 125.4L653.6 126.7L644.9 133.9Z"/><path d="M644.9 133.9L653.6 126.7L659.5 114.5L650.8 121.7Z"/><path d="M650.8 121.7L659.5 114.5L665.4 109.4L656.7 116.5Z"/></g>
<g fill="#8cff70" class="rb"><path d="M437.4 126.0L446.0 118.8L452.0 119.4L443.3 126.5Z"/><path d="M443.3 126.5L452.0 119.4L457.9 119.9L449.2 127.1Z"/><path d="M449.2 127.1L457.9 119.9L463.9 120.5L455.2 127.6Z"/><path d="M455.2 127.6L463.9 120.5L469.8 121.0L461.1 128.2Z"/><path d="M461.1 128.2L469.8 121.0L475.7 121.6L467.0 128.7Z"/><path d="M467.0 128.7L475.7 121.6L481.7 122.1L473.0 129.3Z"/><path d="M473.0 129.3L481.7 122.1L487.6 122.7L478.9 129.8Z"/><path d="M478.9 129.8L487.6 122.7L493.5 123.2L484.9 130.4Z"/><path d="M484.9 130.4L493.5 123.2L499.5 123.8L490.8 130.9Z"/><path d="M490.8 130.9L499.5 123.8L505.4 124.3L496.7 131.5Z"/><path d="M496.7 131.5L505.4 124.3L511.4 124.9L502.7 132.0Z"/><path d="M502.7 132.0L511.4 124.9L517.3 125.4L508.6 132.6Z"/><path d="M508.6 132.6L517.3 125.4L523.2 126.0L514.5 133.1Z"/><path d="M514.5 133.1L523.2 126.0L529.2 126.5L520.5 133.7Z"/><path d="M520.5 133.7L529.2 126.5L535.1 127.1L526.4 134.2Z"/><path d="M526.4 134.2L535.1 127.1L541.0 127.6L532.4 134.8Z"/><path d="M532.4 134.8L541.0 127.6L547.0 128.2L538.3 135.3Z"/><path d="M538.3 135.3L547.0 128.2L552.9 128.7L544.2 135.9Z"/><path d="M544.2 135.9L552.9 128.7L558.9 129.3L550.2 136.4Z"/><path d="M550.2 136.4L558.9 129.3L564.8 129.8L556.1 137.0Z"/><path d="M556.1 137.0L564.8 129.8L570.7 130.4L562.0 137.5Z"/><path d="M562.0 137.5L570.7 130.4L576.7 130.9L568.0 138.1Z"/><path d="M568.0 138.1L576.7 130.9L582.6 131.5L573.9 138.6Z"/><path d="M573.9 138.6L582.6 131.5L588.5 132.0L579.9 139.2Z"/><path d="M579.9 139.2L588.5 132.0L594.5 132.6L585.8 139.7Z"/><path d="M585.8 139.7L594.5 132.6L600.4 133.1L591.7 140.3Z"/><path d="M591.7 140.3L600.4 133.1L606.4 133.7L597.7 140.8Z"/><path d="M597.7 140.8L606.4 133.7L612.3 134.2L603.6 141.4Z"/><path d="M603.6 141.4L612.3 134.2L618.2 134.8L609.5 141.9Z"/><path d="M609.5 141.9L618.2 134.8L624.2 135.3L615.5 142.5Z"/><path d="M615.5 142.5L624.2 135.3L630.1 135.9L621.4 143.0Z"/><path d="M621.4 143.0L630.1 135.9L636.0 136.4L627.4 143.6Z"/><path d="M627.4 143.6L636.0 136.4L642.0 137.0L633.3 144.1Z"/><path d="M633.3 144.1L642.0 137.0L647.9 137.5L639.2 144.7Z"/><path d="M639.2 144.7L647.9 137.5L653.9 138.1L645.2 145.2Z"/></g>
<g fill="#ff7800" class="rb"><path d="M425.8 128.0L434.5 120.9L440.4 130.4L431.7 137.6Z"/><path d="M431.7 137.6L440.4 130.4L446.3 128.7L437.6 135.9Z"/><path d="M437.6 135.9L446.3 128.7L452.3 124.0L443.6 131.2Z"/><path d="M443.6 131.2L452.3 124.0L458.2 59.0L449.5 66.1Z"/><path d="M449.5 66.1L458.2 59.0L464.1 110.1L455.5 117.3Z"/><path d="M455.5 117.3L464.1 110.1L470.1 133.2L461.4 140.3Z"/><path d="M461.4 140.3L470.1 133.2L476.0 62.5L467.3 69.6Z"/><path d="M467.3 69.6L476.0 62.5L482.0 96.0L473.3 103.2Z"/><path d="M473.3 103.2L482.0 96.0L487.9 117.2L479.2 124.4Z"/><path d="M479.2 124.4L487.9 117.2L493.8 114.0L485.1 121.2Z"/><path d="M485.1 121.2L493.8 114.0L499.8 121.2L491.1 128.3Z"/><path d="M491.1 128.3L499.8 121.2L505.7 119.2L497.0 126.4Z"/><path d="M497.0 126.4L505.7 119.2L511.6 117.2L503.0 124.3Z"/><path d="M503.0 124.3L511.6 117.2L517.6 115.1L508.9 122.2Z"/><path d="M508.9 122.2L517.6 115.1L523.5 111.9L514.8 119.0Z"/><path d="M514.8 119.0L523.5 111.9L529.5 63.7L520.8 70.8Z"/><path d="M520.8 70.8L529.5 63.7L535.4 94.2L526.7 101.4Z"/><path d="M526.7 101.4L535.4 94.2L541.3 113.5L532.6 120.7Z"/><path d="M532.6 120.7L541.3 113.5L547.3 129.8L538.6 137.0Z"/><path d="M538.6 137.0L547.3 129.8L553.2 130.4L544.5 137.5Z"/><path d="M544.5 137.5L553.2 130.4L559.1 133.2L550.5 140.3Z"/><path d="M550.5 140.3L559.1 133.2L565.1 137.2L556.4 144.3Z"/><path d="M556.4 144.3L565.1 137.2L571.0 135.0L562.3 142.2Z"/><path d="M562.3 142.2L571.0 135.0L577.0 134.8L568.3 142.0Z"/><path d="M568.3 142.0L577.0 134.8L582.9 138.4L574.2 145.5Z"/><path d="M574.2 145.5L582.9 138.4L588.8 141.2L580.1 148.3Z"/><path d="M580.1 148.3L588.8 141.2L594.8 138.7L586.1 145.9Z"/><path d="M586.1 145.9L594.8 138.7L600.7 133.3L592.0 140.4Z"/><path d="M592.0 140.4L600.7 133.3L606.6 144.3L598.0 151.5Z"/><path d="M598.0 151.5L606.6 144.3L612.6 142.1L603.9 149.3Z"/><path d="M603.9 149.3L612.6 142.1L618.5 134.2L609.8 141.3Z"/><path d="M609.8 141.3L618.5 134.2L624.5 146.1L615.8 153.3Z"/><path d="M615.8 153.3L624.5 146.1L630.4 148.0L621.7 155.2Z"/><path d="M621.7 155.2L630.4 148.0L636.3 104.0L627.6 111.2Z"/><path d="M627.6 111.2L636.3 104.0L642.3 111.3L633.6 118.4Z"/></g>
<g fill="#800000" class="rb"><path d="M414.2 139.1L422.9 131.9L428.8 79.2L420.1 86.4Z"/><path d="M420.1 86.4L428.8 79.2L434.8 70.8L426.1 77.9Z"/><path d="M426.1 77.9L434.8 70.8L440.7 67.6L432.0 74.7Z"/><path d="M432.0 74.7L440.7 67.6L446.6 136.4L437.9 143.5Z"/><path d="M437.9 143.5L446.6 136.4L452.6 69.4L443.9 76.6Z"/><path d="M443.9 76.6L452.6 69.4L458.5 86.5L449.8 93.6Z"/><path d="M449.8 93.6L458.5 86.5L464.4 138.8L455.8 145.9Z"/><path d="M455.8 145.9L464.4 138.8L470.4 77.1L461.7 84.2Z"/><path d="M461.7 84.2L470.4 77.1L476.3 73.9L467.6 81.0Z"/><path d="M467.6 81.0L476.3 73.9L482.3 74.4L473.6 81.6Z"/><path d="M473.6 81.6L482.3 74.4L488.2 111.7L479.5 118.9Z"/><path d="M479.5 118.9L488.2 111.7L494.1 77.0L485.4 84.2Z"/><path d="M485.4 84.2L494.1 77.0L500.1 105.3L491.4 112.5Z"/><path d="M491.4 112.5L500.1 105.3L506.0 76.6L497.3 83.8Z"/><path d="M497.3 83.8L506.0 76.6L511.9 78.7L503.3 85.8Z"/><path d="M503.3 85.8L511.9 78.7L517.9 140.7L509.2 147.9Z"/><path d="M509.2 147.9L517.9 140.7L523.8 87.3L515.1 94.4Z"/><path d="M515.1 94.4L523.8 87.3L529.8 76.6L521.1 83.7Z"/><path d="M521.1 83.7L529.8 76.6L535.7 128.9L527.0 136.0Z"/><path d="M527.0 136.0L535.7 128.9L541.6 143.7L532.9 150.8Z"/><path d="M532.9 150.8L541.6 143.7L547.6 79.0L538.9 86.1Z"/><path d="M538.9 86.1L547.6 79.0L553.5 78.8L544.8 85.9Z"/><path d="M544.8 85.9L553.5 78.8L559.4 78.6L550.8 85.7Z"/><path d="M550.8 85.7L559.4 78.6L565.4 148.9L556.7 156.0Z"/><path d="M556.7 156.0L565.4 148.9L571.3 81.9L562.6 89.1Z"/><path d="M562.6 89.1L571.3 81.9L577.3 117.0L568.6 124.1Z"/><path d="M568.6 124.1L577.3 117.0L583.2 82.3L574.5 89.4Z"/><path d="M574.5 89.4L583.2 82.3L589.1 145.1L580.4 152.2Z"/><path d="M580.4 152.2L589.1 145.1L595.1 81.9L586.4 89.0Z"/><path d="M586.4 89.0L595.1 81.9L601.0 89.2L592.3 96.3Z"/><path d="M592.3 96.3L601.0 89.2L606.9 83.7L598.3 90.9Z"/><path d="M598.3 90.9L606.9 83.7L612.9 83.5L604.2 90.7Z"/><path d="M604.2 90.7L612.9 83.5L618.8 83.3L610.1 90.5Z"/><path d="M610.1 90.5L618.8 83.3L624.8 101.9L616.1 109.0Z"/><path d="M616.1 109.0L624.8 101.9L630.7 101.3L622.0 108.5Z"/></g>
<text x="586.6" y="16.6" class="ti" text-anchor="middle">Excerpt 2: Mozart</text>
<text x="499.5" y="194.9" class="xl" text-anchor="middle">Time (s)</text>
<line x1="27.0" y1="370.0" x2="247.5" y2="384.5" class="ax"/>
<line x1="247.5" y1="384.5" x2="311.0" y2="337.0" class="ax"/>
<line x1="27.0" y1="370.0" x2="27.0" y2="280.0" class="ax"/>
<line x1="27.0" y1="370.0" x2="26.8" y2="375.0" class="ax"/>
<text x="26.8" y="382.7" class="tk" text-anchor="middle">0</text>
<line x1="54.6" y1="371.8" x2="54.4" y2="376.8" class="ax"/>
<text x="54.4" y="384.5" class="tk" text-anchor="middle">1</text>
<line x1="82.1" y1="373.6" x2="81.9" y2="378.6" class="ax"/>
<text x="81.9" y="386.3" class="tk" text-anchor="middle">2</text>
<line x1="109.7" y1="375.4" x2="109.5" y2="380.4" class="ax"/>
<text x="109.5" y="388.1" class="tk" text-anchor="middle">3</text>
<line x1="137.3" y1="377.3" x2="137.1" y2="382.3" class="ax"/>
<text x="137.1" y="390.0" class="tk" text-anchor="middle">4</text>
<line x1="164.8" y1="379.1" x2="164.6" y2="384.1" class="ax"/>
<text x="164.6" y="391.8" class="tk" text-anchor="middle">5</text>
<line x1="192.4" y1="380.9" x2="192.2" y2="385.9" class="ax"/>
<text x="192.2" y="393.6" class="tk" text-anchor="middle">6</text>
<line x1="219.9" y1="382.7" x2="219.7" y2="387.7" class="ax"/>
<text x="219.7" y="395.4" class="tk" text-anchor="middle">7</text>
<line x1="247.5" y1="384.5" x2="247.3" y2="389.5" class="ax"/>
<text x="247.3" y="397.2" class="tk" text-anchor="middle">8</text>
<line x1="311.0" y1="337.0" x2="311.0" y2="342.0" class="ax"/>
<text x="311.6" y="348.4" class="tk" text-anchor="middle">0</text>
<line x1="300.4" y1="344.9" x2="300.4" y2="349.9" class="ax"/>
<text x="301.0" y="356.3" class="tk" text-anchor="middle">1</text>
<line x1="289.8" y1="352.8" x2="289.8" y2="357.8" class="ax"/>
<text x="290.4" y="364.2" class="tk" text-anchor="middle">2</text>
<line x1="279.2" y1="360.7" x2="279.2" y2="365.7" class="ax"/>
<text x="279.8" y="372.1" class="tk" text-anchor="middle">3</text>
<line x1="268.7" y1="368.7" x2="268.7" y2="373.7" class="ax"/>
<text x="269.3" y="380.1" class="tk" text-anchor="middle">4</text>
<line x1="258.1" y1="376.6" x2="258.1" y2="381.6" class="ax"/>
<text x="258.7" y="388.0" class="tk" text-anchor="middle">5</text>
<line x1="247.5" y1="384.5" x2="247.5" y2="389.5" class="ax"/>
<text x="247.5" y="396.9" class="tk" text-anchor="middle">6</text>
<line x1="21.4" y1="370.0" x2="27.0" y2="370.0" class="ax"/>
<text x="20.2" y="371.8" class="tk" text-anchor="end">0</text>
<line x1="21.4" y1="352.0" x2="27.0" y2="352.0" class="ax"/>
<text x="20.2" y="353.8" class="tk" text-anchor="end">0.2</text>
<line x1="21.4" y1="334.0" x2="27.0" y2="334.0" class="ax"/>
<text x="20.2" y="335.8" class="tk" text-anchor="end">0.4</text>
<line x1="21.4" y1="316.0" x2="27.0" y2="316.0" class="ax"/>
<text x="20.2" y="317.8" class="tk" text-anchor="end">0.6</text>
<line x1="21.4" y1="298.0" x2="27.0" y2="298.0" class="ax"/>
<text x="20.2" y="299.8" class="tk" text-anchor="end">0.8</text>
<line x1="21.4" y1="280.0" x2="27.0" y2="280.0" class="ax"/>
<text x="20.2" y="281.8" class="tk" text-anchor="end">1</text>
<path class="g" d="M90 232.5h1m-1 2h1m-1 2h1m-1 2h1m-1 2h1m-1 2h1m-1 2h1m-1 2h1m-1 2h1m-1 2h1m-1 2h1m-1 2h1m-1 2h1m-1 2h1m-1 2h1m-1 2h1m-1 2h1m-1 2h1m-1 2h1m-1 2h1m-1 2h1m-1 2h1m-1 2h1m-1 2h1m-1 2h1m-1 2h1m-1 2h1m-1 2h1m-1 2h1m-1 2h1m-1 2h1m-1 2h1m-1 2h1m-1 2h1m-1 2h1m-1 2h1m-1 2h1m-1 2h1m-1 2h1m-1 2h1m-1 2h1m-1 2h1m-1 2h1m-1 2h1m-1 2h1m-1 2h1m27 -88h1m-1 2h1m-1 2h1m-1 2h1m-1 2h1m-1 2h1m-1 2h1m-1 2h1m-1 2h1m-1 2h1m-1 2h1m-1 2h1m-1 2h1m-1 2h1m-1 2h1m-1 2h1m-1 2h1m-1 2h1m-1 2h1m-1 2h1m-1 2h1m-1 2h1m-1 2h1m-1 2h1m-1 2h1m-1 2h1m-1 2h1m-1 2h1m-1 2h1m-1 2h1m-1 2h1m-1 2h1m-1 2h1m-1 2h1m-1 2h1m-1 2h1m-1 2h1m-1 2h1m-1 2h1m-1 2h1m-1 2h1m-1 2h1m-1 2h1m-1 2h1m-1 2h1m-65 49h1m1 -1h1m1 -2h1m1 -1h1m1 -2h1m1 -1h1m1 -2h1m1 -1h1m1 -2h1m1 -1h1m1 -2h1m1 -1h1m1 -2h1m1 -1h1m1 -2h1m1 -1h1m1 -2h1m1 -1h1m1 -2h1m1 -1h1m1 -2h1m1 -1h1m1 -2h1m1 -1h1m1 -2h1m1 -1h1m1 -2h1m1 -1h1m1 -2h1m1 -1h1m1 -2h1m1 -1h1m28 -89h1m-1 2h1m-1 2h1m-1 2h1m-1 2h1m-1 2h1m-1 2h1m-1 2h1m-1 2h1m-1 2h1m-1 2h1m-1 2h1m-1 2h1m-1 2h1m-1 2h1m-1 2h1m-1 2h1m-1 2h1m-1 2h1m-1 2h1m-1 2h1m-1 2h1m-1 2h1m-1 2h1m-1 2h1m-1 2h1m-1 2h1m-1 2h1m-1 2h1m-1 2h1m-1 2h1m-1 2h1m-1 2h1m-1 2h1m-1 2h1m-1 2h1m-1 2h1m-1 2h1m-1 2h1m-1 2h1m-1 2h1m-1 2h1m-1 2h1m-1 2h1m-1 2h1m-64 49h1m1 -2h1m1 -1h1m1 -2h1m1 -1h1m1 -2h1m1 -1h1m1 -2h1m1 -1h1m1 -2h1m1 -1h1m1 -2h1m1 -1h1m1 -2h1m1 -1h1m1 -2h1m1 -1h1m1 -2h1m1 -1h1m1 -2h1m1 -1h1m1 -2h1m1 -1h1m1 -2h1m1 -1h1m1 -2h1m1 -1h1m1 -2h1m1 -1h1m1 -2h1m1 -1h1m1 -2h1m28 -89h1m-1 2h1m-1 2h1m-1 2h1m-1 2h1m-1 2h1m-1 2h1m-1 2h1m-1 2h1m-1 2h1m-1 2h1m-1 2h1m-1 2h1m-1 2h1m-1 2h1m-1 2h1m-1 2h1m-1 2h1m-1 2h1m-1 2h1m-1 2h1m-1 2h1m-1 2h1m-1 2h1m-1 2h1m-1 2h1m-1 2h1m-1 2h1m-1 2h1m-1 2h1m-1 2h1m-1 2h1m-1 2h1m-1 2h1m-1 2h1m-1 2h1m-1 2h1m-1 2h1m-1 2h1m-1 2h1m-1 2h1m-1 2h1m-1 2h1m-1 2h1m-1 2h1m-1 2h1m-65 48h1m1 -1h1m1 -2h1m1 -1h1m1 -2h1m1 -1h1m1 -2h1m1 -1h1m1 -2h1m1 -1h1m1 -2h1m1 -1h1m1 -2h1m1 -1h1m1 -2h1m1 -1h1m1 -2h1m1 -1h1m1 -2h1m1 -1h1m1 -2h1m1 -1h1m1 -2h1m1 -1h1m1 -2h1m1 -1h1m1 -2h1m1 -1h1m1 -2h1m1 -1h1m1 -2h1m1 -1h1m28 -90h1m-1 2h1m-1 2h1m-1 2h1m-1 2h1m-1 2h1m-1 2h1m-1 2h1m-1 2h1m-1 2h1m-1 2h1m-1 2h1m-1 2h1m-1 2h1m-1 2h1m-1 2h1m-1 2h1m-1 2h1m-1 2h1m-1 2h1m-1 2h1m-1 2h1m-1 2h1m-1 2h1m-1 2h1m-1 2h1m-1 2h1m-1 2h1m-1 2h1m-1 2h1m-1 2h1m-1 2h1m-1 2h1m-1 2h1m-1 2h1m-1 2h1m-1 2h1m-1 2h1m-1 2h1m-1 2h1m-1 2h1m-1 2h1m-1 2h1m-1 2h1m-1 2h1m-1 2h1m-64 48h1m1 -2h1m1 -1h1m1 -2h1m1 -1h1m1 -2h1m1 -1h1m1 -2h1m1 -1h1m1 -2h1m1 -1h1m1 -2h1m1 -1h1m1 -2h1m1 -1h1m1 -2h1m1 -1h1m1 -2h1m1 -1h1m1 -2h1m1 -1h1m1 -2h1m1 -1h1m1 -2h1m1 -1h1m1 -2h1m1 -1h1m1 -2h1m1 -1h1m1 -2h1m1 -1h1m1 -2h1m28 -89h1m-1 2h1m-1 2h1m-1 2h1m-1 2h1m-1 2h1m-1 2h1m-1 2h1m-1 2h1m-1 2h1m-1 2h1m-1 2h1m-1 2h1m-1 2h1m-1 2h1m-1 2h1m-1 2h1m-1 2h1m-1 2h1m-1 2h1m-1 2h1m-1 2h1m-1 2h1m-1 2h1m-1 2h1m-1 2h1m-1 2h1m-1 2h1m-1 2h1m-1 2h1m-1 2h1m-1 2h1m-1 2h1m-1 2h1m-1 2h1m-1 2h1m-1 2h1m-1 2h1m-1 2h1m-1 2h1m-1 2h1m-1 2h1m-1 2h1m-1 2h1m-1 2h1m-1 2h1m-65 48h1m1 -2h1m1 -1h1m1 -2h1m1 -1h1m1 -2h1m1 -1h1m1 -2h1m1 -1h1m1 -2h1m1 -1h1m1 -2h1m1 -1h1m1 -2h1m1 -1h1m1 -2h1m1 -1h1m1 -2h1m1 -1h1m1 -2h1m1 -1h1m1 -2h1m1 -1h1m1 -2h1m1 -1h1m1 -2h1m1 -1h1m1 -2h1m1 -1h1m1 -2h1m1 -1h1m1 -2h1m28 -89h1m-1 2h1m-1 2h1m-1 2h1m-1 2h1m-1 2h1m-1 2h1m-1 2h1m-1 2h1m-1 2h1m-1 2h1m-1 2h1m-1 2h1m-1 2h1m-1 2h1m-1 2h1m-1 2h1m-1 2h1m-1 2h1m-1 2h1m-1 2h1m-1 2h1m-1 2h1m-1 2h1m-1 2h1m-1 2h1m-1 2h1m-1 2h1m-1 2h1m-1 2h1m-1 2h1m-1 2h1m-1 2h1m-1 2h1m-1 2h1m-1 2h1m-1 2h1m-1 2h1m-1 2h1m-1 2h1m-1 2h1m-1 2h1m-1 2h1m-1 2h1m-1 2h1m-64 49h1m1 -1h1m1 -2h1m1 -1h1m1 -2h1m1 -1h1m1 -2h1m1 -1h1m1 -2h1m1 -1h1m1 -2h1m1 -1h1m1 -2h1m1 -1h1m1 -2h1m1 -1h1m1 -2h1m1 -1h1m1 -2h1m1 -1h1m1 -2h1m1 -1h1m1 -2h1m1 -1h1m1 -2h1m1 -1h1m1 -2h1m1 -1h1m1 -2h1m1 -1h1m1 -2h1m1 -1h1m28 -89h1m-1 2h1m-1 2h1m-1 2h1m-1 2h1m-1 2h1m-1 2h1m-1 2h1m-1 2h1m-1 2h1m-1 2h1m-1 2h1m-1 2h1m-1 2h1m-1 2h1m-1 2h1m-1 2h1m-1 2h1m-1 2h1m-1 2h1m-1 2h1m-1 2h1m-1 2h1m-1 2h1m-1 2h1m-1 2h1m-1 2h1m-1 2h1m-1 2h1m-1 2h1m-1 2h1m-1 2h1m-1 2h1m-1 2h1m-1 2h1m-1 2h1m-1 2h1m-1 2h1m-1 2h1m-1 2h1m-1 2h1m-1 2h1m-1 2h1m-1 2h1m-1 2h1m-65 50h1m1 -2h1m1 -1h1m1 -2h1m1 -1h1m1 -2h1m1 -1h1m1 -2h1m1 -1h1m1 -2h1m1 -1h1m1 -2h1m1 -1h1m1 -2h1m1 -1h1m1 -2h1m1 -1h1m1 -2h1m1 -1h1m1 -2h1m1 -1h1m1 -2h1m1 -1h1m1 -2h1m1 -1h1m1 -2h1m1 -1h1m1 -2h1m1 -1h1m1 -2h1m1 -1h1m1 -2h1m28 -90h1m-1 2h1m-1 2h1m-1 2h1m-1 2h1m-1 2h1m-1 2h1m-1 2h1m-1 2h1m-1 2h1m-1 2h1m-1 2h1m-1 2h1m-1 2h1m-1 2h1m-1 2h1m-1 2h1m-1 2h1m-1 2h1m-1 2h1m-1 2h1m-1 2h1m-1 2h1m-1 2h1m-1 2h1m-1 2h1m-1 2h1m-1 2h1m-1 2h1m-1 2h1m-1 2h1m-1 2h1m-1 2h1m-1 2h1m-1 2h1m-1 2h1m-1 2h1m-1 2h1m-1 2h1m-1 2h1m-1 2h1m-1 2h1m-1 2h1m-1 2h1m-1 2h1m-1 2h1m-221 -14h1m1 0h1m1 0h1m1 0h1m1 1h1m1 0h1m1 0h1m1 0h1m1 0h1m1 0h1m1 0h1m1 0h1m1 1h1m1 0h1m1 0h1m1 0h1m1 0h1m1 0h1m1 0h1m1 0h1m1 1h1m1 0h1m1 0h1m1 0h1m1 0h1m1 0h1m1 0h1m1 1h1m1 0h1m1 0h1m1 0h1m1 0h1m1 0h1m1 0h1m1 0h1m1 1h1m1 0h1m1 0h1m1 0h1m1 0h1m1 0h1m1 0h1m1 1h1m1 0h1m1 0h1m1 0h1m1 0h1m1 0h1m1 0h1m1 0h1m1 1h1m1 0h1m1 0h1m1 0h1m1 0h1m1 0h1m1 0h1m1 0h1m1 1h1m1 0h1m1 0h1m1 0h1m1 0h1m1 0h1m1 0h1m1 1h1m1 0h1m1 0h1m1 0h1m1 0h1m1 0h1m1 0h1m1 0h1m1 1h1m1 0h1m1 0h1m1 0h1m1 0h1m1 0h1m1 0h1m1 1h1m1 0h1m1 0h1m1 0h1m1 0h1m1 0h1m1 0h1m1 0h1m1 1h1m1 0h1m1 0h1m1 0h1m1 0h1m1 0h1m1 0h1m1 0h1m1 1h1m1 0h1m1 0h1m1 0h1m1 0h1m1 0h1m1 0h1m1 1h1m1 0h1m1 0h1m1 0h1m1 0h1m1 0h1m1 0h1m1 0h1m-284 33h1m1 -1h1m1 -2h1m1 -1h1m1 -2h1m1 -1h1m1 -2h1m1 -1h1m1 -2h1m1 -1h1m1 -2h1m1 -1h1m1 -2h1m1 -1h1m1 -2h1m1 -1h1m1 -2h1m1 -1h1m1 -2h1m1 -1h1m1 -2h1m1 -1h1m1 -2h1m1 -1h1m1 -2h1m1 -1h1m1 -2h1m1 -1h1m1 -2h1m1 -1h1m1 -2h1m1 -1h1m0 -19h1m1 0h1m1 0h1m1 0h1m1 1h1m1 0h1m1 0h1m1 0h1m1 0h1m1 0h1m1 0h1m1 0h1m1 1h1m1 0h1m1 0h1m1 0h1m1 0h1m1 0h1m1 0h1m1 0h1m1 1h1m1 0h1m1 0h1m1 0h1m1 0h1m1 0h1m1 0h1m1 1h1m1 0h1m1 0h1m1 0h1m1 0h1m1 0h1m1 0h1m1 0h1m1 1h1m1 0h1m1 0h1m1 0h1m1 0h1m1 0h1m1 0h1m1 1h1m1 0h1m1 0h1m1 0h1m1 0h1m1 0h1m1 0h1m1 0h1m1 1h1m1 0h1m1 0h1m1 0h1m1 0h1m1 0h1m1 0h1m1 0h1m1 1h1m1 0h1m1 0h1m1 0h1m1 0h1m1 0h1m1 0h1m1 1h1m1 0h1m1 0h1m1 0h1m1 0h1m1 0h1m1 0h1m1 0h1m1 1h1m1 0h1m1 0h1m1 0h1m1 0h1m1 0h1m1 0h1m1 1h1m1 0h1m1 0h1m1 0h1m1 0h1m1 0h1m1 0h1m1 0h1m1 1h1m1 0h1m1 0h1m1 0h1m1 0h1m1 0h1m1 0h1m1 0h1m1 1h1m1 0h1m1 0h1m1 0h1m1 0h1m1 0h1m1 0h1m1 1h1m1 0h1m1 0h1m1 0h1m1 0h1m1 0h1m1 0h1m1 0h1m-284 33h1m1 -1h1m1 -2h1m1 -1h1m1 -2h1m1 -1h1m1 -2h1m1 -1h1m1 -2h1m1 -1h1m1 -2h1m1 -1h1m1 -2h1m1 -1h1m1 -2h1m1 -1h1m1 -2h1m1 -1h1m1 -2h1m1 -1h1m1 -2h1m1 -1h1m1 -2h1m1 -1h1m1 -2h1m1 -1h1m1 -2h1m1 -1h1m1 -2h1m1 -1h1m1 -2h1m1 -1h1m0 -19h1m1 0h1m1 0h1m1 0h1m1 1h1m1 0h1m1 0h1m1 0h1m1 0h1m1 0h1m1 0h1m1 0h1m1 1h1m1 0h1m1 0h1m1 0h1m1 0h1m1 0h1m1 0h1m1 0h1m1 1h1m1 0h1m1 0h1m1 0h1m1 0h1m1 0h1m1 0h1m1 1h1m1 0h1m1 0h1m1 0h1m1 0h1m1 0h1m1 0h1m1 0h1m1 1h1m1 0h1m1 0h1m1 0h1m1 0h1m1 0h1m1 0h1m1 1h1m1 0h1m1 0h1m1 0h1m1 0h1m1 0h1m1 0h1m1 0h1m1 1h1m1 0h1m1 0h1m1 0h1m1 0h1m1 0h1m1 0h1m1 0h1m1 1h1m1 0h1m1 0h1m1 0h1m1 0h1m1 0h1m1 0h1m1 1h1m1 0h1m1 0h1m1 0h1m1 0h1m1 0h1m1 0h1m1 0h1m1 1h1m1 0h1m1 0h1m1 0h1m1 0h1m1 0h1m1 0h1m1 1h1m1 0h1m1 0h1m1 0h1m1 0h1m1 0h1m1 0h1m1 0h1m1 1h1m1 0h1m1 0h1m1 0h1m1 0h1m1 0h1m1 0h1m1 0h1m1 1h1m1 0h1m1 0h1m1 0h1m1 0h1m1 0h1m1 0h1m1 1h1m1 0h1m1 0h1m1 0h1m1 0h1m1 0h1m1 0h1m1 0h1m-284 33h1m1 -1h1m1 -2h1m1 -1h1m1 -2h1m1 -1h1m1 -2h1m1 -1h1m1 -2h1m1 -1h1m1 -2h1m1 -1h1m1 -2h1m1 -1h1m1 -2h1m1 -1h1m1 -2h1m1 -1h1m1 -2h1m1 -1h1m1 -2h1m1 -1h1m1 -2h1m1 -1h1m1 -2h1m1 -1h1m1 -2h1m1 -1h1m1 -2h1m1 -1h1m1 -2h1m1 -1h1m0 -19h1m1 0h1m1 0h1m1 0h1m1 1h1m1 0h1m1 0h1m1 0h1m1 0h1m1 0h1m1 0h1m1 0h1m1 1h1m1 0h1m1 0h1m1 0h1m1 0h1m1 0h1m1 0h1m1 0h1m1 1h1m1 0h1m1 0h1m1 0h1m1 0h1m1 0h1m1 0h1m1 1h1m1 0h1m1 0h1m1 0h1m1 0h1m1 0h1m1 0h1m1 0h1m1 1h1m1 0h1m1 0h1m1 0h1m1 0h1m1 0h1m1 0h1m1 1h1m1 0h1m1 0h1m1 0h1m1 0h1m1 0h1m1 0h1m1 0h1m1 1h1m1 0h1m1 0h1m1 0h1m1 0h1m1 0h1m1 0h1m1 0h1m1 1h1m1 0h1m1 0h1m1 0h1m1 0h1m1 0h1m1 0h1m1 1h1m1 0h1m1 0h1m1 0h1m1 0h1m1 0h1m1 0h1m1 0h1m1 1h1m1 0h1m1 0h1m1 0h1m1 0h1m1 0h1m1 0h1m1 1h1m1 0h1m1 0h1m1 0h1m1 0h1m1 0h1m1 0h1m1 0h1m1 1h1m1 0h1m1 0h1m1 0h1m1 0h1m1 0h1m1 0h1m1 0h1m1 1h1m1 0h1m1 0h1m1 0h1m1 0h1m1 0h1m1 0h1m1 1h1m1 0h1m1 0h1m1 0h1m1 0h1m1 0h1m1 0h1m1 0h1m-284 33h1m1 -1h1m1 -2h1m1 -1h1m1 -2h1m1 -1h1m1 -2h1m1 -1h1m1 -2h1m1 -1h1m1 -2h1m1 -1h1m1 -2h1m1 -1h1m1 -2h1m1 -1h1m1 -2h1m1 -1h1m1 -2h1m1 -1h1m1 -2h1m1 -1h1m1 -2h1m1 -1h1m1 -2h1m1 -1h1m1 -2h1m1 -1h1m1 -2h1m1 -1h1m1 -2h1m1 -1h1m0 -19h1m1 0h1m1 0h1m1 0h1m1 1h1m1 0h1m1 0h1m1 0h1m1 0h1m1 0h1m1 0h1m1 0h1m1 1h1m1 0h1m1 0h1m1 0h1m1 0h1m1 0h1m1 0h1m1 0h1m1 1h1m1 0h1m1 0h1m1 0h1m1 0h1m1 0h1m1 0h1m1 1h1m1 0h1m1 0h1m1 0h1m1 0h1m1 0h1m1 0h1m1 0h1m1 1h1m1 0h1m1 0h1m1 0h1m1 0h1m1 0h1m1 0h1m1 1h1m1 0h1m1 0h1m1 0h1m1 0h1m1 0h1m1 0h1m1 0h1m1 1h1m1 0h1m1 0h1m1 0h1m1 0h1m1 0h1m1 0h1m1 0h1m1 1h1m1 0h1m1 0h1m1 0h1m1 0h1m1 0h1m1 0h1m1 1h1m1 0h1m1 0h1m1 0h1m1 0h1m1 0h1m1 0h1m1 0h1m1 1h1m1 0h1m1 0h1m1 0h1m1 0h1m1 0h1m1 0h1m1 1h1m1 0h1m1 0h1m1 0h1m1 0h1m1 0h1m1 0h1m1 0h1m1 1h1m1 0h1m1 0h1m1 0h1m1 0h1m1 0h1m1 0h1m1 0h1m1 1h1m1 0h1m1 0h1m1 0h1m1 0h1m1 0h1m1 0h1m1 1h1m1 0h1m1 0h1m1 0h1m1 0h1m1 0h1m1 0h1m1 0h1m-284 33h1m1 -1h1m1 -2h1m1 -1h1m1 -2h1m1 -1h1m1 -2h1m1 -1h1m1 -2h1m1 -1h1m1 -2h1m1 -1h1m1 -2h1m1 -1h1m1 -2h1m1 -1h1m1 -2h1m1 -1h1m1 -2h1m1 -1h1m1 -2h1m1 -1h1m1 -2h1m1 -1h1m1 -2h1m1 -1h1m1 -2h1m1 -1h1m1 -2h1m1 -1h1m1 -2h1m1 -1h1m0 -19h1m1 0h1m1 0h1m1 0h1m1 1h1m1 0h1m1 0h1m1 0h1m1 0h1m1 0h1m1 0h1m1 0h1m1 1h1m1 0h1m1 0h1m1 0h1m1 0h1m1 0h1m1 0h1m1 0h1m1 1h1m1 0h1m1 0h1m1 0h1m1 0h1m1 0h1m1 0h1m1 1h1m1 0h1m1 0h1m1 0h1m1 0h1m1 0h1m1 0h1m1 0h1m1 1h1m1 0h1m1 0h1m1 0h1m1 0h1m1 0h1m1 0h1m1 1h1m1 0h1m1 0h1m1 0h1m1 0h1m1 0h1m1 0h1m1 0h1m1 1h1m1 0h1m1 0h1m1 0h1m1 0h1m1 0h1m1 0h1m1 0h1m1 1h1m1 0h1m1 0h1m1 0h1m1 0h1m1 0h1m1 0h1m1 1h1m1 0h1m1 0h1m1 0h1m1 0h1m1 0h1m1 0h1m1 0h1m1 1h1m1 0h1m1 0h1m1 0h1m1 0h1m1 0h1m1 0h1m1 1h1m1 0h1m1 0h1m1 0h1m1 0h1m1 0h1m1 0h1m1 0h1m1 1h1m1 0h1m1 0h1m1 0h1m1 0h1m1 0h1m1 0h1m1 0h1m1 1h1m1 0h1m1 0h1m1 0h1m1 0h1m1 0h1m1 0h1m1 1h1m1 0h1m1 0h1m1 0h1m1 0h1m1 0h1m1 0h1m1 0h1m-284 33h1m1 -1h1m1 -2h1m1 -1h1m1 -2h1m1 -1h1m1 -2h1m1 -1h1m1 -2h1m1 -1h1m1 -2h1m1 -1h1m1 -2h1m1 -1h1m1 -2h1m1 -1h1m1 -2h1m1 -1h1m1 -2h1m1 -1h1m1 -2h1m1 -1h1m1 -2h1m1 -1h1m1 -2h1m1 -1h1m1 -2h1m1 -1h1m1 -2h1m1 -1h1m1 -2h1m1 -1h1m-11 7h1m-1 2h1m-1 2h1m-1 2h1m-1 2h1m-1 2h1m-1 2h1m-1 2h1m-1 2h1m-1 2h1m-1 2h1m-1 2h1m-1 2h1m-1 2h1m-1 2h1m-1 2h1m-1 2h1m-1 2h1m-1 2h1m-1 2h1m-1 2h1m-1 2h1m-1 2h1m-1 2h1m-1 2h1m-1 2h1m-1 2h1m-1 2h1m-1 2h1m-1 2h1m-1 2h1m-1 2h1m-1 2h1m-1 2h1m-1 2h1m-1 2h1m-1 2h1m-1 2h1m-1 2h1m-1 2h1m-1 2h1m-1 2h1m-1 2h1m-1 2h1m-1 2h1m-1 2h1m1 0h1m1 0h1m1 0h1m1 0h1m1 1h1m1 0h1m1 0h1m1 0h1m1 0h1m1 0h1m1 0h1m1 0h1m1 1h1m1 0h1m1 0h1m1 0h1m1 0h1m1 0h1m1 0h1m1 1h1m1 0h1m1 0h1m1 0h1m1 0h1m1 0h1m1 0h1m1 0h1m1 1h1m1 0h1m1 0h1m1 0h1m1 0h1m1 0h1m1 0h1m1 0h1m1 1h1m1 0h1m1 0h1m1 0h1m1 0h1m1 0h1m1 0h1m1 1h1m1 0h1m1 0h1m1 0h1m1 0h1m1 0h1m1 0h1m1 0h1m1 1h1m1 0h1m1 0h1m1 0h1m1 0h1m1 0h1m1 0h1m1 1h1m1 0h1m1 0h1m1 0h1m1 0h1m1 0h1m1 0h1m1 0h1m1 1h1m1 0h1m1 0h1m1 0h1m1 0h1m1 0h1m1 0h1m1 0h1m1 1h1m1 0h1m1 0h1m1 0h1m1 0h1m1 0h1m1 0h1m1 1h1m1 0h1m1 0h1m1 0h1m1 0h1m1 0h1m1 0h1m1 0h1m1 1h1m1 0h1m1 0h1m1 0h1m1 0h1m1 0h1m1 0h1m1 1h1m1 0h1m1 0h1m1 0h1m1 0h1m1 0h1m1 0h1m1 0h1m1 1h1m1 0h1m1 0h1m1 0h1m1 0h1m1 0h1m1 0h1m-231 -96h1m-1 2h1m-1 2h1m-1 2h1m-1 2h1m-1 2h1m-1 2h1m-1 2h1m-1 2h1m-1 2h1m-1 2h1m-1 2h1m-1 2h1m-1 2h1m-1 2h1m-1 2h1m-1 2h1m-1 2h1m-1 2h1m-1 2h1m-1 2h1m-1 2h1m-1 2h1m-1 2h1m-1 2h1m-1 2h1m-1 2h1m-1 2h1m-1 2h1m-1 2h1m-1 2h1m-1 2h1m-1 2h1m-1 2h1m-1 2h1m-1 2h1m-1 2h1m-1 2h1m-1 2h1m-1 2h1m-1 2h1m-1 2h1m-1 2h1m-1 2h1m-1 2h1m-1 2h1m1 0h1m1 0h1m1 0h1m1 0h1m1 1h1m1 0h1m1 0h1m1 0h1m1 0h1m1 0h1m1 0h1m1 0h1m1 1h1m1 0h1m1 0h1m1 0h1m1 0h1m1 0h1m1 0h1m1 0h1m1 1h1m1 0h1m1 0h1m1 0h1m1 0h1m1 0h1m1 0h1m1 1h1m1 0h1m1 0h1m1 0h1m1 0h1m1 0h1m1 0h1m1 0h1m1 1h1m1 0h1m1 0h1m1 0h1m1 0h1m1 0h1m1 0h1m1 0h1m1 1h1m1 0h1m1 0h1m1 0h1m1 0h1m1 0h1m1 0h1m1 1h1m1 0h1m1 0h1m1 0h1m1 0h1m1 0h1m1 0h1m1 0h1m1 1h1m1 0h1m1 0h1m1 0h1m1 0h1m1 0h1m1 0h1m1 1h1m1 0h1m1 0h1m1 0h1m1 0h1m1 0h1m1 0h1m1 0h1m1 1h1m1 0h1m1 0h1m1 0h1m1 0h1m1 0h1m1 0h1m1 0h1m1 1h1m1 0h1m1 0h1m1 0h1m1 0h1m1 0h1m1 0h1m1 1h1m1 0h1m1 0h1m1 0h1m1 0h1m1 0h1m1 0h1m1 0h1m1 1h1m1 0h1m1 0h1m1 0h1m1 0h1m1 0h1m1 0h1m1 1h1m1 0h1m1 0h1m1 0h1m1 0h1m1 0h1m1 0h1m-232 -96h1m-1 2h1m-1 2h1m-1 2h1m-1 2h1m-1 2h1m-1 2h1m-1 2h1m-1 2h1m-1 2h1m-1 2h1m-1 2h1m-1 2h1m-1 2h1m-1 2h1m-1 2h1m-1 2h1m-1 2h1m-1 2h1m-1 2h1m-1 2h1m-1 2h1m-1 2h1m-1 2h1m-1 2h1m-1 2h1m-1 2h1m-1 2h1m-1 2h1m-1 2h1m-1 2h1m-1 2h1m-1 2h1m-1 2h1m-1 2h1m-1 2h1m-1 2h1m-1 2h1m-1 2h1m-1 2h1m-1 2h1m-1 2h1m-1 2h1m-1 2h1m-1 2h1m-1 2h1m1 0h1m1 0h1m1 0h1m1 0h1m1 0h1m1 1h1m1 0h1m1 0h1m1 0h1m1 0h1m1 0h1m1 0h1m1 0h1m1 1h1m1 0h1m1 0h1m1 0h1m1 0h1m1 0h1m1 0h1m1 1h1m1 0h1m1 0h1m1 0h1m1 0h1m1 0h1m1 0h1m1 0h1m1 1h1m1 0h1m1 0h1m1 0h1m1 0h1m1 0h1m1 0h1m1 0h1m1 1h1m1 0h1m1 0h1m1 0h1m1 0h1m1 0h1m1 0h1m1 1h1m1 0h1m1 0h1m1 0h1m1 0h1m1 0h1m1 0h1m1 0h1m1 1h1m1 0h1m1 0h1m1 0h1m1 0h1m1 0h1m1 0h1m1 0h1m1 1h1m1 0h1m1 0h1m1 0h1m1 0h1m1 0h1m1 0h1m1 1h1m1 0h1m1 0h1m1 0h1m1 0h1m1 0h1m1 0h1m1 0h1m1 1h1m1 0h1m1 0h1m1 0h1m1 0h1m1 0h1m1 0h1m1 1h1m1 0h1m1 0h1m1 0h1m1 0h1m1 0h1m1 0h1m1 0h1m1 1h1m1 0h1m1 0h1m1 0h1m1 0h1m1 0h1m1 0h1m1 0h1m1 1h1m1 0h1m1 0h1m1 0h1m1 0h1m1 0h1m1 0h1m1 1h1m1 0h1m1 0h1m1 0h1m1 0h1m1 0h1m-231 -96h1m-1 2h1m-1 2h1m-1 2h1m-1 2h1m-1 2h1m-1 2h1m-1 2h1m-1 2h1m-1 2h1m-1 2h1m-1 2h1m-1 2h1m-1 2h1m-1 2h1m-1 2h1m-1 2h1m-1 2h1m-1 2h1m-1 2h1m-1 2h1m-1 2h1m-1 2h1m-1 2h1m-1 2h1m-1 2h1m-1 2h1m-1 2h1m-1 2h1m-1 2h1m-1 2h1m-1 2h1m-1 2h1m-1 2h1m-1 2h1m-1 2h1m-1 2h1m-1 2h1m-1 2h1m-1 2h1m-1 2h1m-1 2h1m-1 2h1m-1 2h1m-1 2h1m-1 2h1m1 0h1m1 0h1m1 0h1m1 0h1m1 0h1m1 0h1m1 1h1m1 0h1m1 0h1m1 0h1m1 0h1m1 0h1m1 0h1m1 1h1m1 0h1m1 0h1m1 0h1m1 0h1m1 0h1m1 0h1m1 0h1m1 1h1m1 0h1m1 0h1m1 0h1m1 0h1m1 0h1m1 0h1m1 1h1m1 0h1m1 0h1m1 0h1m1 0h1m1 0h1m1 0h1m1 0h1m1 1h1m1 0h1m1 0h1m1 0h1m1 0h1m1 0h1m1 0h1m1 0h1m1 1h1m1 0h1m1 0h1m1 0h1m1 0h1m1 0h1m1 0h1m1 1h1m1 0h1m1 0h1m1 0h1m1 0h1m1 0h1m1 0h1m1 0h1m1 1h1m1 0h1m1 0h1m1 0h1m1 0h1m1 0h1m1 0h1m1 1h1m1 0h1m1 0h1m1 0h1m1 0h1m1 0h1m1 0h1m1 0h1m1 1h1m1 0h1m1 0h1m1 0h1m1 0h1m1 0h1m1 0h1m1 0h1m1 1h1m1 0h1m1 0h1m1 0h1m1 0h1m1 0h1m1 0h1m1 1h1m1 0h1m1 0h1m1 0h1m1 0h1m1 0h1m1 0h1m1 0h1m1 1h1m1 0h1m1 0h1m1 0h1m1 0h1m1 0h1m1 0h1m1 0h1m1 1h1m1 0h1m1 0h1m1 0h1m1 0h1m-232 -96h1m-1 2h1m-1 2h1m-1 2h1m-1 2h1m-1 2h1m-1 2h1m-1 2h1m-1 2h1m-1 2h1m-1 2h1m-1 2h1m-1 2h1m-1 2h1m-1 2h1m-1 2h1m-1 2h1m-1 2h1m-1 2h1m-1 2h1m-1 2h1m-1 2h1m-1 2h1m-1 2h1m-1 2h1m-1 2h1m-1 2h1m-1 2h1m-1 2h1m-1 2h1m-1 2h1m-1 2h1m-1 2h1m-1 2h1m-1 2h1m-1 2h1m-1 2h1m-1 2h1m-1 2h1m-1 2h1m-1 2h1m-1 2h1m-1 2h1m-1 2h1m-1 2h1m-1 2h1m1 0h1m1 0h1m1 0h1m1 0h1m1 0h1m1 0h1m1 1h1m1 0h1m1 0h1m1 0h1m1 0h1m1 0h1m1 0h1m1 0h1m1 1h1m1 0h1m1 0h1m1 0h1m1 0h1m1 0h1m1 0h1m1 0h1m1 1h1m1 0h1m1 0h1m1 0h1m1 0h1m1 0h1m1 0h1m1 1h1m1 0h1m1 0h1m1 0h1m1 0h1m1 0h1m1 0h1m1 0h1m1 1h1m1 0h1m1 0h1m1 0h1m1 0h1m1 0h1m1 0h1m1 1h1m1 0h1m1 0h1m1 0h1m1 0h1m1 0h1m1 0h1m1 0h1m1 1h1m1 0h1m1 0h1m1 0h1m1 0h1m1 0h1m1 0h1m1 0h1m1 1h1m1 0h1m1 0h1m1 0h1m1 0h1m1 0h1m1 0h1m1 1h1m1 0h1m1 0h1m1 0h1m1 0h1m1 0h1m1 0h1m1 0h1m1 1h1m1 0h1m1 0h1m1 0h1m1 0h1m1 0h1m1 0h1m1 0h1m1 1h1m1 0h1m1 0h1m1 0h1m1 0h1m1 0h1m1 0h1m1 1h1m1 0h1m1 0h1m1 0h1m1 0h1m1 0h1m1 0h1m1 0h1m1 1h1m1 0h1m1 0h1m1 0h1m1 0h1m1 0h1m1 0h1m1 1h1m1 0h1m1 0h1m1 0h1m1 0h1"/>
<g fill="#00008f" class="rb"><path d="M90.6 256.3L98.5 250.4L112.3 264.1L104.3 270.0Z"/><path d="M104.3 270.0L112.3 264.1L126.1 255.1L118.1 261.0Z"/><path d="M118.1 261.0L126.1 255.1L139.8 268.6L131.9 274.5Z"/><path d="M131.9 274.5L139.8 268.6L153.6 265.2L145.7 271.1Z"/><path d="M145.7 271.1L153.6 265.2L167.4 272.0L159.5 277.9Z"/><path d="M159.5 277.9L167.4 272.0L181.2 271.5L173.2 277.4Z"/><path d="M173.2 277.4L181.2 271.5L195.0 334.5L187.0 340.4Z"/><path d="M187.0 340.4L195.0 334.5L208.7 335.3L200.8 341.2Z"/><path d="M200.8 341.2L208.7 335.3L222.5 336.2L214.6 342.1Z"/><path d="M214.6 342.1L222.5 336.2L236.3 337.1L228.4 343.0Z"/><path d="M228.4 343.0L236.3 337.1L250.1 338.0L242.1 343.9Z"/><path d="M242.1 343.9L250.1 338.0L263.9 338.9L255.9 344.8Z"/><path d="M255.9 344.8L263.9 338.9L277.6 338.7L269.7 344.6Z"/><path d="M269.7 344.6L277.6 338.7L291.4 340.7L283.5 346.6Z"/><path d="M283.5 346.6L291.4 340.7L305.2 341.6L297.3 347.5Z"/></g>
<g fill="#0090ff" class="rb"><path d="M80.0 295.6L87.9 289.7L101.7 274.5L93.8 280.4Z"/><path d="M93.8 280.4L101.7 274.5L115.5 289.1L107.5 295.0Z"/><path d="M107.5 295.0L115.5 289.1L129.3 275.3L121.3 281.2Z"/><path d="M121.3 281.2L129.3 275.3L143.0 279.6L135.1 285.5Z"/><path d="M135.1 285.5L143.0 279.6L156.8 273.7L148.9 279.6Z"/><path d="M148.9 279.6L156.8 273.7L170.6 275.6L162.7 281.5Z"/><path d="M162.7 281.5L170.6 275.6L184.4 342.9L176.4 348.8Z"/><path d="M176.4 348.8L184.4 342.9L198.2 343.4L190.2 349.3Z"/><path d="M190.2 349.3L198.2 343.4L211.9 343.8L204.0 349.7Z"/><path d="M204.0 349.7L211.9 343.8L225.7 344.3L217.8 350.2Z"/><path d="M217.8 350.2L225.7 344.3L239.5 344.6L231.6 350.5Z"/><path d="M231.6 350.5L239.5 344.6L253.3 345.4L245.3 351.3Z"/><path d="M245.3 351.3L253.3 345.4L267.1 346.6L259.1 352.5Z"/><path d="M259.1 352.5L267.1 346.6L280.8 347.6L272.9 353.5Z"/><path d="M272.9 353.5L280.8 347.6L294.6 348.6L286.7 354.5Z"/></g>
<g fill="#8cff70" class="rb"><path d="M69.4 349.0L77.3 343.1L91.1 343.1L83.2 349.0Z"/><path d="M83.2 349.0L91.1 343.1L104.9 336.3L97.0 342.2Z"/><path d="M97.0 342.2L104.9 336.3L118.7 339.7L110.7 345.6Z"/><path d="M110.7 345.6L118.7 339.7L132.5 342.2L124.5 348.1Z"/><path d="M124.5 348.1L132.5 342.2L146.2 346.1L138.3 352.0Z"/><path d="M138.3 352.0L146.2 346.1L160.0 348.0L152.1 353.9Z"/><path d="M152.1 353.9L160.0 348.0L173.8 351.3L165.9 357.2Z"/><path d="M165.9 357.2L173.8 351.3L187.6 351.8L179.6 357.7Z"/><path d="M179.6 357.7L187.6 351.8L201.4 352.2L193.4 358.1Z"/><path d="M193.4 358.1L201.4 352.2L215.1 352.5L207.2 358.4Z"/><path d="M207.2 358.4L215.1 352.5L228.9 353.5L221.0 359.4Z"/><path d="M221.0 359.4L228.9 353.5L242.7 354.7L234.8 360.6Z"/><path d="M234.8 360.6L242.7 354.7L256.5 356.1L248.5 362.0Z"/><path d="M248.5 362.0L256.5 356.1L270.3 356.7L262.3 362.6Z"/><path d="M262.3 362.6L270.3 356.7L284.0 357.6L276.1 363.5Z"/></g>
<g fill="#ff7800" class="rb"><path d="M58.8 357.4L66.8 351.5L80.5 351.3L72.6 357.2Z"/><path d="M72.6 357.2L80.5 351.3L94.3 345.6L86.4 351.5Z"/><path d="M86.4 351.5L94.3 345.6L108.1 347.6L100.2 353.5Z"/><path d="M100.2 353.5L108.1 347.6L121.9 351.1L113.9 357.0Z"/><path d="M113.9 357.0L121.9 351.1L135.7 356.6L127.7 362.5Z"/><path d="M127.7 362.5L135.7 356.6L149.4 355.6L141.5 361.5Z"/><path d="M141.5 361.5L149.4 355.6L163.2 296.9L155.3 302.8Z"/><path d="M155.3 302.8L163.2 296.9L177.0 316.3L169.1 322.2Z"/><path d="M169.1 322.2L177.0 316.3L190.8 321.3L182.8 327.2Z"/><path d="M182.8 327.2L190.8 321.3L204.6 312.9L196.6 318.8Z"/><path d="M196.6 318.8L204.6 312.9L218.3 295.2L210.4 301.1Z"/><path d="M210.4 301.1L218.3 295.2L232.1 323.0L224.2 328.9Z"/><path d="M224.2 328.9L232.1 323.0L245.9 330.3L238.0 336.2Z"/><path d="M238.0 336.2L245.9 330.3L259.7 336.2L251.7 342.1Z"/><path d="M251.7 342.1L259.7 336.2L273.5 356.4L265.5 362.3Z"/></g>
<g fill="#800000" class="rb"><path d="M48.2 365.8L56.2 359.9L70.0 359.2L62.0 365.1Z"/><path d="M62.0 365.1L70.0 359.2L83.7 352.8L75.8 358.7Z"/><path d="M75.8 358.7L83.7 352.8L97.5 355.3L89.6 361.2Z"/><path d="M89.6 361.2L97.5 355.3L111.3 358.7L103.4 364.6Z"/><path d="M103.4 364.6L111.3 358.7L125.1 364.3L117.1 370.2Z"/><path d="M117.1 370.2L125.1 364.3L138.9 364.6L130.9 370.5Z"/><path d="M130.9 370.5L138.9 364.6L152.6 304.5L144.7 310.4Z"/><path d="M144.7 310.4L152.6 304.5L166.4 288.5L158.5 294.4Z"/><path d="M158.5 294.4L166.4 288.5L180.2 287.1L172.3 293.0Z"/><path d="M172.3 293.0L180.2 287.1L194.0 291.9L186.0 297.8Z"/><path d="M186.0 297.8L194.0 291.9L207.8 310.6L199.8 316.5Z"/><path d="M199.8 316.5L207.8 310.6L221.5 289.9L213.6 295.8Z"/><path d="M213.6 295.8L221.5 289.9L235.3 288.7L227.4 294.6Z"/><path d="M227.4 294.6L235.3 288.7L249.1 287.0L241.2 292.9Z"/><path d="M241.2 292.9L249.1 287.0L262.9 284.5L254.9 290.4Z"/></g>
<text x="205.0" y="227.5" class="ti" text-anchor="middle">Excerpt 3: Queen</text>
<text x="99.8" y="400.5" class="xl" text-anchor="middle">Time (s)</text>
<line x1="401.0" y1="366.5" x2="615.5" y2="385.3" class="ax"/>
<line x1="615.5" y1="385.3" x2="681.8" y2="330.0" class="ax"/>
<line x1="401.0" y1="366.5" x2="403.7" y2="287.1" class="ax"/>
<line x1="401.0" y1="366.5" x2="400.8" y2="371.5" class="ax"/>
<text x="398.4" y="378.8" class="tk" text-anchor="middle">0</text>
<line x1="443.9" y1="370.3" x2="443.7" y2="375.3" class="ax"/>
<text x="441.3" y="382.6" class="tk" text-anchor="middle">5</text>
<line x1="486.8" y1="374.0" x2="486.6" y2="379.0" class="ax"/>
<text x="484.2" y="386.3" class="tk" text-anchor="middle">10</text>
<line x1="529.7" y1="377.8" x2="529.5" y2="382.8" class="ax"/>
<text x="527.1" y="390.1" class="tk" text-anchor="middle">15</text>
<line x1="572.6" y1="381.5" x2="572.4" y2="386.5" class="ax"/>
<text x="570.0" y="393.8" class="tk" text-anchor="middle">20</text>
<line x1="615.5" y1="385.3" x2="615.3" y2="390.3" class="ax"/>
<text x="612.9" y="397.6" class="tk" text-anchor="middle">25</text>
<line x1="681.8" y1="330.0" x2="681.8" y2="335.0" class="ax"/>
<text x="679.4" y="341.7" class="tk" text-anchor="middle">0</text>
<line x1="670.7" y1="339.2" x2="670.7" y2="344.2" class="ax"/>
<text x="668.3" y="350.9" class="tk" text-anchor="middle">1</text>
<line x1="659.7" y1="348.4" x2="659.7" y2="353.4" class="ax"/>
<text x="657.3" y="360.1" class="tk" text-anchor="middle">2</text>
<line x1="648.6" y1="357.6" x2="648.6" y2="362.6" class="ax"/>
<text x="646.2" y="369.3" class="tk" text-anchor="middle">3</text>
<line x1="637.6" y1="366.8" x2="637.6" y2="371.8" class="ax"/>
<text x="635.2" y="378.5" class="tk" text-anchor="middle">4</text>
<line x1="626.5" y1="376.1" x2="626.5" y2="381.1" class="ax"/>
<text x="624.1" y="387.8" class="tk" text-anchor="middle">5</text>
<line x1="615.5" y1="385.3" x2="615.5" y2="390.3" class="ax"/>
<text x="612.5" y="398.0" class="tk" text-anchor="middle">6</text>
<line x1="395.4" y1="366.5" x2="401.0" y2="366.5" class="ax"/>
<text x="394.2" y="368.3" class="tk" text-anchor="end">0</text>
<line x1="395.9" y1="350.6" x2="401.6" y2="350.6" class="ax"/>
<text x="394.8" y="352.4" class="tk" text-anchor="end">0.2</text>
<line x1="396.5" y1="334.8" x2="402.1" y2="334.8" class="ax"/>
<text x="395.3" y="336.6" class="tk" text-anchor="end">0.4</text>
<line x1="397.0" y1="318.9" x2="402.6" y2="318.9" class="ax"/>
<text x="395.8" y="320.7" class="tk" text-anchor="end">0.6</text>
<line x1="397.6" y1="303.0" x2="403.2" y2="303.0" class="ax"/>
<text x="396.4" y="304.8" class="tk" text-anchor="end">0.8</text>
<line x1="398.1" y1="287.1" x2="403.7" y2="287.1" class="ax"/>
<text x="396.9" y="288.9" class="tk" text-anchor="end">1</text>
<path class="g" d="M469 231.5h1m-1 2h1m-1 2h1m-1 2h1m-1 2h1m-1 2h1m-1 2h1m-1 2h1m-1 2h1m-1 2h1m-1 2h1m-1 2h1m-1 2h1m-1 2h1m-1 2h1m-2 2h1m-1 2h1m-1 2h1m-1 2h1m-1 2h1m-1 2h1m-1 2h1m-1 2h1m-1 2h1m-1 2h1m-1 2h1m-1 2h1m-1 2h1m-1 2h1m-2 2h1m-1 2h1m-1 2h1m-1 2h1m-1 2h1m-1 2h1m-1 2h1m-1 2h1m-1 2h1m-1 2h1m-1 2h1m44 -74h1m-1 2h1m-1 2h1m-1 2h1m-1 2h1m-1 2h1m-1 2h1m-1 2h1m-1 2h1m-1 2h1m-1 2h1m-1 2h1m-1 2h1m-2 2h1m-1 2h1m-1 2h1m-1 2h1m-1 2h1m-1 2h1m-1 2h1m-1 2h1m-1 2h1m-1 2h1m-1 2h1m-1 2h1m-1 2h1m-1 2h1m-1 2h1m-2 2h1m-1 2h1m-1 2h1m-1 2h1m-1 2h1m-1 2h1m-1 2h1m-1 2h1m-1 2h1m-1 2h1m-1 2h1m-1 2h1m-68 57h1m1 -2h1m1 -1h1m1 -2h1m1 -2h1m1 -1h1m1 -2h1m1 -2h1m1 -1h1m1 -2h1m1 -2h1m1 -1h1m1 -2h1m1 -2h1m1 -1h1m1 -2h1m1 -2h1m1 -1h1m1 -2h1m1 -2h1m1 -1h1m1 -2h1m1 -2h1m1 -1h1m1 -2h1m1 -2h1m1 -1h1m1 -2h1m1 -2h1m1 -1h1m1 -2h1m1 -2h1m1 -1h1m1 -2h1m45 -76h1m-1 2h1m-1 2h1m-1 2h1m-1 2h1m-1 2h1m-1 2h1m-1 2h1m-1 2h1m-1 2h1m-1 2h1m-2 2h1m-1 2h1m-1 2h1m-1 2h1m-1 2h1m-1 2h1m-1 2h1m-1 2h1m-1 2h1m-1 2h1m-1 2h1m-1 2h1m-1 2h1m-1 2h1m-1 2h1m-2 2h1m-1 2h1m-1 2h1m-1 2h1m-1 2h1m-1 2h1m-1 2h1m-1 2h1m-1 2h1m-1 2h1m-1 2h1m-1 2h1m-1 2h1m-1 2h1m-68 57h1m1 -2h1m1 -2h1m1 -1h1m1 -2h1m1 -2h1m1 -1h1m1 -2h1m1 -2h1m1 -1h1m1 -2h1m1 -2h1m1 -1h1m1 -2h1m1 -2h1m1 -1h1m1 -2h1m1 -2h1m1 -1h1m1 -2h1m1 -2h1m1 -1h1m1 -2h1m1 -2h1m1 -1h1m1 -2h1m1 -2h1m1 -1h1m1 -2h1m1 -2h1m1 -1h1m1 -2h1m1 -2h1m1 -1h1m45 -76h1m-1 2h1m-1 2h1m-1 2h1m-1 2h1m-1 2h1m-1 2h1m-1 2h1m-1 2h1m-1 2h1m-2 2h1m-1 2h1m-1 2h1m-1 2h1m-1 2h1m-1 2h1m-1 2h1m-1 2h1m-1 2h1m-1 2h1m-1 2h1m-1 2h1m-1 2h1m-1 2h1m-1 2h1m-2 2h1m-1 2h1m-1 2h1m-1 2h1m-1 2h1m-1 2h1m-1 2h1m-1 2h1m-1 2h1m-1 2h1m-1 2h1m-1 2h1m-1 2h1m-1 2h1m-2 2h1m-67 56h1m1 -1h1m1 -2h1m1 -2h1m1 -1h1m1 -2h1m1 -2h1m1 -1h1m1 -2h1m1 -2h1m1 -1h1m1 -2h1m1 -2h1m1 -1h1m1 -2h1m1 -2h1m1 -1h1m1 -2h1m1 -2h1m1 -1h1m1 -2h1m1 -2h1m1 -1h1m1 -2h1m1 -2h1m1 -1h1m1 -2h1m1 -2h1m1 -1h1m1 -2h1m1 -2h1m1 -1h1m1 -2h1m1 -2h1m45 -76h1m-1 2h1m-1 2h1m-1 2h1m-1 2h1m-1 2h1m-1 2h1m-1 2h1m-1 2h1m-2 2h1m-1 2h1m-1 2h1m-1 2h1m-1 2h1m-1 2h1m-1 2h1m-1 2h1m-1 2h1m-1 2h1m-1 2h1m-1 2h1m-1 2h1m-1 2h1m-2 2h1m-1 2h1m-1 2h1m-1 2h1m-1 2h1m-1 2h1m-1 2h1m-1 2h1m-1 2h1m-1 2h1m-1 2h1m-1 2h1m-1 2h1m-1 2h1m-1 2h1m-2 2h1m-1 2h1m-67 57h1m1 -2h1m1 -1h1m1 -2h1m1 -2h1m1 -1h1m1 -2h1m1 -2h1m1 -1h1m1 -2h1m1 -2h1m1 -1h1m1 -2h1m1 -2h1m1 -1h1m1 -2h1m1 -2h1m1 -1h1m1 -2h1m1 -2h1m1 -1h1m1 -2h1m1 -2h1m1 -1h1m1 -2h1m1 -2h1m1 -1h1m1 -2h1m1 -2h1m1 -1h1m1 -2h1m1 -2h1m1 -1h1m1 -2h1m45 -76h1m-1 2h1m-1 2h1m-1 2h1m-1 2h1m-1 2h1m-1 2h1m-2 2h1m-1 2h1m-1 2h1m-1 2h1m-1 2h1m-1 2h1m-1 2h1m-1 2h1m-1 2h1m-1 2h1m-1 2h1m-1 2h1m-1 2h1m-1 2h1m-1 2h1m-2 2h1m-1 2h1m-1 2h1m-1 2h1m-1 2h1m-1 2h1m-1 2h1m-1 2h1m-1 2h1m-1 2h1m-1 2h1m-1 2h1m-1 2h1m-1 2h1m-1 2h1m-2 2h1m-1 2h1m-1 2h1m-215 -17h1m1 0h1m1 0h1m1 0h1m1 0h1m1 1h1m1 0h1m1 0h1m1 0h1m1 0h1m1 1h1m1 0h1m1 0h1m1 0h1m1 0h1m1 0h1m1 1h1m1 0h1m1 0h1m1 0h1m1 0h1m1 0h1m1 1h1m1 0h1m1 0h1m1 0h1m1 0h1m1 0h1m1 1h1m1 0h1m1 0h1m1 0h1m1 0h1m1 1h1m1 0h1m1 0h1m1 0h1m1 0h1m1 0h1m1 1h1m1 0h1m1 0h1m1 0h1m1 0h1m1 0h1m1 1h1m1 0h1m1 0h1m1 0h1m1 0h1m1 1h1m1 0h1m1 0h1m1 0h1m1 0h1m1 0h1m1 1h1m1 0h1m1 0h1m1 0h1m1 0h1m1 0h1m1 1h1m1 0h1m1 0h1m1 0h1m1 0h1m1 0h1m1 1h1m1 0h1m1 0h1m1 0h1m1 0h1m1 1h1m1 0h1m1 0h1m1 0h1m1 0h1m1 0h1m1 1h1m1 0h1m1 0h1m1 0h1m1 0h1m1 0h1m1 1h1m1 0h1m1 0h1m1 0h1m1 0h1m1 1h1m1 0h1m1 0h1m1 0h1m1 0h1m1 0h1m1 1h1m1 0h1m1 0h1m1 0h1m1 0h1m1 0h1m1 1h1m1 0h1m1 0h1m1 0h1m1 0h1m1 0h1m-281 37h1m1 -2h1m1 -2h1m1 -1h1m1 -2h1m1 -2h1m1 -1h1m1 -2h1m1 -2h1m1 -1h1m1 -2h1m1 -2h1m1 -1h1m1 -2h1m1 -2h1m1 -1h1m1 -2h1m1 -2h1m1 -1h1m1 -2h1m1 -2h1m1 -1h1m1 -2h1m1 -2h1m1 -1h1m1 -2h1m1 -2h1m1 -1h1m1 -2h1m1 -2h1m1 -1h1m1 -2h1m1 -2h1m1 -17h1m1 0h1m1 0h1m1 0h1m1 1h1m1 0h1m1 0h1m1 0h1m1 0h1m1 0h1m1 1h1m1 0h1m1 0h1m1 0h1m1 0h1m1 0h1m1 1h1m1 0h1m1 0h1m1 0h1m1 0h1m1 1h1m1 0h1m1 0h1m1 0h1m1 0h1m1 0h1m1 1h1m1 0h1m1 0h1m1 0h1m1 0h1m1 0h1m1 1h1m1 0h1m1 0h1m1 0h1m1 0h1m1 0h1m1 1h1m1 0h1m1 0h1m1 0h1m1 0h1m1 1h1m1 0h1m1 0h1m1 0h1m1 0h1m1 0h1m1 1h1m1 0h1m1 0h1m1 0h1m1 0h1m1 0h1m1 1h1m1 0h1m1 0h1m1 0h1m1 0h1m1 1h1m1 0h1m1 0h1m1 0h1m1 0h1m1 0h1m1 1h1m1 0h1m1 0h1m1 0h1m1 0h1m1 0h1m1 1h1m1 0h1m1 0h1m1 0h1m1 0h1m1 0h1m1 1h1m1 0h1m1 0h1m1 0h1m1 0h1m1 1h1m1 0h1m1 0h1m1 0h1m1 0h1m1 0h1m1 1h1m1 0h1m1 0h1m1 0h1m1 0h1m1 0h1m1 1h1m1 0h1m1 0h1m1 0h1m1 0h1m1 1h1m1 0h1m1 0h1m1 0h1m1 0h1m1 0h1m1 1h1m-281 36h1m1 -1h1m1 -2h1m1 -2h1m1 -2h1m1 -1h1m1 -2h1m1 -2h1m1 -1h1m1 -2h1m1 -2h1m1 -1h1m1 -2h1m1 -2h1m1 -1h1m1 -2h1m1 -2h1m1 -1h1m1 -2h1m1 -2h1m1 -1h1m1 -2h1m1 -2h1m1 -1h1m1 -2h1m1 -2h1m1 -1h1m1 -2h1m1 -2h1m1 -1h1m1 -2h1m1 -2h1m1 -1h1m1 -2h1m0 -16h1m1 0h1m1 0h1m1 1h1m1 0h1m1 0h1m1 0h1m1 0h1m1 0h1m1 1h1m1 0h1m1 0h1m1 0h1m1 0h1m1 0h1m1 1h1m1 0h1m1 0h1m1 0h1m1 0h1m1 1h1m1 0h1m1 0h1m1 0h1m1 0h1m1 0h1m1 1h1m1 0h1m1 0h1m1 0h1m1 0h1m1 0h1m1 1h1m1 0h1m1 0h1m1 0h1m1 0h1m1 0h1m1 1h1m1 0h1m1 0h1m1 0h1m1 0h1m1 1h1m1 0h1m1 0h1m1 0h1m1 0h1m1 0h1m1 1h1m1 0h1m1 0h1m1 0h1m1 0h1m1 0h1m1 1h1m1 0h1m1 0h1m1 0h1m1 0h1m1 0h1m1 1h1m1 0h1m1 0h1m1 0h1m1 0h1m1 1h1m1 0h1m1 0h1m1 0h1m1 0h1m1 0h1m1 1h1m1 0h1m1 0h1m1 0h1m1 0h1m1 0h1m1 1h1m1 0h1m1 0h1m1 0h1m1 0h1m1 1h1m1 0h1m1 0h1m1 0h1m1 0h1m1 0h1m1 1h1m1 0h1m1 0h1m1 0h1m1 0h1m1 0h1m1 1h1m1 0h1m1 0h1m1 0h1m1 0h1m1 0h1m1 1h1m1 0h1m1 0h1m1 0h1m1 0h1m1 1h1m1 0h1m-281 36h1m1 -2h1m1 -1h1m1 -2h1m1 -2h1m1 -1h1m1 -2h1m1 -2h1m1 -1h1m1 -2h1m1 -2h1m1 -1h1m1 -2h1m1 -2h1m1 -1h1m1 -2h1m1 -2h1m1 -1h1m1 -2h1m1 -2h1m1 -1h1m1 -2h1m1 -2h1m1 -1h1m1 -2h1m1 -2h1m1 -1h1m1 -2h1m1 -2h1m1 -1h1m1 -2h1m1 -2h1m1 -1h1m1 -18h1m1 0h1m1 0h1m1 1h1m1 0h1m1 0h1m1 0h1m1 0h1m1 0h1m1 1h1m1 0h1m1 0h1m1 0h1m1 0h1m1 1h1m1 0h1m1 0h1m1 0h1m1 0h1m1 0h1m1 1h1m1 0h1m1 0h1m1 0h1m1 0h1m1 0h1m1 1h1m1 0h1m1 0h1m1 0h1m1 0h1m1 0h1m1 1h1m1 0h1m1 0h1m1 0h1m1 0h1m1 1h1m1 0h1m1 0h1m1 0h1m1 0h1m1 0h1m1 1h1m1 0h1m1 0h1m1 0h1m1 0h1m1 0h1m1 1h1m1 0h1m1 0h1m1 0h1m1 0h1m1 1h1m1 0h1m1 0h1m1 0h1m1 0h1m1 0h1m1 1h1m1 0h1m1 0h1m1 0h1m1 0h1m1 0h1m1 1h1m1 0h1m1 0h1m1 0h1m1 0h1m1 0h1m1 1h1m1 0h1m1 0h1m1 0h1m1 0h1m1 1h1m1 0h1m1 0h1m1 0h1m1 0h1m1 0h1m1 1h1m1 0h1m1 0h1m1 0h1m1 0h1m1 0h1m1 1h1m1 0h1m1 0h1m1 0h1m1 0h1m1 1h1m1 0h1m1 0h1m1 0h1m1 0h1m1 0h1m1 1h1m1 0h1m1 0h1m1 0h1m1 0h1m1 0h1m1 1h1m1 0h1m-281 36h1m1 -1h1m1 -2h1m1 -2h1m1 -1h1m1 -2h1m1 -2h1m1 -1h1m1 -2h1m1 -2h1m1 -1h1m1 -2h1m1 -2h1m1 -1h1m1 -2h1m1 -2h1m1 -1h1m1 -2h1m1 -2h1m1 -1h1m1 -2h1m1 -2h1m1 -1h1m1 -2h1m1 -2h1m1 -1h1m1 -2h1m1 -2h1m1 -1h1m1 -2h1m1 -2h1m1 -1h1m1 -2h1m1 -2h1m0 -16h1m1 0h1m1 1h1m1 0h1m1 0h1m1 0h1m1 0h1m1 0h1m1 1h1m1 0h1m1 0h1m1 0h1m1 0h1m1 1h1m1 0h1m1 0h1m1 0h1m1 0h1m1 0h1m1 1h1m1 0h1m1 0h1m1 0h1m1 0h1m1 0h1m1 1h1m1 0h1m1 0h1m1 0h1m1 0h1m1 0h1m1 1h1m1 0h1m1 0h1m1 0h1m1 0h1m1 1h1m1 0h1m1 0h1m1 0h1m1 0h1m1 0h1m1 1h1m1 0h1m1 0h1m1 0h1m1 0h1m1 0h1m1 1h1m1 0h1m1 0h1m1 0h1m1 0h1m1 1h1m1 0h1m1 0h1m1 0h1m1 0h1m1 0h1m1 1h1m1 0h1m1 0h1m1 0h1m1 0h1m1 0h1m1 1h1m1 0h1m1 0h1m1 0h1m1 0h1m1 0h1m1 1h1m1 0h1m1 0h1m1 0h1m1 0h1m1 1h1m1 0h1m1 0h1m1 0h1m1 0h1m1 0h1m1 1h1m1 0h1m1 0h1m1 0h1m1 0h1m1 0h1m1 1h1m1 0h1m1 0h1m1 0h1m1 0h1m1 0h1m1 1h1m1 0h1m1 0h1m1 0h1m1 0h1m1 1h1m1 0h1m1 0h1m1 0h1m1 0h1m1 0h1m1 1h1m1 0h1m1 0h1m-281 36h1m1 -1h1m1 -2h1m1 -2h1m1 -1h1m1 -2h1m1 -2h1m1 -1h1m1 -2h1m1 -2h1m1 -1h1m1 -2h1m1 -2h1m1 -1h1m1 -2h1m1 -2h1m1 -1h1m1 -2h1m1 -2h1m1 -1h1m1 -2h1m1 -2h1m1 -1h1m1 -2h1m1 -2h1m1 -1h1m1 -2h1m1 -2h1m1 -2h1m1 -1h1m1 -2h1m1 -2h1m1 -1h1m1 -18h1m1 0h1m1 1h1m1 0h1m1 0h1m1 0h1m1 0h1m1 1h1m1 0h1m1 0h1m1 0h1m1 0h1m1 0h1m1 1h1m1 0h1m1 0h1m1 0h1m1 0h1m1 0h1m1 1h1m1 0h1m1 0h1m1 0h1m1 0h1m1 1h1m1 0h1m1 0h1m1 0h1m1 0h1m1 0h1m1 1h1m1 0h1m1 0h1m1 0h1m1 0h1m1 0h1m1 1h1m1 0h1m1 0h1m1 0h1m1 0h1m1 0h1m1 1h1m1 0h1m1 0h1m1 0h1m1 0h1m1 1h1m1 0h1m1 0h1m1 0h1m1 0h1m1 0h1m1 1h1m1 0h1m1 0h1m1 0h1m1 0h1m1 0h1m1 1h1m1 0h1m1 0h1m1 0h1m1 0h1m1 0h1m1 1h1m1 0h1m1 0h1m1 0h1m1 0h1m1 1h1m1 0h1m1 0h1m1 0h1m1 0h1m1 0h1m1 1h1m1 0h1m1 0h1m1 0h1m1 0h1m1 0h1m1 1h1m1 0h1m1 0h1m1 0h1m1 0h1m1 1h1m1 0h1m1 0h1m1 0h1m1 0h1m1 0h1m1 1h1m1 0h1m1 0h1m1 0h1m1 0h1m1 0h1m1 1h1m1 0h1m1 0h1m1 0h1m1 0h1m1 0h1m1 1h1m1 0h1m1 0h1m-281 37h1m1 -2h1m1 -2h1m1 -1h1m1 -2h1m1 -2h1m1 -1h1m1 -2h1m1 -2h1m1 -1h1m1 -2h1m1 -2h1m1 -1h1m1 -2h1m1 -2h1m1 -1h1m1 -2h1m1 -2h1m1 -1h1m1 -2h1m1 -2h1m1 -1h1m1 -2h1m1 -2h1m1 -1h1m1 -2h1m1 -2h1m1 -1h1m1 -2h1m1 -2h1m1 -1h1m1 -2h1m1 -2h1m1 -1h1m-12 9h1m-1 2h1m-1 2h1m-1 2h1m-1 2h1m-1 2h1m-1 2h1m-1 2h1m-1 2h1m-1 2h1m-1 2h1m-1 2h1m-1 2h1m-1 2h1m-2 2h1m-1 2h1m-1 2h1m-1 2h1m-1 2h1m-1 2h1m-1 2h1m-1 2h1m-1 2h1m-1 2h1m-1 2h1m-1 2h1m-1 2h1m-1 2h1m-2 2h1m-1 2h1m-1 2h1m-1 2h1m-1 2h1m-1 2h1m-1 2h1m-1 2h1m-1 2h1m-1 2h1m-1 2h1m-1 2h1m-1 1h1m1 0h1m1 0h1m1 1h1m1 0h1m1 0h1m1 0h1m1 0h1m1 0h1m1 1h1m1 0h1m1 0h1m1 0h1m1 0h1m1 0h1m1 1h1m1 0h1m1 0h1m1 0h1m1 0h1m1 0h1m1 1h1m1 0h1m1 0h1m1 0h1m1 0h1m1 1h1m1 0h1m1 0h1m1 0h1m1 0h1m1 0h1m1 1h1m1 0h1m1 0h1m1 0h1m1 0h1m1 0h1m1 1h1m1 0h1m1 0h1m1 0h1m1 0h1m1 1h1m1 0h1m1 0h1m1 0h1m1 0h1m1 0h1m1 1h1m1 0h1m1 0h1m1 0h1m1 0h1m1 0h1m1 1h1m1 0h1m1 0h1m1 0h1m1 0h1m1 0h1m1 1h1m1 0h1m1 0h1m1 0h1m1 0h1m1 1h1m1 0h1m1 0h1m1 0h1m1 0h1m1 0h1m1 1h1m1 0h1m1 0h1m1 0h1m1 0h1m1 0h1m1 1h1m1 0h1m1 0h1m1 0h1m1 0h1m1 0h1m1 1h1m1 0h1m1 0h1m1 0h1m1 0h1m1 1h1m1 0h1m1 0h1m1 0h1m1 0h1m1 0h1m1 1h1m1 0h1m1 0h1m1 0h1m1 0h1m1 0h1m1 1h1m1 0h1m1 0h1m1 0h1m1 0h1m1 1h1m1 0h1m-224 -89h1m-1 2h1m-1 2h1m-1 2h1m-1 2h1m-1 2h1m-1 2h1m-1 2h1m-1 2h1m-1 2h1m-1 2h1m-1 2h1m-1 2h1m-2 2h1m-1 2h1m-1 2h1m-1 2h1m-1 2h1m-1 2h1m-1 2h1m-1 2h1m-1 2h1m-1 2h1m-1 2h1m-1 2h1m-1 2h1m-1 2h1m-1 2h1m-2 2h1m-1 2h1m-1 2h1m-1 2h1m-1 2h1m-1 2h1m-1 2h1m-1 2h1m-1 2h1m-1 2h1m-1 2h1m-1 2h1m-1 1h1m1 0h1m1 1h1m1 0h1m1 0h1m1 0h1m1 0h1m1 0h1m1 1h1m1 0h1m1 0h1m1 0h1m1 0h1m1 0h1m1 1h1m1 0h1m1 0h1m1 0h1m1 0h1m1 1h1m1 0h1m1 0h1m1 0h1m1 0h1m1 0h1m1 1h1m1 0h1m1 0h1m1 0h1m1 0h1m1 0h1m1 1h1m1 0h1m1 0h1m1 0h1m1 0h1m1 0h1m1 1h1m1 0h1m1 0h1m1 0h1m1 0h1m1 1h1m1 0h1m1 0h1m1 0h1m1 0h1m1 0h1m1 1h1m1 0h1m1 0h1m1 0h1m1 0h1m1 0h1m1 1h1m1 0h1m1 0h1m1 0h1m1 0h1m1 1h1m1 0h1m1 0h1m1 0h1m1 0h1m1 0h1m1 1h1m1 0h1m1 0h1m1 0h1m1 0h1m1 0h1m1 1h1m1 0h1m1 0h1m1 0h1m1 0h1m1 0h1m1 1h1m1 0h1m1 0h1m1 0h1m1 0h1m1 1h1m1 0h1m1 0h1m1 0h1m1 0h1m1 0h1m1 1h1m1 0h1m1 0h1m1 0h1m1 0h1m1 0h1m1 1h1m1 0h1m1 0h1m1 0h1m1 0h1m1 1h1m1 0h1m1 0h1m1 0h1m1 0h1m1 0h1m1 1h1m1 0h1m1 0h1m-224 -89h1m-1 2h1m-1 2h1m-1 2h1m-1 2h1m-1 2h1m-1 2h1m-1 2h1m-1 2h1m-1 2h1m-1 2h1m-1 2h1m-1 2h1m-2 2h1m-1 2h1m-1 2h1m-1 2h1m-1 2h1m-1 2h1m-1 2h1m-1 2h1m-1 2h1m-1 2h1m-1 2h1m-1 2h1m-1 2h1m-1 2h1m-2 2h1m-1 2h1m-1 2h1m-1 2h1m-1 2h1m-1 2h1m-1 2h1m-1 2h1m-1 2h1m-1 2h1m-1 2h1m-1 2h1m-1 2h1m-1 1h1m1 1h1m1 0h1m1 0h1m1 0h1m1 0h1m1 0h1m1 1h1m1 0h1m1 0h1m1 0h1m1 0h1m1 1h1m1 0h1m1 0h1m1 0h1m1 0h1m1 0h1m1 1h1m1 0h1m1 0h1m1 0h1m1 0h1m1 0h1m1 1h1m1 0h1m1 0h1m1 0h1m1 0h1m1 0h1m1 1h1m1 0h1m1 0h1m1 0h1m1 0h1m1 1h1m1 0h1m1 0h1m1 0h1m1 0h1m1 0h1m1 1h1m1 0h1m1 0h1m1 0h1m1 0h1m1 0h1m1 1h1m1 0h1m1 0h1m1 0h1m1 0h1m1 1h1m1 0h1m1 0h1m1 0h1m1 0h1m1 0h1m1 1h1m1 0h1m1 0h1m1 0h1m1 0h1m1 0h1m1 1h1m1 0h1m1 0h1m1 0h1m1 0h1m1 0h1m1 1h1m1 0h1m1 0h1m1 0h1m1 0h1m1 1h1m1 0h1m1 0h1m1 0h1m1 0h1m1 0h1m1 1h1m1 0h1m1 0h1m1 0h1m1 0h1m1 0h1m1 1h1m1 0h1m1 0h1m1 0h1m1 0h1m1 0h1m1 1h1m1 0h1m1 0h1m1 0h1m1 0h1m1 1h1m1 0h1m1 0h1m1 0h1m1 0h1m1 0h1m1 1h1m1 0h1m1 0h1m1 0h1m-224 -89h1m-1 2h1m-1 2h1m-1 2h1m-1 2h1m-1 2h1m-1 2h1m-1 2h1m-1 2h1m-1 2h1m-1 2h1m-1 2h1m-2 2h1m-1 2h1m-1 2h1m-1 2h1m-1 2h1m-1 2h1m-1 2h1m-1 2h1m-1 2h1m-1 2h1m-1 2h1m-1 2h1m-1 2h1m-1 2h1m-1 2h1m-2 2h1m-1 2h1m-1 2h1m-1 2h1m-1 2h1m-1 2h1m-1 2h1m-1 2h1m-1 2h1m-1 2h1m-1 2h1m-1 2h1m-1 2h1m-1 2h1m1 0h1m1 0h1m1 0h1m1 0h1m1 0h1m1 1h1m1 0h1m1 0h1m1 0h1m1 0h1m1 1h1m1 0h1m1 0h1m1 0h1m1 0h1m1 0h1m1 1h1m1 0h1m1 0h1m1 0h1m1 0h1m1 0h1m1 1h1m1 0h1m1 0h1m1 0h1m1 0h1m1 1h1m1 0h1m1 0h1m1 0h1m1 0h1m1 0h1m1 1h1m1 0h1m1 0h1m1 0h1m1 0h1m1 0h1m1 1h1m1 0h1m1 0h1m1 0h1m1 0h1m1 0h1m1 1h1m1 0h1m1 0h1m1 0h1m1 0h1m1 1h1m1 0h1m1 0h1m1 0h1m1 0h1m1 0h1m1 1h1m1 0h1m1 0h1m1 0h1m1 0h1m1 0h1m1 1h1m1 0h1m1 0h1m1 0h1m1 0h1m1 1h1m1 0h1m1 0h1m1 0h1m1 0h1m1 0h1m1 1h1m1 0h1m1 0h1m1 0h1m1 0h1m1 0h1m1 1h1m1 0h1m1 0h1m1 0h1m1 0h1m1 0h1m1 1h1m1 0h1m1 0h1m1 0h1m1 0h1m1 1h1m1 0h1m1 0h1m1 0h1m1 0h1m1 0h1m1 1h1m1 0h1m1 0h1m1 0h1m1 0h1m1 0h1m1 1h1m1 0h1m1 0h1m1 0h1m1 0h1m-224 -89h1m-1 2h1m-1 2h1m-1 2h1m-1 2h1m-1 2h1m-1 2h1m-1 2h1m-1 2h1m-1 2h1m-1 2h1m-1 2h1m-2 2h1m-1 2h1m-1 2h1m-1 2h1m-1 2h1m-1 2h1m-1 2h1m-1 2h1m-1 2h1m-1 2h1m-1 2h1m-1 2h1m-1 2h1m-1 2h1m-2 2h1m-1 2h1m-1 2h1m-1 2h1m-1 2h1m-1 2h1m-1 2h1m-1 2h1m-1 2h1m-1 2h1m-1 2h1m-1 2h1m-1 2h1m-1 2h1m-1 2h1m1 0h1m1 0h1m1 0h1m1 1h1m1 0h1m1 0h1m1 0h1m1 0h1m1 0h1m1 1h1m1 0h1m1 0h1m1 0h1m1 0h1m1 0h1m1 1h1m1 0h1m1 0h1m1 0h1m1 0h1m1 1h1m1 0h1m1 0h1m1 0h1m1 0h1m1 0h1m1 1h1m1 0h1m1 0h1m1 0h1m1 0h1m1 0h1m1 1h1m1 0h1m1 0h1m1 0h1m1 0h1m1 0h1m1 1h1m1 0h1m1 0h1m1 0h1m1 0h1m1 1h1m1 0h1m1 0h1m1 0h1m1 0h1m1 0h1m1 1h1m1 0h1m1 0h1m1 0h1m1 0h1m1 0h1m1 1h1m1 0h1m1 0h1m1 0h1m1 0h1m1 1h1m1 0h1m1 0h1m1 0h1m1 0h1m1 0h1m1 1h1m1 0h1m1 0h1m1 0h1m1 0h1m1 0h1m1 1h1m1 0h1m1 0h1m1 0h1m1 0h1m1 0h1m1 1h1m1 0h1m1 0h1m1 0h1m1 0h1m1 1h1m1 0h1m1 0h1m1 0h1m1 0h1m1 0h1m1 1h1m1 0h1m1 0h1m1 0h1m1 0h1m1 0h1m1 1h1m1 0h1m1 0h1m1 0h1m1 0h1m1 0h1m1 1h1m1 0h1m1 0h1m1 0h1m1 0h1m1 1h1"/>
<g fill="#00008f" class="rb"><path d="M458.6 269.9L466.8 262.9L471.1 263.1L462.9 270.0Z"/><path d="M462.9 270.0L471.1 263.1L475.4 263.5L467.1 270.4Z"/><path d="M467.1 270.4L475.4 263.5L479.7 263.0L471.5 269.9Z"/><path d="M471.5 269.9L479.7 263.0L484.1 262.3L475.8 269.2Z"/><path d="M475.8 269.2L484.1 262.3L488.4 261.9L480.1 268.8Z"/><path d="M480.1 268.8L488.4 261.9L492.6 264.8L484.3 271.7Z"/><path d="M484.3 271.7L492.6 264.8L496.8 266.6L488.5 273.5Z"/><path d="M488.5 273.5L496.8 266.6L501.2 265.8L492.9 272.7Z"/><path d="M492.9 272.7L501.2 265.8L505.5 264.8L497.2 271.7Z"/><path d="M497.2 271.7L505.5 264.8L509.8 264.2L501.5 271.1Z"/><path d="M501.5 271.1L509.8 264.2L514.1 264.0L505.9 270.9Z"/><path d="M505.9 270.9L514.1 264.0L518.3 267.3L510.0 274.2Z"/><path d="M510.0 274.2L518.3 267.3L522.6 267.0L514.4 273.9Z"/><path d="M514.4 273.9L522.6 267.0L527.0 266.4L518.7 273.4Z"/><path d="M518.7 273.4L527.0 266.4L531.3 266.1L523.0 273.0Z"/><path d="M523.0 273.0L531.3 266.1L535.5 267.9L527.2 274.8Z"/><path d="M527.2 274.8L535.5 267.9L539.8 269.1L531.5 276.0Z"/><path d="M531.5 276.0L539.8 269.1L544.0 270.0L535.8 276.9Z"/><path d="M535.8 276.9L544.0 270.0L548.4 268.6L540.1 275.5Z"/><path d="M540.1 275.5L548.4 268.6L552.7 267.5L544.5 274.5Z"/><path d="M544.5 274.5L552.7 267.5L557.0 267.3L548.8 274.2Z"/><path d="M548.8 274.2L557.0 267.3L561.3 269.8L553.0 276.7Z"/><path d="M553.0 276.7L561.3 269.8L565.5 271.1L557.2 278.0Z"/><path d="M557.2 278.0L565.5 271.1L569.8 270.6L561.6 277.5Z"/><path d="M561.6 277.5L569.8 270.6L574.1 271.0L565.8 277.9Z"/><path d="M565.8 277.9L574.1 271.0L578.4 271.0L570.2 277.9Z"/><path d="M570.2 277.9L578.4 271.0L582.6 273.5L574.4 280.5Z"/><path d="M574.4 280.5L582.6 273.5L586.9 275.0L578.6 281.9Z"/><path d="M578.6 281.9L586.9 275.0L591.3 273.3L583.0 280.2Z"/><path d="M583.0 280.2L591.3 273.3L595.6 272.0L587.3 279.0Z"/><path d="M587.3 279.0L595.6 272.0L599.9 271.7L591.6 278.6Z"/><path d="M591.6 278.6L599.9 271.7L604.1 274.1L595.9 281.1Z"/><path d="M595.9 281.1L604.1 274.1L608.3 277.5L600.1 284.4Z"/><path d="M600.1 284.4L608.3 277.5L612.7 276.2L604.4 283.2Z"/><path d="M604.4 283.2L612.7 276.2L617.1 274.0L608.8 280.9Z"/><path d="M608.8 280.9L617.1 274.0L621.3 276.3L613.0 283.2Z"/><path d="M613.0 283.2L621.3 276.3L625.6 276.0L617.3 282.9Z"/><path d="M617.3 282.9L625.6 276.0L629.9 277.0L621.6 283.9Z"/><path d="M621.6 283.9L629.9 277.0L634.1 278.0L625.9 284.9Z"/><path d="M625.9 284.9L634.1 278.0L638.4 277.8L630.2 284.7Z"/><path d="M630.2 284.7L638.4 277.8L642.7 279.7L634.4 286.7Z"/></g>
<g fill="#0090ff" class="rb"><path d="M447.6 277.4L455.9 270.4L460.1 271.6L451.8 278.5Z"/><path d="M451.8 278.5L460.1 271.6L464.4 271.6L456.1 278.5Z"/><path d="M456.1 278.5L464.4 271.6L468.7 270.8L460.5 277.7Z"/><path d="M460.5 277.7L468.7 270.8L472.9 274.8L464.6 281.7Z"/><path d="M464.6 281.7L472.9 274.8L477.2 273.9L469.0 280.8Z"/><path d="M469.0 280.8L477.2 273.9L481.6 273.3L473.3 280.2Z"/><path d="M473.3 280.2L481.6 273.3L485.9 273.0L477.6 279.9Z"/><path d="M477.6 279.9L485.9 273.0L490.1 275.4L481.8 282.3Z"/><path d="M481.8 282.3L490.1 275.4L494.4 277.0L486.1 283.9Z"/><path d="M486.1 283.9L494.4 277.0L498.6 277.3L490.4 284.2Z"/><path d="M490.4 284.2L498.6 277.3L502.9 277.5L494.7 284.5Z"/><path d="M494.7 284.5L502.9 277.5L507.3 274.8L499.1 281.7Z"/><path d="M499.1 281.7L507.3 274.8L511.6 276.3L503.3 283.2Z"/><path d="M503.3 283.2L511.6 276.3L515.8 277.9L507.6 284.8Z"/><path d="M507.6 284.8L515.8 277.9L520.1 279.1L511.8 286.0Z"/><path d="M511.8 286.0L520.1 279.1L524.4 278.3L516.1 285.2Z"/><path d="M516.1 285.2L524.4 278.3L528.7 277.9L520.5 284.8Z"/><path d="M520.5 284.8L528.7 277.9L533.0 279.8L524.7 286.7Z"/><path d="M524.7 286.7L533.0 279.8L537.3 279.4L529.0 286.3Z"/><path d="M529.0 286.3L537.3 279.4L541.6 280.4L533.3 287.4Z"/><path d="M533.3 287.4L541.6 280.4L545.8 281.6L537.6 288.5Z"/><path d="M537.6 288.5L545.8 281.6L550.2 280.4L541.9 287.3Z"/><path d="M541.9 287.3L550.2 280.4L554.5 278.6L546.3 285.5Z"/><path d="M546.3 285.5L554.5 278.6L558.8 281.3L550.5 288.2Z"/><path d="M550.5 288.2L558.8 281.3L563.0 284.1L554.7 291.0Z"/><path d="M554.7 291.0L563.0 284.1L567.3 282.5L559.0 289.4Z"/><path d="M559.0 289.4L567.3 282.5L571.6 281.6L563.4 288.6Z"/><path d="M563.4 288.6L571.6 281.6L576.1 278.6L567.8 285.5Z"/><path d="M567.8 285.5L576.1 278.6L580.2 283.5L571.9 290.4Z"/><path d="M571.9 290.4L580.2 283.5L584.5 284.1L576.2 291.0Z"/><path d="M576.2 291.0L584.5 284.1L588.8 284.2L580.5 291.1Z"/><path d="M580.5 291.1L588.8 284.2L593.1 284.8L584.8 291.7Z"/><path d="M584.8 291.7L593.1 284.8L597.5 279.8L589.2 286.8Z"/><path d="M589.2 286.8L597.5 279.8L601.8 281.6L593.5 288.6Z"/><path d="M593.5 288.6L601.8 281.6L605.9 286.5L597.6 293.4Z"/><path d="M597.6 293.4L605.9 286.5L610.3 284.1L602.0 291.1Z"/><path d="M602.0 291.1L610.3 284.1L614.5 285.4L606.3 292.3Z"/><path d="M606.3 292.3L614.5 285.4L618.9 283.5L610.6 290.5Z"/><path d="M610.6 290.5L618.9 283.5L623.1 285.5L614.9 292.4Z"/><path d="M614.9 292.4L623.1 285.5L627.4 286.4L619.1 293.3Z"/></g>
<g fill="#8cff70" class="rb"><path d="M435.0 331.6L443.3 324.7L447.7 322.0L439.4 328.9Z"/><path d="M439.4 328.9L447.7 322.0L451.9 325.3L443.6 332.2Z"/><path d="M443.6 332.2L451.9 325.3L456.1 328.8L447.8 335.7Z"/><path d="M447.8 335.7L456.1 328.8L460.6 322.6L452.3 329.5Z"/><path d="M452.3 329.5L460.6 322.6L464.6 329.4L456.4 336.4Z"/><path d="M456.4 336.4L464.6 329.4L469.1 323.2L460.9 330.1Z"/><path d="M460.9 330.1L469.1 323.2L473.3 326.3L465.1 333.2Z"/><path d="M465.1 333.2L473.3 326.3L477.5 329.5L469.3 336.4Z"/><path d="M469.3 336.4L477.5 329.5L482.0 325.1L473.7 332.0Z"/><path d="M473.7 332.0L482.0 325.1L486.0 333.2L477.7 340.1Z"/><path d="M477.7 340.1L486.0 333.2L490.5 327.7L482.2 334.6Z"/><path d="M482.2 334.6L490.5 327.7L494.7 330.2L486.4 337.1Z"/><path d="M486.4 337.1L494.7 330.2L498.9 332.7L490.7 339.6Z"/><path d="M490.7 339.6L498.9 332.7L503.4 327.1L495.2 334.0Z"/><path d="M495.2 334.0L503.4 327.1L507.7 327.8L499.4 334.7Z"/><path d="M499.4 334.7L507.7 327.8L512.0 327.7L503.7 334.6Z"/><path d="M503.7 334.6L512.0 327.7L516.2 331.2L507.9 338.1Z"/><path d="M507.9 338.1L516.2 331.2L520.4 334.6L512.1 341.5Z"/><path d="M512.1 341.5L520.4 334.6L524.8 331.5L516.5 338.4Z"/><path d="M516.5 338.4L524.8 331.5L529.0 333.3L520.8 340.2Z"/><path d="M520.8 340.2L529.0 333.3L533.4 331.5L525.1 338.4Z"/><path d="M525.1 338.4L533.4 331.5L537.8 330.3L529.5 337.2Z"/><path d="M529.5 337.2L537.8 330.3L541.9 335.2L533.6 342.2Z"/><path d="M533.6 342.2L541.9 335.2L546.3 333.3L538.0 340.2Z"/><path d="M538.0 340.2L546.3 333.3L550.6 332.1L542.3 339.0Z"/><path d="M542.3 339.0L550.6 332.1L554.9 332.7L546.6 339.6Z"/><path d="M546.6 339.6L554.9 332.7L559.1 335.0L550.8 341.9Z"/><path d="M550.8 341.9L559.1 335.0L563.3 337.1L555.1 344.0Z"/><path d="M555.1 344.0L563.3 337.1L567.8 333.2L559.5 340.1Z"/><path d="M559.5 340.1L567.8 333.2L572.1 333.0L563.8 339.9Z"/><path d="M563.8 339.9L572.1 333.0L576.2 337.0L568.0 343.9Z"/><path d="M568.0 343.9L576.2 337.0L580.7 332.7L572.4 339.6Z"/><path d="M572.4 339.6L580.7 332.7L584.7 340.1L576.5 347.0Z"/><path d="M576.5 347.0L584.7 340.1L589.2 337.0L580.9 343.9Z"/><path d="M580.9 343.9L589.2 337.0L593.6 333.9L585.3 340.8Z"/><path d="M585.3 340.8L593.6 333.9L597.7 338.2L589.4 345.1Z"/><path d="M589.4 345.1L597.7 338.2L602.1 337.0L593.8 343.9Z"/><path d="M593.8 343.9L602.1 337.0L606.2 340.7L598.0 347.6Z"/><path d="M598.0 347.6L606.2 340.7L610.6 337.7L602.4 344.6Z"/><path d="M602.4 344.6L610.6 337.7L615.0 335.1L606.8 342.1Z"/><path d="M606.8 342.1L615.0 335.1L619.2 339.8L610.9 346.7Z"/></g>
<g fill="#ff7800" class="rb"><path d="M423.6 350.7L431.9 343.8L436.2 343.7L427.9 350.7Z"/><path d="M427.9 350.7L436.2 343.7L440.5 343.2L432.3 350.1Z"/><path d="M432.3 350.1L440.5 343.2L444.7 345.9L436.5 352.8Z"/><path d="M436.5 352.8L444.7 345.9L449.2 342.6L440.9 349.5Z"/><path d="M440.9 349.5L449.2 342.6L453.4 344.4L445.1 351.3Z"/><path d="M445.1 351.3L453.4 344.4L457.6 347.1L449.3 354.0Z"/><path d="M449.3 354.0L457.6 347.1L462.0 345.0L453.7 352.0Z"/><path d="M453.7 352.0L462.0 345.0L466.4 342.6L458.1 349.5Z"/><path d="M458.1 349.5L466.4 342.6L470.6 345.6L462.3 352.5Z"/><path d="M462.3 352.5L470.6 345.6L474.8 348.4L466.5 355.3Z"/><path d="M466.5 355.3L474.8 348.4L479.1 346.9L470.8 353.9Z"/><path d="M470.8 353.9L479.1 346.9L483.4 347.6L475.1 354.5Z"/><path d="M475.1 354.5L483.4 347.6L487.8 345.2L479.5 352.1Z"/><path d="M479.5 352.1L487.8 345.2L492.0 347.0L483.8 353.9Z"/><path d="M483.8 353.9L492.0 347.0L496.3 347.9L488.0 354.8Z"/><path d="M488.0 354.8L496.3 347.9L500.6 347.1L492.4 354.0Z"/><path d="M492.4 354.0L500.6 347.1L505.0 344.6L496.7 351.5Z"/><path d="M496.7 351.5L505.0 344.6L509.7 332.7L501.5 339.6Z"/><path d="M501.5 339.6L509.7 332.7L513.6 346.4L505.3 353.4Z"/><path d="M505.3 353.4L513.6 346.4L517.8 348.7L509.5 355.6Z"/><path d="M509.5 355.6L517.8 348.7L522.0 350.4L513.8 357.3Z"/><path d="M513.8 357.3L522.0 350.4L526.3 352.0L518.0 358.9Z"/><path d="M518.0 358.9L526.3 352.0L530.7 349.1L522.4 356.0Z"/><path d="M522.4 356.0L530.7 349.1L535.0 348.3L526.7 355.2Z"/><path d="M526.7 355.2L535.0 348.3L539.6 339.0L531.4 345.9Z"/><path d="M531.4 345.9L539.6 339.0L543.5 352.6L535.2 359.6Z"/><path d="M535.2 359.6L543.5 352.6L547.8 351.7L539.5 358.6Z"/><path d="M539.5 358.6L547.8 351.7L552.1 350.8L543.9 357.7Z"/><path d="M543.9 357.7L552.1 350.8L556.4 351.4L548.1 358.3Z"/><path d="M548.1 358.3L556.4 351.4L560.7 352.1L552.4 359.0Z"/><path d="M552.4 359.0L560.7 352.1L565.0 352.7L556.7 359.6Z"/><path d="M556.7 359.6L565.0 352.7L569.2 355.7L560.9 362.6Z"/><path d="M560.9 362.6L569.2 355.7L573.5 356.2L565.2 363.1Z"/><path d="M565.2 363.1L573.5 356.2L577.9 353.8L569.6 360.7Z"/><path d="M569.6 360.7L577.9 353.8L582.1 355.7L573.8 362.6Z"/><path d="M573.8 362.6L582.1 355.7L586.4 357.0L578.1 363.9Z"/><path d="M578.1 363.9L586.4 357.0L590.6 357.5L582.4 364.4Z"/><path d="M582.4 364.4L590.6 357.5L594.9 358.2L586.6 365.1Z"/><path d="M586.6 365.1L594.9 358.2L599.2 358.4L590.9 365.3Z"/><path d="M590.9 365.3L599.2 358.4L603.5 358.1L595.2 365.0Z"/><path d="M595.2 365.0L603.5 358.1L607.9 357.2L599.6 364.1Z"/></g>
<g fill="#800000" class="rb"><path d="M412.5 361.0L420.8 354.1L425.1 353.8L416.9 360.7Z"/><path d="M416.9 360.7L425.1 353.8L429.4 354.0L421.2 361.0Z"/><path d="M421.2 361.0L429.4 354.0L433.7 354.7L425.4 361.6Z"/><path d="M425.4 361.6L433.7 354.7L438.0 355.0L429.7 361.9Z"/><path d="M429.7 361.9L438.0 355.0L442.3 355.2L434.0 362.1Z"/><path d="M434.0 362.1L442.3 355.2L446.6 355.3L438.3 362.2Z"/><path d="M438.3 362.2L446.6 355.3L450.9 355.3L442.6 362.2Z"/><path d="M442.6 362.2L450.9 355.3L455.2 355.0L446.9 361.9Z"/><path d="M446.9 361.9L455.2 355.0L459.5 356.0L451.2 362.9Z"/><path d="M451.2 362.9L459.5 356.0L463.8 357.0L455.5 364.0Z"/><path d="M455.5 364.0L463.8 357.0L468.0 357.6L459.8 364.5Z"/><path d="M459.8 364.5L468.0 357.6L472.3 357.8L464.1 364.7Z"/><path d="M464.1 364.7L472.3 357.8L476.6 358.0L468.4 364.9Z"/><path d="M468.4 364.9L476.6 358.0L480.9 358.2L472.6 365.1Z"/><path d="M472.6 365.1L480.9 358.2L485.3 357.6L477.0 364.5Z"/><path d="M477.0 364.5L485.3 357.6L489.6 355.7L481.3 362.6Z"/><path d="M481.3 362.6L489.6 355.7L493.9 357.1L485.6 364.0Z"/><path d="M485.6 364.0L493.9 357.1L498.4 351.5L490.1 358.4Z"/><path d="M490.1 358.4L498.4 351.5L502.4 360.1L494.1 367.0Z"/><path d="M494.1 367.0L502.4 360.1L506.7 360.7L498.4 367.6Z"/><path d="M498.4 367.6L506.7 360.7L510.9 361.3L502.7 368.2Z"/><path d="M502.7 368.2L510.9 361.3L515.2 362.0L506.9 368.9Z"/><path d="M506.9 368.9L515.2 362.0L519.5 361.7L511.3 368.6Z"/><path d="M511.3 368.6L519.5 361.7L523.9 361.1L515.6 368.0Z"/><path d="M515.6 368.0L523.9 361.1L528.3 356.5L520.0 363.4Z"/><path d="M520.0 363.4L528.3 356.5L532.4 363.2L524.1 370.1Z"/><path d="M524.1 370.1L532.4 363.2L536.7 363.2L528.4 370.1Z"/><path d="M528.4 370.1L536.7 363.2L541.0 363.2L532.7 370.2Z"/><path d="M532.7 370.2L541.0 363.2L545.3 363.5L537.0 370.4Z"/><path d="M537.0 370.4L545.3 363.5L549.6 363.7L541.3 370.6Z"/><path d="M541.3 370.6L549.6 363.7L553.8 365.0L545.6 371.9Z"/><path d="M545.6 371.9L553.8 365.0L558.2 364.3L549.9 371.3Z"/><path d="M549.9 371.3L558.2 364.3L562.5 364.6L554.2 371.5Z"/><path d="M554.2 371.5L562.5 364.6L566.7 365.4L558.5 372.3Z"/><path d="M558.5 372.3L566.7 365.4L571.0 366.0L562.7 372.9Z"/><path d="M562.7 372.9L571.0 366.0L575.3 366.2L567.0 373.2Z"/><path d="M567.0 373.2L575.3 366.2L579.6 366.2L571.3 373.1Z"/><path d="M571.3 373.1L579.6 366.2L583.9 366.2L575.6 373.1Z"/><path d="M575.6 373.1L583.9 366.2L588.3 365.0L580.0 371.9Z"/><path d="M580.0 371.9L588.3 365.0L592.5 365.6L584.3 372.5Z"/><path d="M584.3 372.5L592.5 365.6L596.8 365.7L588.6 372.6Z"/></g>
<text x="587.4" y="229.2" class="ti" text-anchor="middle">Excerpt 4: Steely Dan</text>
<text x="474.3" y="396.3" class="xl" text-anchor="middle">Time (s)</text>
<rect x="321.5" y="177.5" width="49.5" height="68" fill="#fff" stroke="#333" stroke-width="0.7"/>
<rect x="326" y="181.5" width="24.5" height="9.5" fill="#00008f" stroke="#000" stroke-width="0.6"/>
<text x="353.5" y="188.5" class="lg" text-anchor="start">L</text>
<rect x="326" y="194.6" width="24.5" height="9.5" fill="#0090ff" stroke="#000" stroke-width="0.6"/>
<text x="353.5" y="201.6" class="lg" text-anchor="start">H</text>
<rect x="326" y="207.7" width="24.5" height="9.5" fill="#8cff70" stroke="#000" stroke-width="0.6"/>
<text x="353.5" y="214.7" class="lg" text-anchor="start">C</text>
<rect x="326" y="220.8" width="24.5" height="9.5" fill="#ff7800" stroke="#000" stroke-width="0.6"/>
<text x="353.5" y="227.8" class="lg" text-anchor="start">LS</text>
<rect x="326" y="233.9" width="24.5" height="9.5" fill="#800000" stroke="#000" stroke-width="0.6"/>
<text x="353.5" y="240.9" class="lg" text-anchor="start">HS</text>
</svg>
</body></html>
